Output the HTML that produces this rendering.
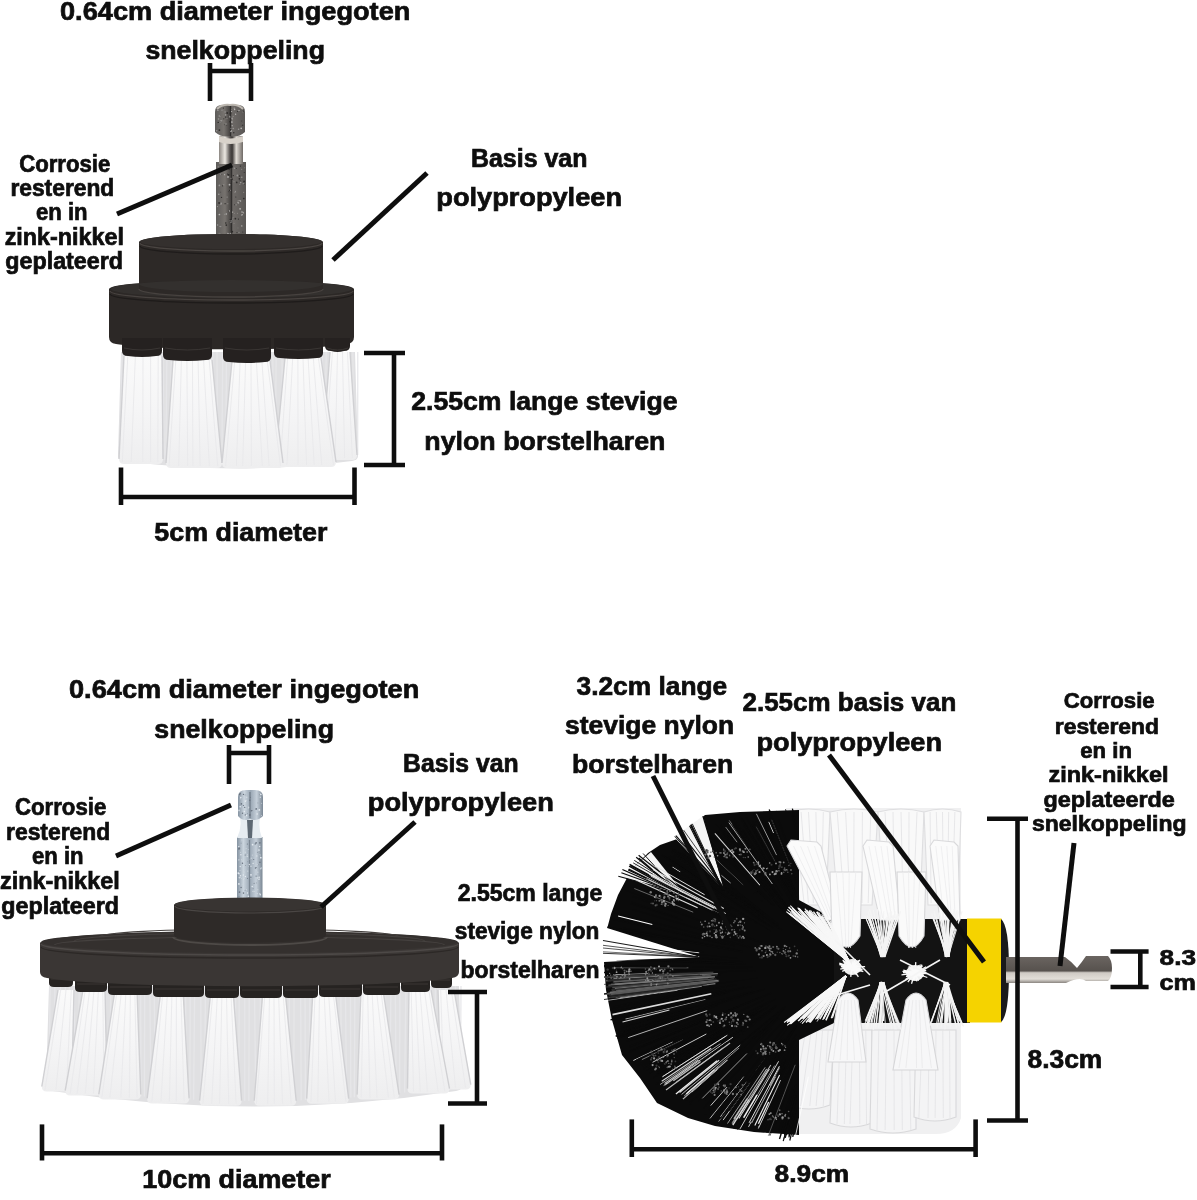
<!DOCTYPE html>
<html><head><meta charset="utf-8"><style>
html,body{margin:0;padding:0;background:#fff;width:1197px;height:1200px;overflow:hidden}
svg{display:block;will-change:transform}
text{font-family:"Liberation Sans",sans-serif;font-weight:bold;fill:#0e0e0e;stroke:#0e0e0e;stroke-width:0.7px}
</style></head><body>
<svg width="1197" height="1200" viewBox="0 0 1197 1200">
<defs>
<linearGradient id="metal" x1="0" x2="1" y1="0" y2="0">
 <stop offset="0" stop-color="#5e5c5a"/><stop offset="0.3" stop-color="#77736f"/><stop offset="0.48" stop-color="#4a4745"/><stop offset="0.52" stop-color="#2e2c2b"/><stop offset="0.56" stop-color="#6e6a67"/><stop offset="1" stop-color="#5a5755"/>
</linearGradient>
<linearGradient id="neck" x1="0" x2="1" y1="0" y2="0">
 <stop offset="0" stop-color="#8c8782"/><stop offset="0.25" stop-color="#ece8e2"/><stop offset="0.45" stop-color="#5a5654"/><stop offset="0.55" stop-color="#3a3634"/><stop offset="0.72" stop-color="#e1dcd5"/><stop offset="1" stop-color="#6f6a66"/>
</linearGradient>
<linearGradient id="metalB" x1="0" x2="1" y1="0" y2="0">
 <stop offset="0" stop-color="#8593a1"/><stop offset="0.25" stop-color="#cbd5de"/><stop offset="0.5" stop-color="#9aa7b4"/><stop offset="0.75" stop-color="#c5cfd9"/><stop offset="1" stop-color="#7a8794"/>
</linearGradient>
<linearGradient id="metalR" x1="0" x2="0" y1="0" y2="1">
 <stop offset="0" stop-color="#6b6561"/><stop offset="0.55" stop-color="#57524e"/><stop offset="0.62" stop-color="#cfcac4"/><stop offset="0.85" stop-color="#e2ded8"/><stop offset="1" stop-color="#8a8580"/>
</linearGradient>
<linearGradient id="tuft" x1="0" x2="0" y1="0" y2="1">
 <stop offset="0" stop-color="#fafafa"/><stop offset="0.5" stop-color="#f5f5f6"/><stop offset="1" stop-color="#eeeeef"/>
</linearGradient>
<linearGradient id="tuftR" x1="0" x2="1" y1="0" y2="0">
 <stop offset="0" stop-color="#e6e6e7"/><stop offset="0.5" stop-color="#fbfbfb"/><stop offset="1" stop-color="#e2e2e3"/>
</linearGradient>
<linearGradient id="sideT" x1="0" x2="1" y1="0" y2="0">
 <stop offset="0" stop-color="#2a2624"/><stop offset="0.5" stop-color="#322e2c"/><stop offset="1" stop-color="#262220"/>
</linearGradient>
<linearGradient id="sideB" x1="0" x2="1" y1="0" y2="0">
 <stop offset="0" stop-color="#353130"/><stop offset="0.5" stop-color="#3b3735"/><stop offset="1" stop-color="#322e2c"/>
</linearGradient>
</defs>
<rect x="216" y="162" width="30" height="82" fill="url(#metal)"/>
<rect x="219" y="136" width="24" height="28" fill="url(#neck)"/>
<path d="M215,112 Q215,105 222,105 L238,105 Q245,105 245,112 L245,132 Q238,138 230,136 Q222,138 215,132 Z" fill="url(#metal)"/>
<path d="M217,109 Q222,104 230,105 Q238,104 243,109" stroke="#bdb8b1" stroke-width="2" fill="none"/>
<circle cx="225.1" cy="111.9" r="0.73" fill="#9a9896"/>
<circle cx="239.0" cy="110.4" r="0.69" fill="#b8b6b4"/>
<circle cx="222.0" cy="110.2" r="0.61" fill="#9a9896"/>
<circle cx="218.5" cy="119.0" r="0.81" fill="#9a9896"/>
<circle cx="242.5" cy="124.4" r="0.69" fill="#9a9896"/>
<circle cx="232.2" cy="118.3" r="0.89" fill="#9a9896"/>
<circle cx="231.6" cy="111.5" r="0.61" fill="#b8b6b4"/>
<circle cx="219.3" cy="116.0" r="0.81" fill="#9a9896"/>
<circle cx="218.9" cy="122.9" r="0.49" fill="#9a9896"/>
<circle cx="231.3" cy="109.6" r="0.43" fill="#9a9896"/>
<circle cx="229.9" cy="121.8" r="0.79" fill="#2e2c2b"/>
<circle cx="232.4" cy="119.8" r="0.55" fill="#9a9896"/>
<circle cx="235.6" cy="114.3" r="0.69" fill="#b8b6b4"/>
<circle cx="229.9" cy="116.9" r="0.62" fill="#b8b6b4"/>
<circle cx="243.4" cy="111.1" r="0.61" fill="#2e2c2b"/>
<circle cx="220.3" cy="120.7" r="0.42" fill="#b8b6b4"/>
<circle cx="218.2" cy="122.5" r="0.79" fill="#2e2c2b"/>
<circle cx="225.5" cy="117.1" r="0.65" fill="#2e2c2b"/>
<circle cx="217.9" cy="110.4" r="0.53" fill="#b8b6b4"/>
<circle cx="234.6" cy="109.6" r="0.75" fill="#b8b6b4"/>
<circle cx="232.2" cy="125.7" r="0.62" fill="#b8b6b4"/>
<circle cx="226.8" cy="125.4" r="0.41" fill="#2e2c2b"/>
<circle cx="226.0" cy="123.9" r="0.65" fill="#9a9896"/>
<circle cx="237.5" cy="111.4" r="0.52" fill="#2e2c2b"/>
<circle cx="241.7" cy="120.9" r="0.48" fill="#2e2c2b"/>
<circle cx="231.4" cy="131.0" r="0.81" fill="#b8b6b4"/>
<circle cx="223.8" cy="118.8" r="0.58" fill="#2e2c2b"/>
<circle cx="242.8" cy="111.9" r="0.49" fill="#9a9896"/>
<circle cx="234.4" cy="108.3" r="0.82" fill="#9a9896"/>
<circle cx="223.4" cy="108.1" r="0.61" fill="#2e2c2b"/>
<circle cx="233.1" cy="116.3" r="0.46" fill="#b8b6b4"/>
<circle cx="242.6" cy="125.0" r="0.77" fill="#2e2c2b"/>
<circle cx="241.2" cy="128.3" r="0.84" fill="#b8b6b4"/>
<circle cx="227.0" cy="118.4" r="0.45" fill="#b8b6b4"/>
<circle cx="227.2" cy="113.0" r="0.89" fill="#2e2c2b"/>
<circle cx="220.5" cy="116.8" r="0.43" fill="#9a9896"/>
<circle cx="231.9" cy="122.0" r="0.87" fill="#b8b6b4"/>
<circle cx="216.7" cy="130.7" r="0.71" fill="#9a9896"/>
<circle cx="233.8" cy="132.8" r="0.70" fill="#2e2c2b"/>
<circle cx="219.4" cy="130.1" r="0.90" fill="#2e2c2b"/>
<circle cx="229.5" cy="116.1" r="0.47" fill="#b8b6b4"/>
<circle cx="225.6" cy="114.9" r="0.81" fill="#9a9896"/>
<circle cx="230.5" cy="113.3" r="0.88" fill="#2e2c2b"/>
<circle cx="220.1" cy="122.1" r="0.41" fill="#b8b6b4"/>
<circle cx="224.3" cy="124.7" r="0.45" fill="#2e2c2b"/>
<circle cx="230.5" cy="131.6" r="0.58" fill="#9a9896"/>
<circle cx="230.9" cy="128.3" r="0.56" fill="#9a9896"/>
<circle cx="233.2" cy="128.5" r="0.78" fill="#9a9896"/>
<circle cx="238.6" cy="129.3" r="0.77" fill="#9a9896"/>
<circle cx="221.6" cy="120.8" r="0.77" fill="#9a9896"/>
<circle cx="239.1" cy="200.4" r="0.50" fill="#b8b6b4"/>
<circle cx="243.8" cy="198.5" r="0.87" fill="#2e2c2b"/>
<circle cx="243.7" cy="192.3" r="0.51" fill="#9a9896"/>
<circle cx="230.2" cy="190.3" r="0.64" fill="#b8b6b4"/>
<circle cx="240.5" cy="201.0" r="0.73" fill="#b8b6b4"/>
<circle cx="219.4" cy="214.5" r="0.85" fill="#b8b6b4"/>
<circle cx="238.0" cy="200.9" r="0.49" fill="#b8b6b4"/>
<circle cx="226.3" cy="225.1" r="0.89" fill="#2e2c2b"/>
<circle cx="230.0" cy="220.8" r="0.44" fill="#9a9896"/>
<circle cx="221.8" cy="174.5" r="0.48" fill="#2e2c2b"/>
<circle cx="239.6" cy="176.0" r="0.81" fill="#2e2c2b"/>
<circle cx="235.4" cy="191.3" r="0.67" fill="#9a9896"/>
<circle cx="217.6" cy="225.0" r="0.76" fill="#9a9896"/>
<circle cx="231.7" cy="235.0" r="0.62" fill="#9a9896"/>
<circle cx="240.1" cy="180.8" r="0.53" fill="#2e2c2b"/>
<circle cx="231.0" cy="222.3" r="0.56" fill="#b8b6b4"/>
<circle cx="228.7" cy="174.8" r="0.86" fill="#2e2c2b"/>
<circle cx="242.1" cy="214.7" r="0.81" fill="#b8b6b4"/>
<circle cx="228.8" cy="233.8" r="0.65" fill="#b8b6b4"/>
<circle cx="221.3" cy="203.3" r="0.84" fill="#9a9896"/>
<circle cx="234.0" cy="223.2" r="0.47" fill="#9a9896"/>
<circle cx="230.3" cy="219.4" r="0.68" fill="#2e2c2b"/>
<circle cx="236.1" cy="204.8" r="0.64" fill="#9a9896"/>
<circle cx="241.7" cy="169.3" r="0.50" fill="#9a9896"/>
<circle cx="238.6" cy="203.1" r="0.68" fill="#9a9896"/>
<circle cx="229.4" cy="210.9" r="0.65" fill="#b8b6b4"/>
<circle cx="222.6" cy="185.8" r="0.65" fill="#2e2c2b"/>
<circle cx="231.2" cy="183.6" r="0.66" fill="#2e2c2b"/>
<circle cx="242.8" cy="232.0" r="0.50" fill="#2e2c2b"/>
<circle cx="220.8" cy="174.1" r="0.62" fill="#9a9896"/>
<circle cx="235.8" cy="197.1" r="0.51" fill="#2e2c2b"/>
<circle cx="239.0" cy="232.3" r="0.48" fill="#b8b6b4"/>
<circle cx="235.0" cy="192.5" r="0.53" fill="#9a9896"/>
<circle cx="244.1" cy="181.5" r="0.88" fill="#2e2c2b"/>
<circle cx="241.8" cy="177.2" r="0.73" fill="#9a9896"/>
<circle cx="221.5" cy="197.4" r="0.66" fill="#2e2c2b"/>
<circle cx="228.8" cy="191.7" r="0.45" fill="#2e2c2b"/>
<circle cx="217.5" cy="206.6" r="0.62" fill="#9a9896"/>
<circle cx="227.8" cy="203.8" r="0.55" fill="#9a9896"/>
<circle cx="220.2" cy="233.9" r="0.51" fill="#9a9896"/>
<circle cx="219.4" cy="185.4" r="0.85" fill="#9a9896"/>
<circle cx="224.6" cy="174.7" r="0.61" fill="#b8b6b4"/>
<circle cx="239.9" cy="184.4" r="0.47" fill="#b8b6b4"/>
<circle cx="233.0" cy="217.5" r="0.44" fill="#9a9896"/>
<circle cx="239.4" cy="178.8" r="0.85" fill="#2e2c2b"/>
<circle cx="243.3" cy="212.6" r="0.80" fill="#9a9896"/>
<circle cx="234.0" cy="181.7" r="0.53" fill="#9a9896"/>
<circle cx="229.7" cy="190.4" r="0.68" fill="#2e2c2b"/>
<circle cx="234.4" cy="168.2" r="0.75" fill="#9a9896"/>
<circle cx="244.1" cy="184.6" r="0.49" fill="#2e2c2b"/>
<circle cx="234.6" cy="204.8" r="0.50" fill="#2e2c2b"/>
<circle cx="231.0" cy="178.3" r="0.57" fill="#9a9896"/>
<circle cx="244.8" cy="167.8" r="0.41" fill="#b8b6b4"/>
<circle cx="232.4" cy="179.2" r="0.64" fill="#2e2c2b"/>
<circle cx="220.0" cy="226.4" r="0.62" fill="#2e2c2b"/>
<circle cx="232.3" cy="231.7" r="0.89" fill="#2e2c2b"/>
<circle cx="236.3" cy="238.7" r="0.57" fill="#b8b6b4"/>
<circle cx="237.4" cy="175.5" r="0.89" fill="#9a9896"/>
<circle cx="240.4" cy="166.1" r="0.71" fill="#2e2c2b"/>
<circle cx="229.1" cy="169.2" r="0.73" fill="#2e2c2b"/>
<circle cx="241.4" cy="215.3" r="0.54" fill="#9a9896"/>
<circle cx="236.4" cy="168.4" r="0.49" fill="#2e2c2b"/>
<circle cx="229.5" cy="184.7" r="0.88" fill="#b8b6b4"/>
<circle cx="226.1" cy="167.6" r="0.84" fill="#9a9896"/>
<circle cx="227.0" cy="165.1" r="0.59" fill="#2e2c2b"/>
<circle cx="224.8" cy="214.2" r="0.52" fill="#9a9896"/>
<circle cx="219.5" cy="226.3" r="0.47" fill="#b8b6b4"/>
<circle cx="218.2" cy="166.7" r="0.55" fill="#9a9896"/>
<circle cx="219.4" cy="236.8" r="0.83" fill="#9a9896"/>
<circle cx="235.4" cy="218.7" r="0.84" fill="#2e2c2b"/>
<circle cx="238.4" cy="219.1" r="0.65" fill="#2e2c2b"/>
<circle cx="237.3" cy="213.2" r="0.42" fill="#b8b6b4"/>
<circle cx="242.0" cy="212.0" r="0.77" fill="#b8b6b4"/>
<circle cx="220.9" cy="204.3" r="0.65" fill="#9a9896"/>
<circle cx="240.1" cy="208.8" r="0.85" fill="#b8b6b4"/>
<circle cx="243.8" cy="213.2" r="0.44" fill="#9a9896"/>
<circle cx="220.7" cy="192.1" r="0.45" fill="#2e2c2b"/>
<circle cx="232.6" cy="212.1" r="0.71" fill="#b8b6b4"/>
<circle cx="223.8" cy="184.8" r="0.63" fill="#9a9896"/>
<circle cx="238.0" cy="202.7" r="0.67" fill="#b8b6b4"/>
<circle cx="231.7" cy="220.9" r="0.64" fill="#9a9896"/>
<circle cx="240.7" cy="182.6" r="0.78" fill="#9a9896"/>
<circle cx="237.7" cy="238.2" r="0.65" fill="#2e2c2b"/>
<circle cx="219.1" cy="233.3" r="0.54" fill="#9a9896"/>
<circle cx="234.3" cy="213.2" r="0.44" fill="#9a9896"/>
<circle cx="226.3" cy="213.9" r="0.75" fill="#b8b6b4"/>
<circle cx="232.9" cy="165.9" r="0.43" fill="#2e2c2b"/>
<circle cx="244.2" cy="172.5" r="0.51" fill="#2e2c2b"/>
<circle cx="225.1" cy="203.7" r="0.63" fill="#2e2c2b"/>
<circle cx="238.5" cy="239.5" r="0.67" fill="#2e2c2b"/>
<circle cx="244.4" cy="235.2" r="0.41" fill="#2e2c2b"/>
<circle cx="219.1" cy="203.0" r="0.90" fill="#2e2c2b"/>
<circle cx="227.8" cy="233.7" r="0.87" fill="#9a9896"/>
<circle cx="233.3" cy="175.6" r="0.66" fill="#2e2c2b"/>
<circle cx="220.7" cy="226.5" r="0.65" fill="#9a9896"/>
<circle cx="236.7" cy="182.4" r="0.85" fill="#2e2c2b"/>
<circle cx="228.0" cy="176.9" r="0.87" fill="#b8b6b4"/>
<circle cx="229.6" cy="187.6" r="0.47" fill="#2e2c2b"/>
<circle cx="227.5" cy="174.1" r="0.57" fill="#2e2c2b"/>
<circle cx="238.0" cy="227.9" r="0.46" fill="#9a9896"/>
<circle cx="237.0" cy="232.6" r="0.54" fill="#2e2c2b"/>
<circle cx="218.8" cy="194.3" r="0.83" fill="#9a9896"/>
<circle cx="227.1" cy="197.1" r="0.54" fill="#9a9896"/>
<circle cx="224.9" cy="168.9" r="0.73" fill="#b8b6b4"/>
<circle cx="243.2" cy="183.7" r="0.53" fill="#b8b6b4"/>
<circle cx="225.8" cy="223.0" r="0.79" fill="#2e2c2b"/>
<circle cx="241.8" cy="225.9" r="0.72" fill="#b8b6b4"/>
<circle cx="232.4" cy="219.0" r="0.42" fill="#b8b6b4"/>
<circle cx="228.5" cy="211.1" r="0.47" fill="#2e2c2b"/>
<circle cx="230.6" cy="233.4" r="0.68" fill="#9a9896"/>
<path d="M219,136 Q230,141 243,136 L243,142 Q230,146 219,142 Z" fill="#d8d2ca"/>
<path d="M139,242 A92,8 0 0 1 323,242 L323,284 Q323,288 317,289 A92,8 0 0 1 145,289 Q139,288 139,284 Z" fill="#2d2927"/>
<ellipse cx="231" cy="241.5" rx="91" ry="7.5" fill="#34302e"/>
<path d="M140,243 A91,8 0 0 0 322,243" stroke="#4a4542" stroke-width="1.4" fill="none"/>
<path d="M140,246 A91,8 0 0 0 322,246" stroke="#1f1c1b" stroke-width="1.4" fill="none"/>
<path d="M109,289 A122.5,9 0 0 1 354,289 L354,337 Q354,343 347,344 A122.5,8 0 0 1 116,344 Q109,343 109,337 Z" fill="#2c2826"/>
<path d="M111,289 A120.5,9 0 0 1 352,289 A120.5,9 0 0 1 111,289 Z" fill="#33302e"/>
<path d="M139,284 L139,289 A92,8 0 0 0 323,289 L323,284 A92,8 0 0 1 139,284 Z" fill="#2d2927"/>
<path d="M139,289 A92,8 0 0 0 323,289" stroke="#47423f" stroke-width="1.4" fill="none"/>
<path d="M110,291 A121.5,9 0 0 0 353,291" stroke="#47423f" stroke-width="1.4" fill="none"/>
<path d="M110,294 A121.5,9 0 0 0 353,294" stroke="#1e1b1a" stroke-width="1.4" fill="none"/>
<path d="M121,352 L355,352 L358,456 Q358,460 352,461 Q238.0,476 124,461 Q118,460 118,456 Z" fill="#e0e0e2"/>
<line x1="121.9" y1="352" x2="121.5" y2="455.5" stroke="#e6e6e9" stroke-width="1.2"/>
<line x1="126.6" y1="352" x2="127.3" y2="456.1" stroke="#e6e6e9" stroke-width="1.2"/>
<line x1="133.0" y1="352" x2="132.2" y2="456.9" stroke="#e6e6e9" stroke-width="1.2"/>
<line x1="137.3" y1="352" x2="136.7" y2="457.4" stroke="#e6e6e9" stroke-width="1.2"/>
<line x1="142.1" y1="352" x2="141.8" y2="457.9" stroke="#e6e6e9" stroke-width="1.2"/>
<line x1="146.3" y1="352" x2="145.3" y2="458.3" stroke="#e6e6e9" stroke-width="1.2"/>
<line x1="151.4" y1="352" x2="152.6" y2="458.8" stroke="#e6e6e9" stroke-width="1.2"/>
<line x1="157.0" y1="352" x2="156.2" y2="459.4" stroke="#e6e6e9" stroke-width="1.2"/>
<line x1="162.8" y1="352" x2="164.3" y2="459.9" stroke="#e6e6e9" stroke-width="1.2"/>
<line x1="166.9" y1="352" x2="165.8" y2="460.2" stroke="#e6e6e9" stroke-width="1.2"/>
<line x1="171.4" y1="352" x2="170.2" y2="460.5" stroke="#e6e6e9" stroke-width="1.2"/>
<line x1="176.7" y1="352" x2="175.5" y2="460.9" stroke="#e6e6e9" stroke-width="1.2"/>
<line x1="181.5" y1="352" x2="180.8" y2="461.2" stroke="#e6e6e9" stroke-width="1.2"/>
<line x1="187.1" y1="352" x2="188.3" y2="461.6" stroke="#e6e6e9" stroke-width="1.2"/>
<line x1="192.5" y1="352" x2="192.2" y2="461.8" stroke="#e6e6e9" stroke-width="1.2"/>
<line x1="196.8" y1="352" x2="196.9" y2="462.1" stroke="#e6e6e9" stroke-width="1.2"/>
<line x1="201.8" y1="352" x2="201.3" y2="462.3" stroke="#e6e6e9" stroke-width="1.2"/>
<line x1="206.1" y1="352" x2="205.5" y2="462.4" stroke="#e6e6e9" stroke-width="1.2"/>
<line x1="212.9" y1="352" x2="211.8" y2="462.7" stroke="#e6e6e9" stroke-width="1.2"/>
<line x1="217.0" y1="352" x2="217.4" y2="462.8" stroke="#e6e6e9" stroke-width="1.2"/>
<line x1="222.7" y1="352" x2="221.9" y2="462.9" stroke="#e6e6e9" stroke-width="1.2"/>
<line x1="226.5" y1="352" x2="225.8" y2="462.9" stroke="#e6e6e9" stroke-width="1.2"/>
<line x1="231.8" y1="352" x2="231.6" y2="463.0" stroke="#e6e6e9" stroke-width="1.2"/>
<line x1="237.9" y1="352" x2="239.0" y2="463.0" stroke="#e6e6e9" stroke-width="1.2"/>
<line x1="242.7" y1="352" x2="241.3" y2="463.0" stroke="#e6e6e9" stroke-width="1.2"/>
<line x1="246.1" y1="352" x2="246.7" y2="463.0" stroke="#e6e6e9" stroke-width="1.2"/>
<line x1="252.8" y1="352" x2="252.7" y2="462.9" stroke="#e6e6e9" stroke-width="1.2"/>
<line x1="257.2" y1="352" x2="255.7" y2="462.8" stroke="#e6e6e9" stroke-width="1.2"/>
<line x1="261.8" y1="352" x2="263.1" y2="462.7" stroke="#e6e6e9" stroke-width="1.2"/>
<line x1="267.7" y1="352" x2="268.7" y2="462.5" stroke="#e6e6e9" stroke-width="1.2"/>
<line x1="272.9" y1="352" x2="272.2" y2="462.3" stroke="#e6e6e9" stroke-width="1.2"/>
<line x1="276.2" y1="352" x2="275.2" y2="462.2" stroke="#e6e6e9" stroke-width="1.2"/>
<line x1="282.0" y1="352" x2="282.6" y2="461.9" stroke="#e6e6e9" stroke-width="1.2"/>
<line x1="287.9" y1="352" x2="288.5" y2="461.6" stroke="#e6e6e9" stroke-width="1.2"/>
<line x1="292.3" y1="352" x2="293.1" y2="461.4" stroke="#e6e6e9" stroke-width="1.2"/>
<line x1="296.9" y1="352" x2="297.1" y2="461.1" stroke="#e6e6e9" stroke-width="1.2"/>
<line x1="301.1" y1="352" x2="301.9" y2="460.8" stroke="#e6e6e9" stroke-width="1.2"/>
<line x1="306.5" y1="352" x2="307.7" y2="460.4" stroke="#e6e6e9" stroke-width="1.2"/>
<line x1="312.3" y1="352" x2="311.7" y2="459.9" stroke="#e6e6e9" stroke-width="1.2"/>
<line x1="316.3" y1="352" x2="315.5" y2="459.6" stroke="#e6e6e9" stroke-width="1.2"/>
<line x1="322.3" y1="352" x2="322.9" y2="459.1" stroke="#e6e6e9" stroke-width="1.2"/>
<line x1="326.2" y1="352" x2="324.9" y2="458.7" stroke="#e6e6e9" stroke-width="1.2"/>
<line x1="332.0" y1="352" x2="332.3" y2="458.1" stroke="#e6e6e9" stroke-width="1.2"/>
<line x1="336.8" y1="352" x2="335.9" y2="457.6" stroke="#e6e6e9" stroke-width="1.2"/>
<line x1="342.2" y1="352" x2="340.7" y2="457.0" stroke="#e6e6e9" stroke-width="1.2"/>
<line x1="346.6" y1="352" x2="346.5" y2="456.4" stroke="#e6e6e9" stroke-width="1.2"/>
<line x1="352.9" y1="352" x2="353.4" y2="455.7" stroke="#e6e6e9" stroke-width="1.2"/>
<line x1="357.8" y1="352" x2="357.7" y2="455.0" stroke="#e6e6e9" stroke-width="1.2"/>
<path d="M124,356 L162,356 L163,459 Q163,464 158,464 L124,464 Q119,464 119,459 Z" fill="url(#tuft)"/>
<path d="M124,356 L119,459" stroke="#d0d0d3" stroke-width="1.4" fill="none"/>
<path d="M162,356 L163,459" stroke="#d0d0d3" stroke-width="1.4" fill="none"/>
<line x1="127.8" y1="356" x2="122.3" y2="462" stroke="#e9e9eb" stroke-width="0.9"/>
<line x1="135.4" y1="356" x2="131.2" y2="462" stroke="#e9e9eb" stroke-width="0.9"/>
<line x1="143.0" y1="356" x2="142.8" y2="462" stroke="#e9e9eb" stroke-width="0.9"/>
<line x1="150.6" y1="356" x2="150.6" y2="462" stroke="#e9e9eb" stroke-width="0.9"/>
<line x1="158.2" y1="356" x2="157.8" y2="462" stroke="#e9e9eb" stroke-width="0.9"/>
<path d="M330,352 L350,352 L357,455 Q357,460 352,460 L327,460 Q322,460 322,455 Z" fill="url(#tuft)"/>
<path d="M330,352 L322,455" stroke="#d0d0d3" stroke-width="1.4" fill="none"/>
<path d="M350,352 L357,455" stroke="#d0d0d3" stroke-width="1.4" fill="none"/>
<line x1="332.5" y1="352" x2="324.5" y2="458" stroke="#e9e9eb" stroke-width="0.9"/>
<line x1="337.5" y1="352" x2="335.1" y2="458" stroke="#e9e9eb" stroke-width="0.9"/>
<line x1="342.5" y1="352" x2="344.6" y2="458" stroke="#e9e9eb" stroke-width="0.9"/>
<line x1="347.5" y1="352" x2="352.3" y2="458" stroke="#e9e9eb" stroke-width="0.9"/>
<path d="M173,360 L212,360 L222,463 Q222,468 217,468 L171,468 Q166,468 166,463 Z" fill="url(#tuft)"/>
<path d="M173,360 L166,463" stroke="#d0d0d3" stroke-width="1.4" fill="none"/>
<path d="M212,360 L222,463" stroke="#d0d0d3" stroke-width="1.4" fill="none"/>
<line x1="175.8" y1="360" x2="169.0" y2="466" stroke="#e9e9eb" stroke-width="0.9"/>
<line x1="181.4" y1="360" x2="178.7" y2="466" stroke="#e9e9eb" stroke-width="0.9"/>
<line x1="186.9" y1="360" x2="187.7" y2="466" stroke="#e9e9eb" stroke-width="0.9"/>
<line x1="192.5" y1="360" x2="192.9" y2="466" stroke="#e9e9eb" stroke-width="0.9"/>
<line x1="198.1" y1="360" x2="200.1" y2="466" stroke="#e9e9eb" stroke-width="0.9"/>
<line x1="203.6" y1="360" x2="209.4" y2="466" stroke="#e9e9eb" stroke-width="0.9"/>
<line x1="209.2" y1="360" x2="217.7" y2="466" stroke="#e9e9eb" stroke-width="0.9"/>
<path d="M285,358 L321,358 L336,462 Q336,467 331,467 L280,467 Q275,467 275,462 Z" fill="url(#tuft)"/>
<path d="M285,358 L275,462" stroke="#d0d0d3" stroke-width="1.4" fill="none"/>
<path d="M321,358 L336,462" stroke="#d0d0d3" stroke-width="1.4" fill="none"/>
<line x1="287.6" y1="358" x2="280.1" y2="465" stroke="#e9e9eb" stroke-width="0.9"/>
<line x1="292.7" y1="358" x2="286.9" y2="465" stroke="#e9e9eb" stroke-width="0.9"/>
<line x1="297.9" y1="358" x2="298.0" y2="465" stroke="#e9e9eb" stroke-width="0.9"/>
<line x1="303.0" y1="358" x2="306.5" y2="465" stroke="#e9e9eb" stroke-width="0.9"/>
<line x1="308.1" y1="358" x2="314.2" y2="465" stroke="#e9e9eb" stroke-width="0.9"/>
<line x1="313.3" y1="358" x2="321.7" y2="465" stroke="#e9e9eb" stroke-width="0.9"/>
<line x1="318.4" y1="358" x2="333.5" y2="465" stroke="#e9e9eb" stroke-width="0.9"/>
<path d="M232,361 L270,361 L283,463 Q283,468 278,468 L227,468 Q222,468 222,463 Z" fill="url(#tuft)"/>
<path d="M232,361 L222,463" stroke="#d0d0d3" stroke-width="1.4" fill="none"/>
<path d="M270,361 L283,463" stroke="#d0d0d3" stroke-width="1.4" fill="none"/>
<line x1="234.7" y1="361" x2="225.6" y2="466" stroke="#e9e9eb" stroke-width="0.9"/>
<line x1="240.1" y1="361" x2="236.4" y2="466" stroke="#e9e9eb" stroke-width="0.9"/>
<line x1="245.6" y1="361" x2="242.7" y2="466" stroke="#e9e9eb" stroke-width="0.9"/>
<line x1="251.0" y1="361" x2="251.4" y2="466" stroke="#e9e9eb" stroke-width="0.9"/>
<line x1="256.4" y1="361" x2="262.3" y2="466" stroke="#e9e9eb" stroke-width="0.9"/>
<line x1="261.9" y1="361" x2="269.1" y2="466" stroke="#e9e9eb" stroke-width="0.9"/>
<line x1="267.3" y1="361" x2="280.5" y2="466" stroke="#e9e9eb" stroke-width="0.9"/>
<path d="M122,338 L162,338 L162,351 Q162,356 156,356 Q142.0,358 128,356 Q122,356 122,351 Z" fill="#252120"/>
<path d="M124,348 Q142.0,352 160,348" stroke="#3a3634" stroke-width="1" fill="none"/>
<path d="M325,338 L350,338 L350,346 Q350,351 344,351 Q337.5,353 331,351 Q325,351 325,346 Z" fill="#252120"/>
<path d="M327,348 Q337.5,352 348,348" stroke="#3a3634" stroke-width="1" fill="none"/>
<path d="M163,338 L212,338 L212,355 Q212,360 206,360 Q187.5,362 169,360 Q163,360 163,355 Z" fill="#252120"/>
<path d="M165,348 Q187.5,352 210,348" stroke="#3a3634" stroke-width="1" fill="none"/>
<path d="M274,338 L323,338 L323,353 Q323,358 317,358 Q298.5,360 280,358 Q274,358 274,353 Z" fill="#252120"/>
<path d="M276,348 Q298.5,352 321,348" stroke="#3a3634" stroke-width="1" fill="none"/>
<path d="M223,338 L271,338 L271,357 Q271,362 265,362 Q247.0,364 229,362 Q223,362 223,357 Z" fill="#252120"/>
<path d="M225,348 Q247.0,352 269,348" stroke="#3a3634" stroke-width="1" fill="none"/>
<line x1="117.0" y1="214.0" x2="232.0" y2="165.0" stroke="#0e0e0e" stroke-width="5" stroke-linecap="butt"/>
<line x1="427.0" y1="173.0" x2="333.0" y2="260.0" stroke="#0e0e0e" stroke-width="5" stroke-linecap="butt"/>
<path d="M210,63 L210,101 M251,63 L251,101 M210,71 L251,71" stroke="#0e0e0e" stroke-width="4.6" fill="none"/>
<line x1="394.0" y1="353.0" x2="394.0" y2="465.0" stroke="#0e0e0e" stroke-width="4.6" stroke-linecap="butt"/>
<line x1="364.0" y1="353.0" x2="405.0" y2="353.0" stroke="#0e0e0e" stroke-width="4.6" stroke-linecap="butt"/>
<line x1="364.0" y1="465.0" x2="405.0" y2="465.0" stroke="#0e0e0e" stroke-width="4.6" stroke-linecap="butt"/>
<line x1="121.0" y1="497.0" x2="354.5" y2="497.0" stroke="#0e0e0e" stroke-width="4.6" stroke-linecap="butt"/>
<line x1="121.0" y1="467.5" x2="121.0" y2="505.0" stroke="#0e0e0e" stroke-width="4.6" stroke-linecap="butt"/>
<line x1="354.5" y1="467.5" x2="354.5" y2="505.0" stroke="#0e0e0e" stroke-width="4.6" stroke-linecap="butt"/>
<rect x="237" y="837" width="25.5" height="66" fill="url(#metalB)"/>
<path d="M240,818 L260,818 Q258,828 262,838 L237,838 Q242,828 240,818 Z" fill="#e6ecf1"/>
<path d="M247,820 L253,820 L252,838 L248,838 Z" fill="#5d6873"/>
<path d="M238,797 Q238,790 246,790 L255,790 Q263,790 263,797 L263,816 Q257,822 250,819 Q243,822 238,816 Z" fill="url(#metalB)"/>
<line x1="250" y1="792" x2="250" y2="818" stroke="#6f7b86" stroke-width="1.2"/>
<line x1="249.5" y1="840" x2="249.5" y2="900" stroke="#7a8692" stroke-width="1.2"/>
<circle cx="250.4" cy="797.3" r="0.51" fill="#6a7480"/>
<circle cx="259.9" cy="794.3" r="0.70" fill="#6a7480"/>
<circle cx="240.3" cy="793.5" r="0.70" fill="#6a7480"/>
<circle cx="240.2" cy="794.4" r="0.60" fill="#cfd7de"/>
<circle cx="259.3" cy="809.9" r="0.90" fill="#e4eaf0"/>
<circle cx="246.6" cy="797.3" r="0.87" fill="#cfd7de"/>
<circle cx="249.8" cy="800.2" r="0.76" fill="#6a7480"/>
<circle cx="261.7" cy="803.2" r="0.45" fill="#e4eaf0"/>
<circle cx="245.4" cy="801.1" r="0.88" fill="#e4eaf0"/>
<circle cx="251.9" cy="810.5" r="0.59" fill="#6a7480"/>
<circle cx="257.9" cy="802.9" r="0.42" fill="#6a7480"/>
<circle cx="243.5" cy="805.5" r="0.62" fill="#6a7480"/>
<circle cx="247.4" cy="813.6" r="0.42" fill="#6a7480"/>
<circle cx="244.7" cy="807.4" r="0.60" fill="#6a7480"/>
<circle cx="239.8" cy="794.4" r="0.86" fill="#6a7480"/>
<circle cx="243.5" cy="794.4" r="0.70" fill="#6a7480"/>
<circle cx="245.3" cy="815.0" r="0.71" fill="#6a7480"/>
<circle cx="256.2" cy="808.9" r="0.86" fill="#6a7480"/>
<circle cx="239.1" cy="810.4" r="0.86" fill="#cfd7de"/>
<circle cx="260.8" cy="794.5" r="0.81" fill="#e4eaf0"/>
<circle cx="249.9" cy="815.0" r="0.88" fill="#6a7480"/>
<circle cx="257.2" cy="814.0" r="0.81" fill="#e4eaf0"/>
<circle cx="260.3" cy="797.2" r="0.80" fill="#cfd7de"/>
<circle cx="246.0" cy="808.9" r="0.48" fill="#e4eaf0"/>
<circle cx="246.5" cy="800.3" r="0.58" fill="#cfd7de"/>
<circle cx="240.8" cy="797.5" r="0.78" fill="#e4eaf0"/>
<circle cx="248.4" cy="807.9" r="0.64" fill="#cfd7de"/>
<circle cx="246.5" cy="815.5" r="0.84" fill="#e4eaf0"/>
<circle cx="245.1" cy="794.9" r="0.45" fill="#6a7480"/>
<circle cx="261.7" cy="815.4" r="0.49" fill="#e4eaf0"/>
<circle cx="248.6" cy="807.3" r="0.74" fill="#cfd7de"/>
<circle cx="251.4" cy="810.8" r="0.78" fill="#6a7480"/>
<circle cx="245.8" cy="806.0" r="0.59" fill="#cfd7de"/>
<circle cx="245.0" cy="803.1" r="0.49" fill="#e4eaf0"/>
<circle cx="242.5" cy="813.3" r="0.69" fill="#6a7480"/>
<circle cx="240.5" cy="798.8" r="0.52" fill="#cfd7de"/>
<circle cx="244.3" cy="811.6" r="0.73" fill="#e4eaf0"/>
<circle cx="241.4" cy="803.9" r="0.81" fill="#6a7480"/>
<circle cx="260.0" cy="793.9" r="0.55" fill="#e4eaf0"/>
<circle cx="240.2" cy="806.8" r="0.81" fill="#e4eaf0"/>
<circle cx="259.9" cy="862.3" r="0.83" fill="#6a7480"/>
<circle cx="252.2" cy="886.5" r="0.73" fill="#e4eaf0"/>
<circle cx="240.5" cy="875.8" r="0.71" fill="#e4eaf0"/>
<circle cx="238.9" cy="860.4" r="0.42" fill="#6a7480"/>
<circle cx="238.9" cy="883.9" r="0.86" fill="#e4eaf0"/>
<circle cx="257.2" cy="864.5" r="0.59" fill="#cfd7de"/>
<circle cx="245.3" cy="852.2" r="0.80" fill="#cfd7de"/>
<circle cx="249.4" cy="864.5" r="0.80" fill="#cfd7de"/>
<circle cx="250.9" cy="878.4" r="0.45" fill="#e4eaf0"/>
<circle cx="247.3" cy="856.3" r="0.89" fill="#cfd7de"/>
<circle cx="245.2" cy="897.2" r="0.56" fill="#cfd7de"/>
<circle cx="258.8" cy="864.8" r="0.41" fill="#6a7480"/>
<circle cx="253.1" cy="863.4" r="0.60" fill="#e4eaf0"/>
<circle cx="248.2" cy="849.4" r="0.46" fill="#e4eaf0"/>
<circle cx="247.5" cy="893.0" r="0.63" fill="#e4eaf0"/>
<circle cx="241.1" cy="843.1" r="0.47" fill="#6a7480"/>
<circle cx="240.1" cy="877.3" r="0.59" fill="#cfd7de"/>
<circle cx="242.0" cy="860.9" r="0.48" fill="#e4eaf0"/>
<circle cx="259.7" cy="846.5" r="0.65" fill="#e4eaf0"/>
<circle cx="245.1" cy="890.2" r="0.42" fill="#6a7480"/>
<circle cx="245.4" cy="876.5" r="0.72" fill="#e4eaf0"/>
<circle cx="259.2" cy="877.2" r="0.81" fill="#e4eaf0"/>
<circle cx="253.0" cy="891.4" r="0.71" fill="#cfd7de"/>
<circle cx="257.9" cy="889.8" r="0.49" fill="#e4eaf0"/>
<circle cx="239.0" cy="896.3" r="0.48" fill="#6a7480"/>
<circle cx="240.9" cy="854.8" r="0.76" fill="#e4eaf0"/>
<circle cx="239.0" cy="873.7" r="0.78" fill="#e4eaf0"/>
<circle cx="253.7" cy="859.5" r="0.59" fill="#6a7480"/>
<circle cx="250.9" cy="877.6" r="0.55" fill="#6a7480"/>
<circle cx="245.2" cy="855.0" r="0.59" fill="#6a7480"/>
<circle cx="248.5" cy="866.3" r="0.41" fill="#cfd7de"/>
<circle cx="261.2" cy="867.9" r="0.62" fill="#cfd7de"/>
<circle cx="256.3" cy="867.5" r="0.49" fill="#6a7480"/>
<circle cx="247.4" cy="844.0" r="0.58" fill="#6a7480"/>
<circle cx="240.2" cy="866.5" r="0.66" fill="#e4eaf0"/>
<circle cx="239.0" cy="847.8" r="0.86" fill="#6a7480"/>
<circle cx="256.3" cy="870.7" r="0.43" fill="#cfd7de"/>
<circle cx="259.0" cy="879.2" r="0.79" fill="#e4eaf0"/>
<circle cx="258.1" cy="899.8" r="0.77" fill="#e4eaf0"/>
<circle cx="242.6" cy="898.9" r="0.65" fill="#e4eaf0"/>
<circle cx="254.1" cy="883.3" r="0.51" fill="#6a7480"/>
<circle cx="252.3" cy="855.1" r="0.56" fill="#cfd7de"/>
<circle cx="244.5" cy="888.9" r="0.47" fill="#cfd7de"/>
<circle cx="260.7" cy="868.8" r="0.70" fill="#cfd7de"/>
<circle cx="249.9" cy="859.1" r="0.42" fill="#e4eaf0"/>
<circle cx="247.5" cy="878.2" r="0.54" fill="#6a7480"/>
<circle cx="259.0" cy="850.1" r="0.79" fill="#e4eaf0"/>
<circle cx="256.1" cy="842.9" r="0.83" fill="#6a7480"/>
<circle cx="251.0" cy="874.8" r="0.84" fill="#e4eaf0"/>
<circle cx="243.9" cy="872.1" r="0.83" fill="#cfd7de"/>
<circle cx="256.7" cy="855.9" r="0.90" fill="#cfd7de"/>
<circle cx="241.4" cy="859.8" r="0.44" fill="#e4eaf0"/>
<circle cx="242.2" cy="884.6" r="0.42" fill="#cfd7de"/>
<circle cx="244.0" cy="878.4" r="0.89" fill="#cfd7de"/>
<circle cx="259.8" cy="893.7" r="0.77" fill="#cfd7de"/>
<circle cx="238.8" cy="849.0" r="0.71" fill="#6a7480"/>
<circle cx="247.8" cy="861.8" r="0.42" fill="#6a7480"/>
<circle cx="243.3" cy="879.2" r="0.41" fill="#e4eaf0"/>
<circle cx="251.3" cy="858.2" r="0.66" fill="#cfd7de"/>
<circle cx="243.3" cy="875.0" r="0.69" fill="#e4eaf0"/>
<circle cx="246.6" cy="889.7" r="0.48" fill="#e4eaf0"/>
<circle cx="260.0" cy="854.6" r="0.47" fill="#e4eaf0"/>
<circle cx="239.5" cy="848.7" r="0.73" fill="#6a7480"/>
<circle cx="247.4" cy="855.9" r="0.41" fill="#cfd7de"/>
<circle cx="257.3" cy="893.6" r="0.70" fill="#cfd7de"/>
<circle cx="248.4" cy="896.2" r="0.77" fill="#e4eaf0"/>
<circle cx="241.9" cy="840.0" r="0.43" fill="#e4eaf0"/>
<circle cx="247.5" cy="854.3" r="0.43" fill="#e4eaf0"/>
<circle cx="238.3" cy="873.1" r="0.87" fill="#e4eaf0"/>
<circle cx="247.7" cy="871.1" r="0.72" fill="#cfd7de"/>
<circle cx="253.1" cy="888.8" r="0.49" fill="#6a7480"/>
<circle cx="239.5" cy="877.6" r="0.90" fill="#cfd7de"/>
<circle cx="256.4" cy="882.9" r="0.40" fill="#6a7480"/>
<circle cx="255.5" cy="867.9" r="0.77" fill="#6a7480"/>
<circle cx="242.1" cy="899.8" r="0.53" fill="#cfd7de"/>
<circle cx="238.9" cy="860.1" r="0.77" fill="#cfd7de"/>
<circle cx="260.2" cy="855.8" r="0.43" fill="#cfd7de"/>
<circle cx="251.0" cy="866.2" r="0.79" fill="#cfd7de"/>
<circle cx="260.8" cy="857.7" r="0.86" fill="#e4eaf0"/>
<circle cx="240.0" cy="870.4" r="0.48" fill="#e4eaf0"/>
<circle cx="257.8" cy="852.2" r="0.48" fill="#6a7480"/>
<circle cx="242.5" cy="863.3" r="0.70" fill="#6a7480"/>
<circle cx="259.3" cy="877.8" r="0.75" fill="#cfd7de"/>
<circle cx="257.8" cy="872.2" r="0.64" fill="#cfd7de"/>
<circle cx="254.4" cy="891.5" r="0.62" fill="#cfd7de"/>
<circle cx="243.5" cy="893.1" r="0.79" fill="#6a7480"/>
<circle cx="252.6" cy="844.7" r="0.86" fill="#e4eaf0"/>
<circle cx="238.8" cy="846.7" r="0.71" fill="#e4eaf0"/>
<circle cx="246.1" cy="848.5" r="0.41" fill="#e4eaf0"/>
<circle cx="241.3" cy="878.6" r="0.42" fill="#e4eaf0"/>
<circle cx="255.3" cy="843.9" r="0.70" fill="#6a7480"/>
<circle cx="242.7" cy="897.3" r="0.67" fill="#cfd7de"/>
<circle cx="239.5" cy="892.1" r="0.86" fill="#6a7480"/>
<circle cx="240.5" cy="852.3" r="0.46" fill="#e4eaf0"/>
<circle cx="260.3" cy="894.7" r="0.78" fill="#e4eaf0"/>
<circle cx="257.4" cy="877.9" r="0.54" fill="#e4eaf0"/>
<circle cx="241.1" cy="887.5" r="0.72" fill="#6a7480"/>
<circle cx="245.5" cy="865.4" r="0.41" fill="#6a7480"/>
<circle cx="259.9" cy="842.9" r="0.78" fill="#6a7480"/>
<circle cx="256.1" cy="876.1" r="0.64" fill="#6a7480"/>
<path d="M49,986 L459,986 L462,1086 Q462,1090 456,1091 Q254.0,1122 52,1091 Q46,1090 46,1086 Z" fill="#e0e0e2"/>
<line x1="50.2" y1="986" x2="48.8" y2="1085.6" stroke="#e6e6e9" stroke-width="1.2"/>
<line x1="54.8" y1="986" x2="54.6" y2="1086.3" stroke="#e6e6e9" stroke-width="1.2"/>
<line x1="60.5" y1="986" x2="60.1" y2="1087.2" stroke="#e6e6e9" stroke-width="1.2"/>
<line x1="65.4" y1="986" x2="65.5" y2="1087.8" stroke="#e6e6e9" stroke-width="1.2"/>
<line x1="69.4" y1="986" x2="70.5" y2="1088.4" stroke="#e6e6e9" stroke-width="1.2"/>
<line x1="74.2" y1="986" x2="75.1" y2="1089.0" stroke="#e6e6e9" stroke-width="1.2"/>
<line x1="79.3" y1="986" x2="77.8" y2="1089.7" stroke="#e6e6e9" stroke-width="1.2"/>
<line x1="84.4" y1="986" x2="85.2" y2="1090.4" stroke="#e6e6e9" stroke-width="1.2"/>
<line x1="91.0" y1="986" x2="89.5" y2="1091.2" stroke="#e6e6e9" stroke-width="1.2"/>
<line x1="95.0" y1="986" x2="95.0" y2="1091.6" stroke="#e6e6e9" stroke-width="1.2"/>
<line x1="100.6" y1="986" x2="99.6" y2="1092.3" stroke="#e6e6e9" stroke-width="1.2"/>
<line x1="105.0" y1="986" x2="104.5" y2="1092.8" stroke="#e6e6e9" stroke-width="1.2"/>
<line x1="110.7" y1="986" x2="109.9" y2="1093.4" stroke="#e6e6e9" stroke-width="1.2"/>
<line x1="115.9" y1="986" x2="115.2" y2="1093.9" stroke="#e6e6e9" stroke-width="1.2"/>
<line x1="119.4" y1="986" x2="120.0" y2="1094.3" stroke="#e6e6e9" stroke-width="1.2"/>
<line x1="125.0" y1="986" x2="123.8" y2="1094.8" stroke="#e6e6e9" stroke-width="1.2"/>
<line x1="130.3" y1="986" x2="129.0" y2="1095.3" stroke="#e6e6e9" stroke-width="1.2"/>
<line x1="135.6" y1="986" x2="136.2" y2="1095.8" stroke="#e6e6e9" stroke-width="1.2"/>
<line x1="140.6" y1="986" x2="141.0" y2="1096.2" stroke="#e6e6e9" stroke-width="1.2"/>
<line x1="144.7" y1="986" x2="144.4" y2="1096.6" stroke="#e6e6e9" stroke-width="1.2"/>
<line x1="149.8" y1="986" x2="151.0" y2="1097.0" stroke="#e6e6e9" stroke-width="1.2"/>
<line x1="154.2" y1="986" x2="155.3" y2="1097.3" stroke="#e6e6e9" stroke-width="1.2"/>
<line x1="159.1" y1="986" x2="158.2" y2="1097.7" stroke="#e6e6e9" stroke-width="1.2"/>
<line x1="164.5" y1="986" x2="165.7" y2="1098.0" stroke="#e6e6e9" stroke-width="1.2"/>
<line x1="170.0" y1="986" x2="169.6" y2="1098.4" stroke="#e6e6e9" stroke-width="1.2"/>
<line x1="175.8" y1="986" x2="175.0" y2="1098.7" stroke="#e6e6e9" stroke-width="1.2"/>
<line x1="179.9" y1="986" x2="180.0" y2="1099.0" stroke="#e6e6e9" stroke-width="1.2"/>
<line x1="185.5" y1="986" x2="186.3" y2="1099.3" stroke="#e6e6e9" stroke-width="1.2"/>
<line x1="190.3" y1="986" x2="189.8" y2="1099.5" stroke="#e6e6e9" stroke-width="1.2"/>
<line x1="194.7" y1="986" x2="193.6" y2="1099.7" stroke="#e6e6e9" stroke-width="1.2"/>
<line x1="200.7" y1="986" x2="201.2" y2="1099.9" stroke="#e6e6e9" stroke-width="1.2"/>
<line x1="205.5" y1="986" x2="204.5" y2="1100.1" stroke="#e6e6e9" stroke-width="1.2"/>
<line x1="209.9" y1="986" x2="210.7" y2="1100.3" stroke="#e6e6e9" stroke-width="1.2"/>
<line x1="215.2" y1="986" x2="214.0" y2="1100.4" stroke="#e6e6e9" stroke-width="1.2"/>
<line x1="219.9" y1="986" x2="221.1" y2="1100.6" stroke="#e6e6e9" stroke-width="1.2"/>
<line x1="224.5" y1="986" x2="223.6" y2="1100.7" stroke="#e6e6e9" stroke-width="1.2"/>
<line x1="229.6" y1="986" x2="230.2" y2="1100.8" stroke="#e6e6e9" stroke-width="1.2"/>
<line x1="235.7" y1="986" x2="234.7" y2="1100.9" stroke="#e6e6e9" stroke-width="1.2"/>
<line x1="239.3" y1="986" x2="238.6" y2="1100.9" stroke="#e6e6e9" stroke-width="1.2"/>
<line x1="244.7" y1="986" x2="244.7" y2="1101.0" stroke="#e6e6e9" stroke-width="1.2"/>
<line x1="249.3" y1="986" x2="248.8" y2="1101.0" stroke="#e6e6e9" stroke-width="1.2"/>
<line x1="254.4" y1="986" x2="255.8" y2="1101.0" stroke="#e6e6e9" stroke-width="1.2"/>
<line x1="260.5" y1="986" x2="259.3" y2="1101.0" stroke="#e6e6e9" stroke-width="1.2"/>
<line x1="265.9" y1="986" x2="264.7" y2="1100.9" stroke="#e6e6e9" stroke-width="1.2"/>
<line x1="269.8" y1="986" x2="271.2" y2="1100.9" stroke="#e6e6e9" stroke-width="1.2"/>
<line x1="275.6" y1="986" x2="276.3" y2="1100.8" stroke="#e6e6e9" stroke-width="1.2"/>
<line x1="279.9" y1="986" x2="279.0" y2="1100.8" stroke="#e6e6e9" stroke-width="1.2"/>
<line x1="285.3" y1="986" x2="284.1" y2="1100.6" stroke="#e6e6e9" stroke-width="1.2"/>
<line x1="289.4" y1="986" x2="289.1" y2="1100.5" stroke="#e6e6e9" stroke-width="1.2"/>
<line x1="294.1" y1="986" x2="293.8" y2="1100.4" stroke="#e6e6e9" stroke-width="1.2"/>
<line x1="300.6" y1="986" x2="301.2" y2="1100.2" stroke="#e6e6e9" stroke-width="1.2"/>
<line x1="305.0" y1="986" x2="305.4" y2="1100.0" stroke="#e6e6e9" stroke-width="1.2"/>
<line x1="309.9" y1="986" x2="308.9" y2="1099.8" stroke="#e6e6e9" stroke-width="1.2"/>
<line x1="315.2" y1="986" x2="314.9" y2="1099.6" stroke="#e6e6e9" stroke-width="1.2"/>
<line x1="320.5" y1="986" x2="321.7" y2="1099.4" stroke="#e6e6e9" stroke-width="1.2"/>
<line x1="324.9" y1="986" x2="325.1" y2="1099.1" stroke="#e6e6e9" stroke-width="1.2"/>
<line x1="330.5" y1="986" x2="330.3" y2="1098.8" stroke="#e6e6e9" stroke-width="1.2"/>
<line x1="334.5" y1="986" x2="335.1" y2="1098.6" stroke="#e6e6e9" stroke-width="1.2"/>
<line x1="340.8" y1="986" x2="341.6" y2="1098.2" stroke="#e6e6e9" stroke-width="1.2"/>
<line x1="345.4" y1="986" x2="346.5" y2="1097.9" stroke="#e6e6e9" stroke-width="1.2"/>
<line x1="350.4" y1="986" x2="350.8" y2="1097.6" stroke="#e6e6e9" stroke-width="1.2"/>
<line x1="354.9" y1="986" x2="354.3" y2="1097.2" stroke="#e6e6e9" stroke-width="1.2"/>
<line x1="360.3" y1="986" x2="359.1" y2="1096.8" stroke="#e6e6e9" stroke-width="1.2"/>
<line x1="364.8" y1="986" x2="365.7" y2="1096.5" stroke="#e6e6e9" stroke-width="1.2"/>
<line x1="370.4" y1="986" x2="370.8" y2="1096.0" stroke="#e6e6e9" stroke-width="1.2"/>
<line x1="374.5" y1="986" x2="374.3" y2="1095.6" stroke="#e6e6e9" stroke-width="1.2"/>
<line x1="379.9" y1="986" x2="380.3" y2="1095.1" stroke="#e6e6e9" stroke-width="1.2"/>
<line x1="384.8" y1="986" x2="385.3" y2="1094.7" stroke="#e6e6e9" stroke-width="1.2"/>
<line x1="390.9" y1="986" x2="389.9" y2="1094.1" stroke="#e6e6e9" stroke-width="1.2"/>
<line x1="395.3" y1="986" x2="396.1" y2="1093.6" stroke="#e6e6e9" stroke-width="1.2"/>
<line x1="399.8" y1="986" x2="399.7" y2="1093.1" stroke="#e6e6e9" stroke-width="1.2"/>
<line x1="405.9" y1="986" x2="404.6" y2="1092.5" stroke="#e6e6e9" stroke-width="1.2"/>
<line x1="410.1" y1="986" x2="409.1" y2="1092.0" stroke="#e6e6e9" stroke-width="1.2"/>
<line x1="415.6" y1="986" x2="416.9" y2="1091.3" stroke="#e6e6e9" stroke-width="1.2"/>
<line x1="420.0" y1="986" x2="418.8" y2="1090.8" stroke="#e6e6e9" stroke-width="1.2"/>
<line x1="425.1" y1="986" x2="425.3" y2="1090.2" stroke="#e6e6e9" stroke-width="1.2"/>
<line x1="430.4" y1="986" x2="430.5" y2="1089.5" stroke="#e6e6e9" stroke-width="1.2"/>
<line x1="435.3" y1="986" x2="436.3" y2="1088.8" stroke="#e6e6e9" stroke-width="1.2"/>
<line x1="440.0" y1="986" x2="439.8" y2="1088.2" stroke="#e6e6e9" stroke-width="1.2"/>
<line x1="445.9" y1="986" x2="445.0" y2="1087.4" stroke="#e6e6e9" stroke-width="1.2"/>
<line x1="450.4" y1="986" x2="450.0" y2="1086.7" stroke="#e6e6e9" stroke-width="1.2"/>
<line x1="455.5" y1="986" x2="454.4" y2="1086.0" stroke="#e6e6e9" stroke-width="1.2"/>
<line x1="461.0" y1="986" x2="460.5" y2="1085.2" stroke="#e6e6e9" stroke-width="1.2"/>
<path d="M58.0,990 L74.0,990 L71.8,1086.4989173111244 Q71.8,1091.4989173111244 66.8,1091.4989173111244 L46.8,1091.4989173111244 Q41.8,1091.4989173111244 41.8,1086.4989173111244 Z" fill="url(#tuft)"/>
<path d="M58.0,990 L41.8,1086.4989173111244" stroke="#d0d0d3" stroke-width="1.4" fill="none"/>
<path d="M74.0,990 L71.8,1086.4989173111244" stroke="#d0d0d3" stroke-width="1.4" fill="none"/>
<line x1="60.7" y1="990" x2="45.0" y2="1089.4989173111244" stroke="#e9e9eb" stroke-width="0.9"/>
<line x1="66.0" y1="990" x2="55.9" y2="1089.4989173111244" stroke="#e9e9eb" stroke-width="0.9"/>
<line x1="71.3" y1="990" x2="66.4" y2="1089.4989173111244" stroke="#e9e9eb" stroke-width="0.9"/>
<path d="M438.0,990 L454.0,990 L470.8,1084.5457941701368 Q470.8,1089.5457941701368 465.8,1089.5457941701368 L445.8,1089.5457941701368 Q440.8,1089.5457941701368 440.8,1084.5457941701368 Z" fill="url(#tuft)"/>
<path d="M438.0,990 L440.8,1084.5457941701368" stroke="#d0d0d3" stroke-width="1.4" fill="none"/>
<path d="M454.0,990 L470.8,1084.5457941701368" stroke="#d0d0d3" stroke-width="1.4" fill="none"/>
<line x1="440.7" y1="990" x2="443.9" y2="1087.5457941701368" stroke="#e9e9eb" stroke-width="0.9"/>
<line x1="446.0" y1="990" x2="455.5" y2="1087.5457941701368" stroke="#e9e9eb" stroke-width="0.9"/>
<line x1="451.3" y1="990" x2="465.5" y2="1087.5457941701368" stroke="#e9e9eb" stroke-width="0.9"/>
<path d="M83.0,990 L105.0,990 L107.2,1090.576490184414 Q107.2,1095.576490184414 102.2,1095.576490184414 L70.2,1095.576490184414 Q65.2,1095.576490184414 65.2,1090.576490184414 Z" fill="url(#tuft)"/>
<path d="M83.0,990 L65.2,1090.576490184414" stroke="#d0d0d3" stroke-width="1.4" fill="none"/>
<path d="M105.0,990 L107.2,1090.576490184414" stroke="#d0d0d3" stroke-width="1.4" fill="none"/>
<line x1="85.2" y1="990" x2="70.2" y2="1093.576490184414" stroke="#e9e9eb" stroke-width="0.9"/>
<line x1="89.6" y1="990" x2="77.2" y2="1093.576490184414" stroke="#e9e9eb" stroke-width="0.9"/>
<line x1="94.0" y1="990" x2="85.3" y2="1093.576490184414" stroke="#e9e9eb" stroke-width="0.9"/>
<line x1="98.4" y1="990" x2="93.5" y2="1093.576490184414" stroke="#e9e9eb" stroke-width="0.9"/>
<line x1="102.8" y1="990" x2="104.0" y2="1093.576490184414" stroke="#e9e9eb" stroke-width="0.9"/>
<path d="M409.0,990 L431.0,990 L449.5,1088.6216537775133 Q449.5,1093.6216537775133 444.5,1093.6216537775133 L412.5,1093.6216537775133 Q407.5,1093.6216537775133 407.5,1088.6216537775133 Z" fill="url(#tuft)"/>
<path d="M409.0,990 L407.5,1088.6216537775133" stroke="#d0d0d3" stroke-width="1.4" fill="none"/>
<path d="M431.0,990 L449.5,1088.6216537775133" stroke="#d0d0d3" stroke-width="1.4" fill="none"/>
<line x1="411.2" y1="990" x2="413.5" y2="1091.6216537775133" stroke="#e9e9eb" stroke-width="0.9"/>
<line x1="415.6" y1="990" x2="420.2" y2="1091.6216537775133" stroke="#e9e9eb" stroke-width="0.9"/>
<line x1="420.0" y1="990" x2="427.4" y2="1091.6216537775133" stroke="#e9e9eb" stroke-width="0.9"/>
<line x1="424.4" y1="990" x2="438.1" y2="1091.6216537775133" stroke="#e9e9eb" stroke-width="0.9"/>
<line x1="428.8" y1="990" x2="444.9" y2="1091.6216537775133" stroke="#e9e9eb" stroke-width="0.9"/>
<path d="M115.0,990 L137.0,990 L140.8,1094.4142058298632 Q140.8,1099.4142058298632 135.8,1099.4142058298632 L103.8,1099.4142058298632 Q98.8,1099.4142058298632 98.8,1094.4142058298632 Z" fill="url(#tuft)"/>
<path d="M115.0,990 L98.8,1094.4142058298632" stroke="#d0d0d3" stroke-width="1.4" fill="none"/>
<path d="M137.0,990 L140.8,1094.4142058298632" stroke="#d0d0d3" stroke-width="1.4" fill="none"/>
<line x1="117.2" y1="990" x2="101.8" y2="1097.4142058298632" stroke="#e9e9eb" stroke-width="0.9"/>
<line x1="121.6" y1="990" x2="109.9" y2="1097.4142058298632" stroke="#e9e9eb" stroke-width="0.9"/>
<line x1="126.0" y1="990" x2="120.9" y2="1097.4142058298632" stroke="#e9e9eb" stroke-width="0.9"/>
<line x1="130.4" y1="990" x2="129.4" y2="1097.4142058298632" stroke="#e9e9eb" stroke-width="0.9"/>
<line x1="134.8" y1="990" x2="137.1" y2="1097.4142058298632" stroke="#e9e9eb" stroke-width="0.9"/>
<path d="M361.0,990 L383.0,990 L399.1,1094.6249375371804 Q399.1,1099.6249375371804 394.1,1099.6249375371804 L362.1,1099.6249375371804 Q357.1,1099.6249375371804 357.1,1094.6249375371804 Z" fill="url(#tuft)"/>
<path d="M361.0,990 L357.1,1094.6249375371804" stroke="#d0d0d3" stroke-width="1.4" fill="none"/>
<path d="M383.0,990 L399.1,1094.6249375371804" stroke="#d0d0d3" stroke-width="1.4" fill="none"/>
<line x1="363.2" y1="990" x2="361.2" y2="1097.6249375371804" stroke="#e9e9eb" stroke-width="0.9"/>
<line x1="367.6" y1="990" x2="369.9" y2="1097.6249375371804" stroke="#e9e9eb" stroke-width="0.9"/>
<line x1="372.0" y1="990" x2="377.0" y2="1097.6249375371804" stroke="#e9e9eb" stroke-width="0.9"/>
<line x1="376.4" y1="990" x2="388.4" y2="1097.6249375371804" stroke="#e9e9eb" stroke-width="0.9"/>
<line x1="380.8" y1="990" x2="394.3" y2="1097.6249375371804" stroke="#e9e9eb" stroke-width="0.9"/>
<path d="M161.0,990 L183.0,990 L189.1,1098.3941225461035 Q189.1,1103.3941225461035 184.1,1103.3941225461035 L152.1,1103.3941225461035 Q147.1,1103.3941225461035 147.1,1098.3941225461035 Z" fill="url(#tuft)"/>
<path d="M161.0,990 L147.1,1098.3941225461035" stroke="#d0d0d3" stroke-width="1.4" fill="none"/>
<path d="M183.0,990 L189.1,1098.3941225461035" stroke="#d0d0d3" stroke-width="1.4" fill="none"/>
<line x1="163.2" y1="990" x2="151.9" y2="1101.3941225461035" stroke="#e9e9eb" stroke-width="0.9"/>
<line x1="167.6" y1="990" x2="161.0" y2="1101.3941225461035" stroke="#e9e9eb" stroke-width="0.9"/>
<line x1="172.0" y1="990" x2="169.4" y2="1101.3941225461035" stroke="#e9e9eb" stroke-width="0.9"/>
<line x1="176.4" y1="990" x2="176.4" y2="1101.3941225461035" stroke="#e9e9eb" stroke-width="0.9"/>
<line x1="180.8" y1="990" x2="184.1" y2="1101.3941225461035" stroke="#e9e9eb" stroke-width="0.9"/>
<path d="M313.0,990 L335.0,990 L348.7,1098.6545389649018 Q348.7,1103.6545389649018 343.7,1103.6545389649018 L311.7,1103.6545389649018 Q306.7,1103.6545389649018 306.7,1098.6545389649018 Z" fill="url(#tuft)"/>
<path d="M313.0,990 L306.7,1098.6545389649018" stroke="#d0d0d3" stroke-width="1.4" fill="none"/>
<path d="M335.0,990 L348.7,1098.6545389649018" stroke="#d0d0d3" stroke-width="1.4" fill="none"/>
<line x1="315.2" y1="990" x2="311.1" y2="1101.6545389649018" stroke="#e9e9eb" stroke-width="0.9"/>
<line x1="319.6" y1="990" x2="317.8" y2="1101.6545389649018" stroke="#e9e9eb" stroke-width="0.9"/>
<line x1="324.0" y1="990" x2="329.0" y2="1101.6545389649018" stroke="#e9e9eb" stroke-width="0.9"/>
<line x1="328.4" y1="990" x2="335.5" y2="1101.6545389649018" stroke="#e9e9eb" stroke-width="0.9"/>
<line x1="332.8" y1="990" x2="345.9" y2="1101.6545389649018" stroke="#e9e9eb" stroke-width="0.9"/>
<path d="M211.0,990 L233.0,990 L241.6,1100.6641998810233 Q241.6,1105.6641998810233 236.6,1105.6641998810233 L204.6,1105.6641998810233 Q199.6,1105.6641998810233 199.6,1100.6641998810233 Z" fill="url(#tuft)"/>
<path d="M211.0,990 L199.6,1100.6641998810233" stroke="#d0d0d3" stroke-width="1.4" fill="none"/>
<path d="M233.0,990 L241.6,1100.6641998810233" stroke="#d0d0d3" stroke-width="1.4" fill="none"/>
<line x1="213.2" y1="990" x2="202.9" y2="1103.6641998810233" stroke="#e9e9eb" stroke-width="0.9"/>
<line x1="217.6" y1="990" x2="211.7" y2="1103.6641998810233" stroke="#e9e9eb" stroke-width="0.9"/>
<line x1="222.0" y1="990" x2="219.6" y2="1103.6641998810233" stroke="#e9e9eb" stroke-width="0.9"/>
<line x1="226.4" y1="990" x2="228.7" y2="1103.6641998810233" stroke="#e9e9eb" stroke-width="0.9"/>
<line x1="230.8" y1="990" x2="236.1" y2="1103.6641998810233" stroke="#e9e9eb" stroke-width="0.9"/>
<path d="M263.0,990 L285.0,990 L296.2,1100.7532897085068 Q296.2,1105.7532897085068 291.2,1105.7532897085068 L259.2,1105.7532897085068 Q254.2,1105.7532897085068 254.2,1100.7532897085068 Z" fill="url(#tuft)"/>
<path d="M263.0,990 L254.2,1100.7532897085068" stroke="#d0d0d3" stroke-width="1.4" fill="none"/>
<path d="M285.0,990 L296.2,1100.7532897085068" stroke="#d0d0d3" stroke-width="1.4" fill="none"/>
<line x1="265.2" y1="990" x2="256.4" y2="1103.7532897085068" stroke="#e9e9eb" stroke-width="0.9"/>
<line x1="269.6" y1="990" x2="267.7" y2="1103.7532897085068" stroke="#e9e9eb" stroke-width="0.9"/>
<line x1="274.0" y1="990" x2="274.3" y2="1103.7532897085068" stroke="#e9e9eb" stroke-width="0.9"/>
<line x1="278.4" y1="990" x2="282.6" y2="1103.7532897085068" stroke="#e9e9eb" stroke-width="0.9"/>
<line x1="282.8" y1="990" x2="291.2" y2="1103.7532897085068" stroke="#e9e9eb" stroke-width="0.9"/>
<path d="M49,972 L73,972 L73,983 Q73,987 68,987 L54,987 Q49,987 49,983 Z" fill="#262321"/>
<path d="M51,979 L71,979" stroke="#3a3634" stroke-width="1" fill="none"/>
<path d="M75,972 L107,972 L107,988 Q107,992 102,992 L80,992 Q75,992 75,988 Z" fill="#262321"/>
<path d="M77,984 L105,984" stroke="#3a3634" stroke-width="1" fill="none"/>
<path d="M108,972 L152,972 L152,991 Q152,995 147,995 L113,995 Q108,995 108,991 Z" fill="#262321"/>
<path d="M110,987 L150,987" stroke="#3a3634" stroke-width="1" fill="none"/>
<path d="M153,972 L204,972 L204,993 Q204,997 199,997 L158,997 Q153,997 153,993 Z" fill="#262321"/>
<path d="M155,989 L202,989" stroke="#3a3634" stroke-width="1" fill="none"/>
<path d="M205,972 L239,972 L239,994 Q239,998 234,998 L210,998 Q205,998 205,994 Z" fill="#262321"/>
<path d="M207,990 L237,990" stroke="#3a3634" stroke-width="1" fill="none"/>
<path d="M240,972 L282,972 L282,994 Q282,998 277,998 L245,998 Q240,998 240,994 Z" fill="#262321"/>
<path d="M242,990 L280,990" stroke="#3a3634" stroke-width="1" fill="none"/>
<path d="M283,972 L318,972 L318,994 Q318,998 313,998 L288,998 Q283,998 283,994 Z" fill="#262321"/>
<path d="M285,990 L316,990" stroke="#3a3634" stroke-width="1" fill="none"/>
<path d="M319,972 L362,972 L362,993 Q362,997 357,997 L324,997 Q319,997 319,993 Z" fill="#262321"/>
<path d="M321,989 L360,989" stroke="#3a3634" stroke-width="1" fill="none"/>
<path d="M363,972 L400,972 L400,991 Q400,995 395,995 L368,995 Q363,995 363,991 Z" fill="#262321"/>
<path d="M365,987 L398,987" stroke="#3a3634" stroke-width="1" fill="none"/>
<path d="M401,972 L430,972 L430,988 Q430,992 425,992 L406,992 Q401,992 401,988 Z" fill="#262321"/>
<path d="M403,984 L428,984" stroke="#3a3634" stroke-width="1" fill="none"/>
<path d="M431,972 L452,972 L452,984 Q452,988 447,988 L436,988 Q431,988 431,984 Z" fill="#262321"/>
<path d="M433,980 L450,980" stroke="#3a3634" stroke-width="1" fill="none"/>
<path d="M40,943 A209.5,12 0 0 1 459,943 L459,972 Q459,977 452,978 A209.5,11 0 0 1 47,978 Q40,977 40,972 Z" fill="#3a3634"/>
<ellipse cx="249.5" cy="942" rx="208" ry="11" fill="#34302e"/>
<path d="M99.5,937 A150,8 0 0 1 399.5,937" stroke="#45413f" stroke-width="1.1" fill="none"/>
<path d="M74.5,941 A175,8 0 0 1 424.5,941" stroke="#45413f" stroke-width="1.1" fill="none"/>
<path d="M54.5,945 A195,8 0 0 1 444.5,945" stroke="#45413f" stroke-width="1.1" fill="none"/>
<path d="M41,944 A208.5,11 0 0 0 458,944" stroke="#4d4947" stroke-width="1.6" fill="none"/>
<path d="M41,947 A208.5,11 0 0 0 458,947" stroke="#2c2826" stroke-width="1.4" fill="none"/>
<path d="M174,905 A76,7 0 0 1 326,905 L326,934 Q326,938 320,938.5 A76,7 0 0 1 180,938.5 Q174,938 174,934 Z" fill="#2e2a28"/>
<ellipse cx="250" cy="904.5" rx="75" ry="7" fill="#383432"/>
<path d="M175,906 A75,7 0 0 0 325,906" stroke="#4a4644" stroke-width="1.2" fill="none"/>
<path d="M173,937 A77,8 0 0 0 327,937" stroke="#4e4a47" stroke-width="1.8" fill="none"/>
<line x1="116.0" y1="856.0" x2="231.0" y2="805.0" stroke="#0e0e0e" stroke-width="5" stroke-linecap="butt"/>
<line x1="415.0" y1="822.0" x2="321.0" y2="907.0" stroke="#0e0e0e" stroke-width="5" stroke-linecap="butt"/>
<path d="M229,745 L229,784 M269,745 L269,784 M229,753 L269,753" stroke="#0e0e0e" stroke-width="4.6" fill="none"/>
<line x1="477.0" y1="992.0" x2="477.0" y2="1103.5" stroke="#0e0e0e" stroke-width="4.6" stroke-linecap="butt"/>
<line x1="448.0" y1="992.0" x2="487.0" y2="992.0" stroke="#0e0e0e" stroke-width="4.6" stroke-linecap="butt"/>
<line x1="448.0" y1="1103.5" x2="487.0" y2="1103.5" stroke="#0e0e0e" stroke-width="4.6" stroke-linecap="butt"/>
<line x1="42.0" y1="1153.3" x2="442.0" y2="1153.3" stroke="#0e0e0e" stroke-width="4.6" stroke-linecap="butt"/>
<line x1="42.0" y1="1124.4" x2="42.0" y2="1160.5" stroke="#0e0e0e" stroke-width="4.6" stroke-linecap="butt"/>
<line x1="442.0" y1="1124.4" x2="442.0" y2="1160.5" stroke="#0e0e0e" stroke-width="4.6" stroke-linecap="butt"/>
<path d="M786,808 L961,808 L961,1118 Q956,1134 936,1134 L786,1134 Z" fill="#f0f0f1"/>
<path d="M787,812 Q808.5,806 830,812 L826,905 L800,905 Z" fill="#f9f9f9" stroke="#dedee0" stroke-width="1.1"/>
<line x1="793.7" y1="812.0" x2="804.1" y2="903.0" stroke="#e2e2e4" stroke-width="0.8" stroke-linecap="butt"/>
<line x1="801.1" y1="812.0" x2="808.4" y2="903.0" stroke="#e2e2e4" stroke-width="0.8" stroke-linecap="butt"/>
<line x1="808.5" y1="812.0" x2="813.4" y2="903.0" stroke="#e2e2e4" stroke-width="0.8" stroke-linecap="butt"/>
<line x1="815.9" y1="812.0" x2="817.9" y2="903.0" stroke="#e2e2e4" stroke-width="0.8" stroke-linecap="butt"/>
<line x1="823.3" y1="812.0" x2="821.4" y2="903.0" stroke="#e2e2e4" stroke-width="0.8" stroke-linecap="butt"/>
<path d="M830,812 Q854.0,806 878,812 L872,905 L838,905 Z" fill="#f9f9f9" stroke="#dedee0" stroke-width="1.1"/>
<line x1="837.2" y1="812.0" x2="844.3" y2="903.0" stroke="#e2e2e4" stroke-width="0.8" stroke-linecap="butt"/>
<line x1="845.6" y1="812.0" x2="850.1" y2="903.0" stroke="#e2e2e4" stroke-width="0.8" stroke-linecap="butt"/>
<line x1="854.0" y1="812.0" x2="853.7" y2="903.0" stroke="#e2e2e4" stroke-width="0.8" stroke-linecap="butt"/>
<line x1="862.4" y1="812.0" x2="862.0" y2="903.0" stroke="#e2e2e4" stroke-width="0.8" stroke-linecap="butt"/>
<line x1="870.8" y1="812.0" x2="868.2" y2="903.0" stroke="#e2e2e4" stroke-width="0.8" stroke-linecap="butt"/>
<path d="M878,812 Q901.0,806 924,812 L920,905 L884,905 Z" fill="#f9f9f9" stroke="#dedee0" stroke-width="1.1"/>
<line x1="885.0" y1="812.0" x2="890.1" y2="903.0" stroke="#e2e2e4" stroke-width="0.8" stroke-linecap="butt"/>
<line x1="893.0" y1="812.0" x2="894.5" y2="903.0" stroke="#e2e2e4" stroke-width="0.8" stroke-linecap="butt"/>
<line x1="901.0" y1="812.0" x2="903.0" y2="903.0" stroke="#e2e2e4" stroke-width="0.8" stroke-linecap="butt"/>
<line x1="909.0" y1="812.0" x2="908.8" y2="903.0" stroke="#e2e2e4" stroke-width="0.8" stroke-linecap="butt"/>
<line x1="917.0" y1="812.0" x2="913.3" y2="903.0" stroke="#e2e2e4" stroke-width="0.8" stroke-linecap="butt"/>
<path d="M924,812 Q942.5,806 961,812 L958,905 L928,905 Z" fill="#f9f9f9" stroke="#dedee0" stroke-width="1.1"/>
<line x1="930.1" y1="812.0" x2="931.1" y2="903.0" stroke="#e2e2e4" stroke-width="0.8" stroke-linecap="butt"/>
<line x1="936.3" y1="812.0" x2="939.2" y2="903.0" stroke="#e2e2e4" stroke-width="0.8" stroke-linecap="butt"/>
<line x1="942.5" y1="812.0" x2="943.5" y2="903.0" stroke="#e2e2e4" stroke-width="0.8" stroke-linecap="butt"/>
<line x1="948.7" y1="812.0" x2="947.5" y2="903.0" stroke="#e2e2e4" stroke-width="0.8" stroke-linecap="butt"/>
<line x1="954.9" y1="812.0" x2="952.2" y2="903.0" stroke="#e2e2e4" stroke-width="0.8" stroke-linecap="butt"/>
<path d="M800,1030 L834,1030 L830,1105 Q809.0,1113 788,1105 Z" fill="#f4f4f5" stroke="#d8d8da" stroke-width="1.1"/>
<line x1="805.8" y1="1030.0" x2="792.7" y2="1106.0" stroke="#e2e2e4" stroke-width="0.8" stroke-linecap="butt"/>
<line x1="811.4" y1="1030.0" x2="800.6" y2="1106.0" stroke="#e2e2e4" stroke-width="0.8" stroke-linecap="butt"/>
<line x1="817.0" y1="1030.0" x2="809.8" y2="1106.0" stroke="#e2e2e4" stroke-width="0.8" stroke-linecap="butt"/>
<line x1="822.6" y1="1030.0" x2="816.1" y2="1106.0" stroke="#e2e2e4" stroke-width="0.8" stroke-linecap="butt"/>
<line x1="828.2" y1="1030.0" x2="823.2" y2="1106.0" stroke="#e2e2e4" stroke-width="0.8" stroke-linecap="butt"/>
<path d="M834,1030 L872,1030 L872,1123 Q851.0,1131 830,1123 Z" fill="#f4f4f5" stroke="#d8d8da" stroke-width="1.1"/>
<line x1="840.2" y1="1030.0" x2="837.0" y2="1124.0" stroke="#e2e2e4" stroke-width="0.8" stroke-linecap="butt"/>
<line x1="846.6" y1="1030.0" x2="844.3" y2="1124.0" stroke="#e2e2e4" stroke-width="0.8" stroke-linecap="butt"/>
<line x1="853.0" y1="1030.0" x2="850.0" y2="1124.0" stroke="#e2e2e4" stroke-width="0.8" stroke-linecap="butt"/>
<line x1="859.4" y1="1030.0" x2="859.8" y2="1124.0" stroke="#e2e2e4" stroke-width="0.8" stroke-linecap="butt"/>
<line x1="865.8" y1="1030.0" x2="866.5" y2="1124.0" stroke="#e2e2e4" stroke-width="0.8" stroke-linecap="butt"/>
<path d="M872,1030 L916,1030 L916,1129 Q893.0,1137 870,1129 Z" fill="#f4f4f5" stroke="#d8d8da" stroke-width="1.1"/>
<line x1="878.8" y1="1030.0" x2="877.0" y2="1130.0" stroke="#e2e2e4" stroke-width="0.8" stroke-linecap="butt"/>
<line x1="886.4" y1="1030.0" x2="885.1" y2="1130.0" stroke="#e2e2e4" stroke-width="0.8" stroke-linecap="butt"/>
<line x1="894.0" y1="1030.0" x2="894.2" y2="1130.0" stroke="#e2e2e4" stroke-width="0.8" stroke-linecap="butt"/>
<line x1="901.6" y1="1030.0" x2="902.3" y2="1130.0" stroke="#e2e2e4" stroke-width="0.8" stroke-linecap="butt"/>
<line x1="909.2" y1="1030.0" x2="910.8" y2="1130.0" stroke="#e2e2e4" stroke-width="0.8" stroke-linecap="butt"/>
<path d="M916,1030 L956,1030 L956,1117 Q935.0,1125 914,1117 Z" fill="#f4f4f5" stroke="#d8d8da" stroke-width="1.1"/>
<line x1="922.4" y1="1030.0" x2="918.9" y2="1118.0" stroke="#e2e2e4" stroke-width="0.8" stroke-linecap="butt"/>
<line x1="929.2" y1="1030.0" x2="928.0" y2="1118.0" stroke="#e2e2e4" stroke-width="0.8" stroke-linecap="butt"/>
<line x1="936.0" y1="1030.0" x2="935.1" y2="1118.0" stroke="#e2e2e4" stroke-width="0.8" stroke-linecap="butt"/>
<line x1="942.8" y1="1030.0" x2="943.3" y2="1118.0" stroke="#e2e2e4" stroke-width="0.8" stroke-linecap="butt"/>
<line x1="949.6" y1="1030.0" x2="950.0" y2="1118.0" stroke="#e2e2e4" stroke-width="0.8" stroke-linecap="butt"/>
<path d="M799.0,810.0 L770.0,811.0 L740.0,812.0 L705.0,815.0 L690.0,828.0 L680.0,838.0 L660.0,845.0 L648.0,853.0 L635.0,866.0 L627.0,878.0 L618.0,895.0 L611.0,914.0 L607.0,929.0 L698.0,957.0 L604.0,962.0 L606.0,990.0 L612.0,1020.0 L622.0,1055.0 L640.0,1078.0 L657.0,1103.0 L688.0,1118.0 L715.0,1126.0 L754.0,1132.0 L799.0,1135.0 L799.0,1040.0 L834.0,1023.0 L834.0,919.0 L799.0,900.0 Z" fill="#0b0b0b" />
<line x1="796.0" y1="1054.3" x2="764.2" y2="1130.4" stroke="#0b0b0b" stroke-width="0.8107581730510927" stroke-linecap="butt"/>
<line x1="710.4" y1="965.4" x2="616.6" y2="963.4" stroke="#0b0b0b" stroke-width="0.7299787538526912" stroke-linecap="butt"/>
<line x1="665.2" y1="967.1" x2="606.6" y2="966.7" stroke="#0b0b0b" stroke-width="0.6059461030686025" stroke-linecap="butt"/>
<line x1="689.2" y1="953.9" x2="608.3" y2="945.9" stroke="#0b0b0b" stroke-width="1.3565092974840525" stroke-linecap="butt"/>
<line x1="759.6" y1="949.6" x2="612.0" y2="912.0" stroke="#0b0b0b" stroke-width="1.173336824211014" stroke-linecap="butt"/>
<line x1="796.0" y1="1111.8" x2="791.0" y2="1131.9" stroke="#0b0b0b" stroke-width="1.059563023863392" stroke-linecap="butt"/>
<line x1="792.2" y1="1077.3" x2="775.0" y2="1124.4" stroke="#0b0b0b" stroke-width="1.1627500699029225" stroke-linecap="butt"/>
<line x1="789.1" y1="1054.6" x2="754.4" y2="1124.8" stroke="#0b0b0b" stroke-width="1.0729838527643158" stroke-linecap="butt"/>
<line x1="774.3" y1="896.9" x2="721.4" y2="831.9" stroke="#0b0b0b" stroke-width="1.098624848927917" stroke-linecap="butt"/>
<line x1="753.2" y1="909.8" x2="672.7" y2="850.3" stroke="#0b0b0b" stroke-width="1.0533742590685047" stroke-linecap="butt"/>
<line x1="689.0" y1="970.8" x2="604.0" y2="972.5" stroke="#0b0b0b" stroke-width="1.3127560221115901" stroke-linecap="butt"/>
<line x1="731.3" y1="904.6" x2="667.9" y2="864.7" stroke="#0b0b0b" stroke-width="1.1713387979479029" stroke-linecap="butt"/>
<line x1="731.1" y1="982.2" x2="620.3" y2="997.7" stroke="#0b0b0b" stroke-width="0.6055896099042669" stroke-linecap="butt"/>
<line x1="796.0" y1="1095.0" x2="784.6" y2="1135.3" stroke="#0b0b0b" stroke-width="1.3101242881324775" stroke-linecap="butt"/>
<line x1="705.6" y1="1013.2" x2="626.9" y2="1041.3" stroke="#0b0b0b" stroke-width="1.226763157697114" stroke-linecap="butt"/>
<line x1="720.5" y1="1037.3" x2="663.2" y2="1072.9" stroke="#0b0b0b" stroke-width="1.0120913987066589" stroke-linecap="butt"/>
<line x1="796.0" y1="868.2" x2="778.5" y2="819.7" stroke="#0b0b0b" stroke-width="1.2970814339112129" stroke-linecap="butt"/>
<line x1="698.3" y1="1037.3" x2="649.1" y2="1062.8" stroke="#0b0b0b" stroke-width="1.307886043775166" stroke-linecap="butt"/>
<line x1="761.3" y1="903.0" x2="698.2" y2="845.0" stroke="#0b0b0b" stroke-width="0.886629378187305" stroke-linecap="butt"/>
<line x1="672.7" y1="1042.1" x2="633.3" y2="1060.5" stroke="#ffffff" stroke-width="0.7526428844421564" stroke-linecap="butt"/>
<line x1="775.7" y1="1006.6" x2="667.3" y2="1081.0" stroke="#0b0b0b" stroke-width="1.2119664881261332" stroke-linecap="butt"/>
<line x1="787.7" y1="1016.3" x2="703.7" y2="1108.0" stroke="#0b0b0b" stroke-width="1.0249732679951877" stroke-linecap="butt"/>
<line x1="771.0" y1="993.1" x2="636.1" y2="1048.5" stroke="#0b0b0b" stroke-width="1.2024296105616075" stroke-linecap="butt"/>
<line x1="796.0" y1="1038.9" x2="753.8" y2="1122.1" stroke="#0b0b0b" stroke-width="1.0250985929071856" stroke-linecap="butt"/>
<line x1="684.6" y1="999.7" x2="617.0" y2="1014.3" stroke="#0b0b0b" stroke-width="1.4305228475118041" stroke-linecap="butt"/>
<line x1="779.2" y1="1018.1" x2="689.8" y2="1103.0" stroke="#0b0b0b" stroke-width="1.283413741557752" stroke-linecap="butt"/>
<line x1="691.2" y1="993.1" x2="613.5" y2="1007.0" stroke="#0b0b0b" stroke-width="1.4010062651980333" stroke-linecap="butt"/>
<line x1="790.5" y1="1068.0" x2="763.8" y2="1132.4" stroke="#0b0b0b" stroke-width="0.950053819864663" stroke-linecap="butt"/>
<line x1="681.2" y1="1015.9" x2="616.4" y2="1036.5" stroke="#0b0b0b" stroke-width="1.1480533812478266" stroke-linecap="butt"/>
<line x1="796.0" y1="908.8" x2="740.1" y2="816.9" stroke="#0b0b0b" stroke-width="1.4585033072561013" stroke-linecap="butt"/>
<line x1="754.6" y1="1071.1" x2="721.6" y2="1115.1" stroke="#0b0b0b" stroke-width="1.007479979473574" stroke-linecap="butt"/>
<line x1="771.4" y1="1028.3" x2="698.3" y2="1100.9" stroke="#0b0b0b" stroke-width="1.1596626049023575" stroke-linecap="butt"/>
<line x1="746.7" y1="1081.8" x2="720.4" y2="1116.8" stroke="#ffffff" stroke-width="0.6851586442500424" stroke-linecap="butt"/>
<line x1="725.9" y1="944.3" x2="610.4" y2="918.6" stroke="#0b0b0b" stroke-width="1.216339762796312" stroke-linecap="butt"/>
<line x1="796.0" y1="1065.4" x2="770.0" y2="1135.8" stroke="#0b0b0b" stroke-width="0.6015165030164517" stroke-linecap="butt"/>
<line x1="652.3" y1="924.4" x2="618.1" y2="916.1" stroke="#ffffff" stroke-width="1.020323094693582" stroke-linecap="butt"/>
<line x1="673.4" y1="1003.6" x2="621.2" y2="1015.3" stroke="#0b0b0b" stroke-width="1.3263296052296702" stroke-linecap="butt"/>
<line x1="796.0" y1="1084.4" x2="781.7" y2="1130.7" stroke="#0b0b0b" stroke-width="1.0983069228849278" stroke-linecap="butt"/>
<line x1="749.7" y1="859.9" x2="723.8" y2="825.8" stroke="#0b0b0b" stroke-width="0.8106290010997902" stroke-linecap="butt"/>
<line x1="760.4" y1="1011.5" x2="657.6" y2="1073.9" stroke="#0b0b0b" stroke-width="0.8292611556332521" stroke-linecap="butt"/>
<line x1="791.5" y1="1018.6" x2="716.4" y2="1112.5" stroke="#0b0b0b" stroke-width="1.3259174556999995" stroke-linecap="butt"/>
<line x1="738.6" y1="867.8" x2="708.2" y2="835.1" stroke="#0b0b0b" stroke-width="1.3965845938771606" stroke-linecap="butt"/>
<line x1="742.5" y1="961.6" x2="606.8" y2="951.8" stroke="#0b0b0b" stroke-width="0.7730826331896298" stroke-linecap="butt"/>
<line x1="735.4" y1="1036.6" x2="670.5" y2="1082.7" stroke="#0b0b0b" stroke-width="0.9622421629851661" stroke-linecap="butt"/>
<line x1="774.8" y1="861.4" x2="756.1" y2="826.7" stroke="#9a9a9a" stroke-width="0.5490436650342715" stroke-linecap="butt"/>
<line x1="680.4" y1="871.7" x2="672.6" y2="866.8" stroke="#ffffff" stroke-width="1.019649496222173" stroke-linecap="butt"/>
<line x1="734.0" y1="963.9" x2="606.4" y2="958.5" stroke="#0b0b0b" stroke-width="1.3012717094409618" stroke-linecap="butt"/>
<line x1="795.2" y1="919.8" x2="729.0" y2="833.1" stroke="#0b0b0b" stroke-width="0.6458977530250628" stroke-linecap="butt"/>
<line x1="774.0" y1="1093.7" x2="758.5" y2="1127.4" stroke="#9a9a9a" stroke-width="1.0532928174134315" stroke-linecap="butt"/>
<line x1="713.2" y1="1055.3" x2="677.2" y2="1081.8" stroke="#9a9a9a" stroke-width="0.6096021702066515" stroke-linecap="butt"/>
<line x1="796.0" y1="1034.5" x2="748.0" y2="1123.0" stroke="#0b0b0b" stroke-width="1.2486403509940929" stroke-linecap="butt"/>
<line x1="808.4" y1="1076.7" x2="794.2" y2="1141.9" stroke="#ffffff" stroke-width="0.8080005677473915" stroke-linecap="butt"/>
<line x1="752.9" y1="1039.6" x2="684.8" y2="1101.3" stroke="#0b0b0b" stroke-width="0.6909510935121611" stroke-linecap="butt"/>
<line x1="698.3" y1="1005.8" x2="622.9" y2="1027.2" stroke="#0b0b0b" stroke-width="1.0236528373623384" stroke-linecap="butt"/>
<line x1="732.1" y1="932.9" x2="633.5" y2="898.3" stroke="#0b0b0b" stroke-width="0.9972463482216873" stroke-linecap="butt"/>
<line x1="796.0" y1="1085.1" x2="779.5" y2="1139.0" stroke="#0b0b0b" stroke-width="1.4213281555145485" stroke-linecap="butt"/>
<line x1="796.0" y1="904.7" x2="746.2" y2="817.2" stroke="#0b0b0b" stroke-width="1.1567882350092886" stroke-linecap="butt"/>
<line x1="722.3" y1="1073.4" x2="689.7" y2="1104.6" stroke="#0b0b0b" stroke-width="1.433345898508286" stroke-linecap="butt"/>
<line x1="770.3" y1="930.6" x2="666.2" y2="867.5" stroke="#0b0b0b" stroke-width="0.9294288719333044" stroke-linecap="butt"/>
<line x1="754.3" y1="1036.9" x2="690.7" y2="1093.2" stroke="#0b0b0b" stroke-width="1.4003852794337261" stroke-linecap="butt"/>
<line x1="796.0" y1="901.1" x2="753.2" y2="821.7" stroke="#0b0b0b" stroke-width="0.6228780444264144" stroke-linecap="butt"/>
<line x1="763.6" y1="918.6" x2="671.1" y2="851.9" stroke="#0b0b0b" stroke-width="0.698314053462894" stroke-linecap="butt"/>
<line x1="705.4" y1="961.2" x2="615.2" y2="956.3" stroke="#0b0b0b" stroke-width="1.1679006807918388" stroke-linecap="butt"/>
<line x1="796.0" y1="1100.9" x2="786.8" y2="1134.9" stroke="#0b0b0b" stroke-width="0.7072701970637874" stroke-linecap="butt"/>
<line x1="768.7" y1="902.4" x2="709.0" y2="840.7" stroke="#0b0b0b" stroke-width="0.9740723953141236" stroke-linecap="butt"/>
<line x1="796.0" y1="1026.7" x2="733.6" y2="1128.5" stroke="#0b0b0b" stroke-width="1.1758285069050318" stroke-linecap="butt"/>
<line x1="713.2" y1="970.8" x2="607.3" y2="973.4" stroke="#0b0b0b" stroke-width="1.3106084491984564" stroke-linecap="butt"/>
<line x1="782.8" y1="930.1" x2="682.7" y2="853.0" stroke="#0b0b0b" stroke-width="0.9680464930567028" stroke-linecap="butt"/>
<line x1="777.6" y1="886.8" x2="733.5" y2="820.9" stroke="#0b0b0b" stroke-width="0.8073782469366226" stroke-linecap="butt"/>
<line x1="675.7" y1="1017.9" x2="619.0" y2="1036.0" stroke="#0b0b0b" stroke-width="1.2577644299412691" stroke-linecap="butt"/>
<line x1="772.2" y1="875.5" x2="742.4" y2="829.2" stroke="#0b0b0b" stroke-width="1.1656001897932988" stroke-linecap="butt"/>
<line x1="725.4" y1="896.7" x2="676.7" y2="864.1" stroke="#0b0b0b" stroke-width="1.067605788017144" stroke-linecap="butt"/>
<line x1="796.0" y1="1087.7" x2="782.2" y2="1133.5" stroke="#0b0b0b" stroke-width="0.8535819870063446" stroke-linecap="butt"/>
<line x1="747.6" y1="1056.3" x2="705.0" y2="1100.8" stroke="#0b0b0b" stroke-width="0.8235059840041916" stroke-linecap="butt"/>
<line x1="727.9" y1="992.4" x2="610.5" y2="1019.9" stroke="#0b0b0b" stroke-width="1.4389070198028582" stroke-linecap="butt"/>
<line x1="796.0" y1="829.4" x2="792.3" y2="815.0" stroke="#0b0b0b" stroke-width="1.3470406933048718" stroke-linecap="butt"/>
<line x1="758.7" y1="1052.7" x2="705.1" y2="1114.6" stroke="#0b0b0b" stroke-width="1.4082382370165525" stroke-linecap="butt"/>
<line x1="796.0" y1="874.0" x2="772.5" y2="812.6" stroke="#0b0b0b" stroke-width="0.623077656160738" stroke-linecap="butt"/>
<line x1="796.0" y1="893.0" x2="762.0" y2="822.2" stroke="#0b0b0b" stroke-width="1.1571711761068884" stroke-linecap="butt"/>
<line x1="702.1" y1="883.3" x2="666.6" y2="860.2" stroke="#0b0b0b" stroke-width="0.6175060479851383" stroke-linecap="butt"/>
<line x1="726.8" y1="1062.8" x2="691.0" y2="1095.1" stroke="#0b0b0b" stroke-width="1.1731534698518682" stroke-linecap="butt"/>
<line x1="771.3" y1="905.0" x2="706.8" y2="838.1" stroke="#0b0b0b" stroke-width="0.6845156531437361" stroke-linecap="butt"/>
<line x1="730.7" y1="883.1" x2="688.2" y2="847.6" stroke="#ffffff" stroke-width="0.5821727791798011" stroke-linecap="butt"/>
<line x1="752.5" y1="991.0" x2="615.4" y2="1030.7" stroke="#0b0b0b" stroke-width="1.1155572817910406" stroke-linecap="butt"/>
<line x1="764.1" y1="854.6" x2="742.4" y2="818.4" stroke="#0b0b0b" stroke-width="0.9498702721631699" stroke-linecap="butt"/>
<line x1="786.4" y1="1046.4" x2="741.5" y2="1123.5" stroke="#0b0b0b" stroke-width="1.4471627425161686" stroke-linecap="butt"/>
<line x1="747.6" y1="922.3" x2="658.4" y2="874.1" stroke="#0b0b0b" stroke-width="0.9920236956978112" stroke-linecap="butt"/>
<line x1="765.3" y1="1058.4" x2="718.6" y2="1121.6" stroke="#9a9a9a" stroke-width="0.9080983829542981" stroke-linecap="butt"/>
<line x1="724.2" y1="915.9" x2="640.8" y2="875.6" stroke="#ffffff" stroke-width="0.7598243185912886" stroke-linecap="butt"/>
<line x1="747.7" y1="969.2" x2="617.3" y2="971.1" stroke="#0b0b0b" stroke-width="1.4727265570860093" stroke-linecap="butt"/>
<line x1="796.0" y1="1122.7" x2="792.7" y2="1136.9" stroke="#0b0b0b" stroke-width="1.3959356678721595" stroke-linecap="butt"/>
<line x1="730.8" y1="1029.8" x2="661.0" y2="1072.4" stroke="#0b0b0b" stroke-width="1.4319453234389483" stroke-linecap="butt"/>
<line x1="762.6" y1="901.2" x2="699.4" y2="840.4" stroke="#0b0b0b" stroke-width="1.4557792785426749" stroke-linecap="butt"/>
<line x1="773.1" y1="927.9" x2="668.6" y2="856.8" stroke="#0b0b0b" stroke-width="1.1348602448640295" stroke-linecap="butt"/>
<line x1="710.6" y1="973.1" x2="612.5" y2="977.3" stroke="#0b0b0b" stroke-width="1.0804483424032734" stroke-linecap="butt"/>
<line x1="796.0" y1="886.4" x2="767.8" y2="822.5" stroke="#0b0b0b" stroke-width="0.9658896306128089" stroke-linecap="butt"/>
<line x1="757.2" y1="892.8" x2="708.3" y2="843.6" stroke="#0b0b0b" stroke-width="1.3557725012952626" stroke-linecap="butt"/>
<line x1="744.3" y1="987.2" x2="613.4" y2="1015.9" stroke="#0b0b0b" stroke-width="1.2393238531807986" stroke-linecap="butt"/>
<line x1="712.4" y1="985.8" x2="609.4" y2="1001.1" stroke="#0b0b0b" stroke-width="0.8794540869285621" stroke-linecap="butt"/>
<line x1="760.0" y1="885.1" x2="714.9" y2="833.3" stroke="#d0d0d0" stroke-width="1.071246943944133" stroke-linecap="butt"/>
<line x1="756.6" y1="922.8" x2="664.1" y2="867.2" stroke="#0b0b0b" stroke-width="1.3905353485700447" stroke-linecap="butt"/>
<line x1="701.1" y1="1012.2" x2="629.8" y2="1036.2" stroke="#0b0b0b" stroke-width="1.0652960438214127" stroke-linecap="butt"/>
<line x1="726.6" y1="917.3" x2="642.3" y2="876.8" stroke="#0b0b0b" stroke-width="1.490376039321529" stroke-linecap="butt"/>
<line x1="796.0" y1="1116.5" x2="791.9" y2="1133.4" stroke="#0b0b0b" stroke-width="0.726294498203766" stroke-linecap="butt"/>
<line x1="683.5" y1="1020.6" x2="632.8" y2="1038.5" stroke="#0b0b0b" stroke-width="0.6855465670294311" stroke-linecap="butt"/>
<line x1="796.0" y1="1095.9" x2="783.2" y2="1141.2" stroke="#0b0b0b" stroke-width="1.1676009695060314" stroke-linecap="butt"/>
<line x1="774.1" y1="1009.8" x2="671.0" y2="1084.2" stroke="#0b0b0b" stroke-width="0.9693760476195039" stroke-linecap="butt"/>
<line x1="780.9" y1="845.7" x2="769.4" y2="818.2" stroke="#0b0b0b" stroke-width="0.7346697880038553" stroke-linecap="butt"/>
<line x1="778.7" y1="925.1" x2="682.8" y2="847.9" stroke="#0b0b0b" stroke-width="1.366516786866299" stroke-linecap="butt"/>
<line x1="758.4" y1="911.9" x2="681.9" y2="853.6" stroke="#0b0b0b" stroke-width="1.0735094450400506" stroke-linecap="butt"/>
<line x1="703.3" y1="1031.0" x2="652.1" y2="1056.1" stroke="#0b0b0b" stroke-width="1.4907546702742192" stroke-linecap="butt"/>
<line x1="719.2" y1="888.4" x2="673.1" y2="855.9" stroke="#0b0b0b" stroke-width="0.9920812876365297" stroke-linecap="butt"/>
<line x1="774.2" y1="905.6" x2="706.0" y2="832.0" stroke="#0b0b0b" stroke-width="1.4720549483526566" stroke-linecap="butt"/>
<line x1="729.8" y1="864.7" x2="705.9" y2="840.6" stroke="#0b0b0b" stroke-width="1.4021285058521924" stroke-linecap="butt"/>
<line x1="758.7" y1="916.2" x2="673.2" y2="855.8" stroke="#0b0b0b" stroke-width="1.1579929433650882" stroke-linecap="butt"/>
<line x1="765.2" y1="1072.2" x2="732.1" y2="1123.7" stroke="#9a9a9a" stroke-width="1.0687399581538717" stroke-linecap="butt"/>
<line x1="769.7" y1="1005.5" x2="656.1" y2="1073.9" stroke="#0b0b0b" stroke-width="0.9369740355820799" stroke-linecap="butt"/>
<line x1="668.4" y1="999.2" x2="612.8" y2="1009.8" stroke="#0b0b0b" stroke-width="1.468023913943043" stroke-linecap="butt"/>
<line x1="656.1" y1="935.3" x2="612.4" y2="927.2" stroke="#0b0b0b" stroke-width="0.9089517118217074" stroke-linecap="butt"/>
<line x1="784.0" y1="1038.1" x2="732.0" y2="1114.0" stroke="#0b0b0b" stroke-width="1.4805840728251525" stroke-linecap="butt"/>
<line x1="661.8" y1="974.6" x2="615.7" y2="976.4" stroke="#0b0b0b" stroke-width="1.2208984651343493" stroke-linecap="butt"/>
<line x1="785.2" y1="885.4" x2="750.6" y2="824.4" stroke="#0b0b0b" stroke-width="1.0543986477242937" stroke-linecap="butt"/>
<line x1="773.1" y1="881.1" x2="734.5" y2="824.0" stroke="#0b0b0b" stroke-width="0.9178658113843223" stroke-linecap="butt"/>
<line x1="732.7" y1="1012.3" x2="646.7" y2="1050.6" stroke="#0b0b0b" stroke-width="1.3088721022196197" stroke-linecap="butt"/>
<line x1="754.6" y1="1019.4" x2="671.0" y2="1074.8" stroke="#0b0b0b" stroke-width="1.3579421578991968" stroke-linecap="butt"/>
<line x1="732.0" y1="1024.8" x2="657.5" y2="1067.1" stroke="#0b0b0b" stroke-width="1.0979247824126777" stroke-linecap="butt"/>
<line x1="678.8" y1="1042.2" x2="642.5" y2="1059.8" stroke="#0b0b0b" stroke-width="1.1170209480724669" stroke-linecap="butt"/>
<line x1="773.6" y1="833.0" x2="768.8" y2="821.9" stroke="#ffffff" stroke-width="0.7942559994301536" stroke-linecap="butt"/>
<line x1="674.0" y1="952.2" x2="611.1" y2="945.9" stroke="#0b0b0b" stroke-width="1.1850902349594392" stroke-linecap="butt"/>
<line x1="705.3" y1="999.3" x2="625.5" y2="1019.0" stroke="#9a9a9a" stroke-width="1.0423130599306543" stroke-linecap="butt"/>
<line x1="669.4" y1="1010.0" x2="622.5" y2="1022.1" stroke="#d0d0d0" stroke-width="1.0757676901396676" stroke-linecap="butt"/>
<line x1="738.5" y1="950.5" x2="612.7" y2="926.9" stroke="#0b0b0b" stroke-width="0.6395808834095439" stroke-linecap="butt"/>
<line x1="769.4" y1="1087.9" x2="751.1" y2="1123.0" stroke="#0b0b0b" stroke-width="1.3343089015029297" stroke-linecap="butt"/>
<line x1="717.3" y1="1005.4" x2="617.2" y2="1038.0" stroke="#0b0b0b" stroke-width="1.4547401976643006" stroke-linecap="butt"/>
<line x1="748.3" y1="938.5" x2="627.3" y2="895.9" stroke="#0b0b0b" stroke-width="0.8782420930172363" stroke-linecap="butt"/>
<line x1="736.1" y1="963.4" x2="604.0" y2="957.1" stroke="#0b0b0b" stroke-width="0.7561208334038546" stroke-linecap="butt"/>
<line x1="746.5" y1="845.1" x2="729.2" y2="820.3" stroke="#9a9a9a" stroke-width="0.7015282052898232" stroke-linecap="butt"/>
<line x1="734.9" y1="1016.7" x2="637.1" y2="1065.7" stroke="#0b0b0b" stroke-width="1.4216948950001806" stroke-linecap="butt"/>
<line x1="736.2" y1="933.5" x2="632.8" y2="896.2" stroke="#0b0b0b" stroke-width="0.9920187952475565" stroke-linecap="butt"/>
<line x1="791.6" y1="880.9" x2="764.5" y2="822.3" stroke="#0b0b0b" stroke-width="1.3087155224011464" stroke-linecap="butt"/>
<line x1="737.2" y1="958.4" x2="604.0" y2="944.8" stroke="#0b0b0b" stroke-width="0.9311254375996203" stroke-linecap="butt"/>
<line x1="708.2" y1="930.9" x2="623.0" y2="905.3" stroke="#0b0b0b" stroke-width="0.8675282676208401" stroke-linecap="butt"/>
<line x1="762.1" y1="878.5" x2="720.6" y2="825.3" stroke="#0b0b0b" stroke-width="1.4478784608529942" stroke-linecap="butt"/>
<line x1="663.8" y1="1019.0" x2="624.8" y2="1030.9" stroke="#0b0b0b" stroke-width="1.0811949709178923" stroke-linecap="butt"/>
<line x1="648.0" y1="973.8" x2="615.3" y2="974.8" stroke="#d0d0d0" stroke-width="0.958887671164353" stroke-linecap="butt"/>
<line x1="727.0" y1="1087.1" x2="710.7" y2="1105.6" stroke="#d0d0d0" stroke-width="0.9550721122188508" stroke-linecap="butt"/>
<line x1="796.0" y1="918.3" x2="728.1" y2="824.7" stroke="#0b0b0b" stroke-width="0.8597113796585747" stroke-linecap="butt"/>
<line x1="682.2" y1="920.0" x2="630.4" y2="903.4" stroke="#0b0b0b" stroke-width="1.018017988633343" stroke-linecap="butt"/>
<line x1="678.7" y1="1031.9" x2="628.9" y2="1052.7" stroke="#0b0b0b" stroke-width="0.7587540911631037" stroke-linecap="butt"/>
<line x1="747.0" y1="1079.6" x2="718.1" y2="1117.4" stroke="#0b0b0b" stroke-width="0.6227372444656282" stroke-linecap="butt"/>
<line x1="699.2" y1="952.7" x2="604.0" y2="941.7" stroke="#d0d0d0" stroke-width="1.0476116326849914" stroke-linecap="butt"/>
<line x1="784.3" y1="1009.7" x2="682.5" y2="1098.8" stroke="#0b0b0b" stroke-width="0.6359986822879068" stroke-linecap="butt"/>
<line x1="779.9" y1="898.6" x2="729.3" y2="831.0" stroke="#0b0b0b" stroke-width="0.6353104807221136" stroke-linecap="butt"/>
<line x1="691.3" y1="1031.7" x2="645.0" y2="1052.6" stroke="#0b0b0b" stroke-width="1.1131487320967213" stroke-linecap="butt"/>
<line x1="743.2" y1="884.7" x2="698.3" y2="842.6" stroke="#9a9a9a" stroke-width="0.5257758671422853" stroke-linecap="butt"/>
<line x1="779.7" y1="1067.7" x2="748.6" y2="1127.1" stroke="#d0d0d0" stroke-width="1.0486888334706272" stroke-linecap="butt"/>
<line x1="741.0" y1="1055.6" x2="698.7" y2="1096.3" stroke="#0b0b0b" stroke-width="0.9542719334237173" stroke-linecap="butt"/>
<line x1="796.0" y1="1025.3" x2="737.7" y2="1118.0" stroke="#0b0b0b" stroke-width="1.4517253402967065" stroke-linecap="butt"/>
<line x1="796.0" y1="1109.4" x2="788.9" y2="1137.3" stroke="#0b0b0b" stroke-width="1.3469904218241477" stroke-linecap="butt"/>
<line x1="687.1" y1="946.8" x2="621.1" y2="937.2" stroke="#0b0b0b" stroke-width="0.9855153546170065" stroke-linecap="butt"/>
<line x1="796.0" y1="1105.7" x2="790.0" y2="1128.6" stroke="#0b0b0b" stroke-width="0.6393221360226657" stroke-linecap="butt"/>
<line x1="768.8" y1="1054.3" x2="725.8" y2="1113.1" stroke="#0b0b0b" stroke-width="1.4724729165641512" stroke-linecap="butt"/>
<line x1="758.0" y1="978.0" x2="616.0" y2="997.3" stroke="#0b0b0b" stroke-width="0.922043216321663" stroke-linecap="butt"/>
<line x1="792.2" y1="916.1" x2="727.5" y2="831.6" stroke="#0b0b0b" stroke-width="1.2362755368485967" stroke-linecap="butt"/>
<line x1="760.9" y1="894.0" x2="709.4" y2="840.4" stroke="#0b0b0b" stroke-width="1.0005279162510625" stroke-linecap="butt"/>
<line x1="693.3" y1="899.9" x2="651.3" y2="879.3" stroke="#0b0b0b" stroke-width="0.7276992576479788" stroke-linecap="butt"/>
<line x1="729.8" y1="910.6" x2="651.5" y2="866.8" stroke="#0b0b0b" stroke-width="1.2844653408757982" stroke-linecap="butt"/>
<line x1="734.9" y1="1022.5" x2="650.2" y2="1070.1" stroke="#0b0b0b" stroke-width="1.2895431277564833" stroke-linecap="butt"/>
<line x1="790.9" y1="867.0" x2="771.5" y2="819.4" stroke="#d0d0d0" stroke-width="0.5663572059644335" stroke-linecap="butt"/>
<line x1="769.0" y1="926.1" x2="662.1" y2="855.0" stroke="#0b0b0b" stroke-width="1.0005652481451146" stroke-linecap="butt"/>
<line x1="781.9" y1="930.2" x2="678.3" y2="852.0" stroke="#0b0b0b" stroke-width="1.0216604902812478" stroke-linecap="butt"/>
<line x1="726.0" y1="963.3" x2="604.0" y2="957.9" stroke="#0b0b0b" stroke-width="1.265098173225582" stroke-linecap="butt"/>
<line x1="727.2" y1="1018.1" x2="634.4" y2="1062.4" stroke="#0b0b0b" stroke-width="1.305488546108936" stroke-linecap="butt"/>
<line x1="747.6" y1="929.1" x2="651.3" y2="884.7" stroke="#0b0b0b" stroke-width="1.1520202803740198" stroke-linecap="butt"/>
<line x1="691.2" y1="1066.9" x2="665.3" y2="1085.1" stroke="#d0d0d0" stroke-width="0.6777892158980121" stroke-linecap="butt"/>
<line x1="760.0" y1="864.0" x2="732.6" y2="824.4" stroke="#0b0b0b" stroke-width="1.4340339572271135" stroke-linecap="butt"/>
<line x1="750.3" y1="1065.6" x2="708.5" y2="1115.6" stroke="#0b0b0b" stroke-width="0.8940061125266403" stroke-linecap="butt"/>
<line x1="783.8" y1="1042.9" x2="735.6" y2="1117.9" stroke="#0b0b0b" stroke-width="1.0960207851807875" stroke-linecap="butt"/>
<line x1="796.0" y1="1026.3" x2="739.5" y2="1117.9" stroke="#0b0b0b" stroke-width="1.1101825194247525" stroke-linecap="butt"/>
<line x1="754.8" y1="1083.6" x2="729.1" y2="1122.2" stroke="#0b0b0b" stroke-width="1.450440215280635" stroke-linecap="butt"/>
<line x1="688.4" y1="967.8" x2="614.4" y2="967.7" stroke="#9a9a9a" stroke-width="0.5829801325940566" stroke-linecap="butt"/>
<line x1="677.1" y1="1037.2" x2="640.5" y2="1053.5" stroke="#0b0b0b" stroke-width="1.365602488782647" stroke-linecap="butt"/>
<line x1="795.0" y1="924.6" x2="718.1" y2="834.3" stroke="#0b0b0b" stroke-width="1.14966632626798" stroke-linecap="butt"/>
<line x1="755.5" y1="970.7" x2="615.0" y2="975.5" stroke="#0b0b0b" stroke-width="0.6497684386607986" stroke-linecap="butt"/>
<line x1="796.0" y1="1060.6" x2="771.3" y2="1124.1" stroke="#0b0b0b" stroke-width="1.4604072208960708" stroke-linecap="butt"/>
<line x1="785.6" y1="1006.4" x2="682.2" y2="1091.7" stroke="#0b0b0b" stroke-width="1.3237470269727414" stroke-linecap="butt"/>
<line x1="706.5" y1="994.4" x2="616.3" y2="1013.4" stroke="#0b0b0b" stroke-width="1.0651019462527893" stroke-linecap="butt"/>
<line x1="746.9" y1="977.1" x2="607.1" y2="992.1" stroke="#0b0b0b" stroke-width="0.9612302874448606" stroke-linecap="butt"/>
<line x1="796.0" y1="845.2" x2="785.5" y2="809.3" stroke="#0b0b0b" stroke-width="0.898387603076054" stroke-linecap="butt"/>
<line x1="725.3" y1="989.6" x2="616.7" y2="1011.6" stroke="#0b0b0b" stroke-width="1.1908477416829912" stroke-linecap="butt"/>
<line x1="784.0" y1="1067.7" x2="755.1" y2="1127.7" stroke="#0b0b0b" stroke-width="1.3632991602268825" stroke-linecap="butt"/>
<line x1="777.5" y1="1017.4" x2="685.8" y2="1100.5" stroke="#0b0b0b" stroke-width="1.1211643452555604" stroke-linecap="butt"/>
<line x1="740.7" y1="951.4" x2="619.4" y2="929.3" stroke="#0b0b0b" stroke-width="1.4716772936358602" stroke-linecap="butt"/>
<line x1="731.1" y1="1065.4" x2="697.2" y2="1098.1" stroke="#0b0b0b" stroke-width="1.1847067399730402" stroke-linecap="butt"/>
<line x1="757.1" y1="1011.2" x2="650.1" y2="1072.8" stroke="#0b0b0b" stroke-width="1.0123394467227083" stroke-linecap="butt"/>
<line x1="705.1" y1="1055.6" x2="662.8" y2="1084.8" stroke="#0b0b0b" stroke-width="1.1101756548300814" stroke-linecap="butt"/>
<line x1="767.1" y1="1007.9" x2="653.2" y2="1078.0" stroke="#0b0b0b" stroke-width="1.0528175301515053" stroke-linecap="butt"/>
<line x1="775.4" y1="1064.5" x2="737.3" y2="1129.3" stroke="#0b0b0b" stroke-width="1.4643413301515538" stroke-linecap="butt"/>
<line x1="703.5" y1="952.1" x2="607.1" y2="940.2" stroke="#0b0b0b" stroke-width="1.4711645965578404" stroke-linecap="butt"/>
<line x1="721.7" y1="959.5" x2="617.0" y2="951.5" stroke="#0b0b0b" stroke-width="1.1569064412400056" stroke-linecap="butt"/>
<line x1="796.0" y1="893.7" x2="757.0" y2="813.2" stroke="#0b0b0b" stroke-width="1.4897575347491543" stroke-linecap="butt"/>
<line x1="796.0" y1="879.7" x2="768.9" y2="813.3" stroke="#0b0b0b" stroke-width="0.9302841586685978" stroke-linecap="butt"/>
<line x1="796.0" y1="1016.7" x2="720.2" y2="1119.2" stroke="#0b0b0b" stroke-width="0.8300542213801301" stroke-linecap="butt"/>
<line x1="723.1" y1="972.4" x2="607.2" y2="977.1" stroke="#0b0b0b" stroke-width="1.0400892245706423" stroke-linecap="butt"/>
<line x1="712.8" y1="910.4" x2="649.5" y2="879.8" stroke="#9a9a9a" stroke-width="0.712612513571149" stroke-linecap="butt"/>
<line x1="697.3" y1="1059.3" x2="672.3" y2="1076.3" stroke="#0b0b0b" stroke-width="0.9958904907272648" stroke-linecap="butt"/>
<line x1="734.3" y1="964.4" x2="616.5" y2="960.1" stroke="#0b0b0b" stroke-width="0.7352203324349342" stroke-linecap="butt"/>
<line x1="779.4" y1="1085.0" x2="758.7" y2="1130.9" stroke="#0b0b0b" stroke-width="1.1294838904430193" stroke-linecap="butt"/>
<line x1="655.5" y1="937.4" x2="623.4" y2="931.8" stroke="#0b0b0b" stroke-width="1.0384532746046586" stroke-linecap="butt"/>
<line x1="710.3" y1="1015.2" x2="629.6" y2="1046.5" stroke="#0b0b0b" stroke-width="1.3586628968133128" stroke-linecap="butt"/>
<line x1="761.5" y1="1015.5" x2="665.2" y2="1080.3" stroke="#0b0b0b" stroke-width="1.4621256705355719" stroke-linecap="butt"/>
<line x1="744.8" y1="928.3" x2="643.1" y2="882.0" stroke="#0b0b0b" stroke-width="0.7178288491837753" stroke-linecap="butt"/>
<line x1="756.8" y1="875.8" x2="717.2" y2="827.2" stroke="#0b0b0b" stroke-width="0.8982322761367127" stroke-linecap="butt"/>
<line x1="796.0" y1="1123.7" x2="794.1" y2="1132.1" stroke="#0b0b0b" stroke-width="1.0350939810305946" stroke-linecap="butt"/>
<line x1="751.4" y1="889.6" x2="696.1" y2="835.8" stroke="#0b0b0b" stroke-width="1.1677870708051756" stroke-linecap="butt"/>
<line x1="796.0" y1="898.2" x2="756.4" y2="821.4" stroke="#0b0b0b" stroke-width="1.492223580448783" stroke-linecap="butt"/>
<line x1="751.4" y1="986.5" x2="615.5" y2="1017.7" stroke="#0b0b0b" stroke-width="1.2287483634851903" stroke-linecap="butt"/>
<line x1="796.0" y1="1071.8" x2="777.2" y2="1125.8" stroke="#0b0b0b" stroke-width="0.9836267841591807" stroke-linecap="butt"/>
<line x1="793.9" y1="859.8" x2="776.6" y2="810.9" stroke="#0b0b0b" stroke-width="0.8142340279037665" stroke-linecap="butt"/>
<line x1="772.4" y1="850.2" x2="759.8" y2="825.3" stroke="#0b0b0b" stroke-width="0.9073503059564447" stroke-linecap="butt"/>
<line x1="769.9" y1="1085.7" x2="750.8" y2="1121.7" stroke="#0b0b0b" stroke-width="1.2441212591928705" stroke-linecap="butt"/>
<line x1="710.1" y1="1056.4" x2="667.5" y2="1087.2" stroke="#0b0b0b" stroke-width="1.3043088028827279" stroke-linecap="butt"/>
<line x1="782.3" y1="1100.1" x2="768.9" y2="1135.6" stroke="#0b0b0b" stroke-width="0.7357288764570509" stroke-linecap="butt"/>
<line x1="796.0" y1="1059.0" x2="766.8" y2="1132.9" stroke="#0b0b0b" stroke-width="0.9564667687703237" stroke-linecap="butt"/>
<line x1="796.0" y1="1108.1" x2="788.9" y2="1135.6" stroke="#0b0b0b" stroke-width="1.2478679893735554" stroke-linecap="butt"/>
<line x1="660.9" y1="1006.4" x2="613.6" y2="1017.0" stroke="#0b0b0b" stroke-width="0.6661504822157471" stroke-linecap="butt"/>
<line x1="796.0" y1="1100.1" x2="786.4" y2="1135.2" stroke="#0b0b0b" stroke-width="0.9181407674306334" stroke-linecap="butt"/>
<line x1="796.0" y1="1095.8" x2="783.9" y2="1138.8" stroke="#0b0b0b" stroke-width="0.7577097210905315" stroke-linecap="butt"/>
<line x1="677.5" y1="990.2" x2="606.2" y2="1000.5" stroke="#ffffff" stroke-width="0.6202086369373158" stroke-linecap="butt"/>
<line x1="701.5" y1="1010.7" x2="619.1" y2="1037.6" stroke="#0b0b0b" stroke-width="0.7770398446735894" stroke-linecap="butt"/>
<line x1="781.1" y1="1039.3" x2="721.8" y2="1122.3" stroke="#0b0b0b" stroke-width="0.7229988634924969" stroke-linecap="butt"/>
<line x1="692.2" y1="983.9" x2="604.0" y2="994.0" stroke="#0b0b0b" stroke-width="1.4305990086854714" stroke-linecap="butt"/>
<line x1="722.9" y1="903.8" x2="656.0" y2="864.4" stroke="#0b0b0b" stroke-width="0.9647860627532604" stroke-linecap="butt"/>
<line x1="740.6" y1="918.3" x2="661.7" y2="875.3" stroke="#0b0b0b" stroke-width="0.6409177495425807" stroke-linecap="butt"/>
<line x1="725.1" y1="908.4" x2="656.2" y2="870.1" stroke="#0b0b0b" stroke-width="0.8313156362340981" stroke-linecap="butt"/>
<line x1="778.6" y1="1012.0" x2="682.6" y2="1090.9" stroke="#0b0b0b" stroke-width="0.7405723496484298" stroke-linecap="butt"/>
<line x1="739.3" y1="1067.5" x2="707.7" y2="1101.4" stroke="#0b0b0b" stroke-width="0.9809083097405523" stroke-linecap="butt"/>
<line x1="697.5" y1="1005.5" x2="620.3" y2="1027.0" stroke="#0b0b0b" stroke-width="1.1414122217705591" stroke-linecap="butt"/>
<line x1="736.8" y1="1055.0" x2="692.2" y2="1095.8" stroke="#0b0b0b" stroke-width="1.2869776794945447" stroke-linecap="butt"/>
<line x1="701.4" y1="881.3" x2="664.8" y2="857.0" stroke="#0b0b0b" stroke-width="1.0078449048352986" stroke-linecap="butt"/>
<line x1="748.9" y1="974.0" x2="604.0" y2="984.4" stroke="#0b0b0b" stroke-width="0.6081362769180452" stroke-linecap="butt"/>
<line x1="741.5" y1="1014.8" x2="642.1" y2="1066.2" stroke="#0b0b0b" stroke-width="1.490572643026825" stroke-linecap="butt"/>
<line x1="746.9" y1="1053.5" x2="702.3" y2="1098.4" stroke="#9a9a9a" stroke-width="0.9664226435802254" stroke-linecap="butt"/>
<line x1="739.1" y1="883.2" x2="693.8" y2="841.8" stroke="#0b0b0b" stroke-width="1.4125717353797427" stroke-linecap="butt"/>
<line x1="785.1" y1="1058.4" x2="748.1" y2="1129.8" stroke="#0b0b0b" stroke-width="0.9157453320942426" stroke-linecap="butt"/>
<line x1="742.3" y1="951.7" x2="607.4" y2="927.2" stroke="#0b0b0b" stroke-width="1.421118106021025" stroke-linecap="butt"/>
<line x1="690.6" y1="917.8" x2="636.8" y2="898.8" stroke="#0b0b0b" stroke-width="0.6238251179234968" stroke-linecap="butt"/>
<line x1="757.8" y1="1012.0" x2="657.8" y2="1071.3" stroke="#0b0b0b" stroke-width="0.9383927424917716" stroke-linecap="butt"/>
<line x1="693.2" y1="912.2" x2="634.3" y2="888.5" stroke="#9a9a9a" stroke-width="0.6388283998711599" stroke-linecap="butt"/>
<line x1="764.3" y1="880.7" x2="722.2" y2="826.3" stroke="#0b0b0b" stroke-width="0.8686143002769219" stroke-linecap="butt"/>
<line x1="788.1" y1="915.9" x2="717.0" y2="831.5" stroke="#0b0b0b" stroke-width="1.376762949232002" stroke-linecap="butt"/>
<line x1="730.0" y1="879.5" x2="687.6" y2="842.6" stroke="#0b0b0b" stroke-width="0.8543093501000824" stroke-linecap="butt"/>
<line x1="745.4" y1="964.2" x2="604.0" y2="957.9" stroke="#0b0b0b" stroke-width="1.2144960272999845" stroke-linecap="butt"/>
<line x1="666.5" y1="944.0" x2="610.5" y2="935.8" stroke="#0b0b0b" stroke-width="0.7888363783524343" stroke-linecap="butt"/>
<line x1="692.2" y1="904.1" x2="639.0" y2="879.8" stroke="#0b0b0b" stroke-width="0.7640674962947344" stroke-linecap="butt"/>
<line x1="796.0" y1="877.2" x2="769.2" y2="809.6" stroke="#0b0b0b" stroke-width="1.4204463867279713" stroke-linecap="butt"/>
<line x1="717.5" y1="1069.5" x2="691.8" y2="1092.2" stroke="#d0d0d0" stroke-width="0.8992106410102098" stroke-linecap="butt"/>
<line x1="677.6" y1="917.3" x2="631.7" y2="902.2" stroke="#0b0b0b" stroke-width="1.1267465644415489" stroke-linecap="butt"/>
<line x1="758.5" y1="998.3" x2="643.7" y2="1045.7" stroke="#0b0b0b" stroke-width="1.1356618047391316" stroke-linecap="butt"/>
<line x1="732.9" y1="1037.2" x2="663.7" y2="1085.5" stroke="#ffffff" stroke-width="0.7924130498048124" stroke-linecap="butt"/>
<line x1="796.0" y1="893.9" x2="760.0" y2="819.8" stroke="#0b0b0b" stroke-width="1.2168514824390018" stroke-linecap="butt"/>
<line x1="779.8" y1="1014.9" x2="687.5" y2="1097.7" stroke="#0b0b0b" stroke-width="0.9182154257268906" stroke-linecap="butt"/>
<line x1="796.0" y1="1091.0" x2="784.3" y2="1131.2" stroke="#0b0b0b" stroke-width="1.470750577560531" stroke-linecap="butt"/>
<line x1="739.0" y1="1048.0" x2="687.1" y2="1092.8" stroke="#ffffff" stroke-width="0.5287140775089968" stroke-linecap="butt"/>
<line x1="743.9" y1="1076.6" x2="709.9" y2="1118.5" stroke="#d0d0d0" stroke-width="0.8292860224727665" stroke-linecap="butt"/>
<line x1="705.7" y1="1051.6" x2="655.7" y2="1084.6" stroke="#0b0b0b" stroke-width="1.245983804328231" stroke-linecap="butt"/>
<line x1="698.0" y1="884.3" x2="665.5" y2="864.0" stroke="#0b0b0b" stroke-width="0.9483698650066716" stroke-linecap="butt"/>
<line x1="663.1" y1="920.1" x2="630.6" y2="910.8" stroke="#0b0b0b" stroke-width="0.6047258728383654" stroke-linecap="butt"/>
<line x1="796.0" y1="1102.6" x2="788.6" y2="1130.4" stroke="#0b0b0b" stroke-width="0.9392713575952575" stroke-linecap="butt"/>
<line x1="755.3" y1="865.9" x2="730.9" y2="833.5" stroke="#0b0b0b" stroke-width="1.3055706182888707" stroke-linecap="butt"/>
<line x1="682.8" y1="1039.9" x2="641.9" y2="1059.6" stroke="#9a9a9a" stroke-width="0.7823646255290326" stroke-linecap="butt"/>
<line x1="742.6" y1="921.0" x2="651.5" y2="873.1" stroke="#0b0b0b" stroke-width="1.3424917322886154" stroke-linecap="butt"/>
<line x1="796.0" y1="1045.3" x2="758.5" y2="1125.7" stroke="#0b0b0b" stroke-width="1.4783384432914342" stroke-linecap="butt"/>
<line x1="769.5" y1="1001.4" x2="643.2" y2="1068.8" stroke="#0b0b0b" stroke-width="1.3175853489992086" stroke-linecap="butt"/>
<line x1="796.0" y1="1098.8" x2="785.2" y2="1137.9" stroke="#0b0b0b" stroke-width="1.356919890090442" stroke-linecap="butt"/>
<line x1="706.6" y1="904.7" x2="648.2" y2="875.2" stroke="#9a9a9a" stroke-width="0.6229048678017002" stroke-linecap="butt"/>
<line x1="774.1" y1="874.5" x2="743.6" y2="825.2" stroke="#0b0b0b" stroke-width="0.73721142515314" stroke-linecap="butt"/>
<line x1="762.6" y1="862.2" x2="734.2" y2="819.0" stroke="#0b0b0b" stroke-width="1.1868820233717765" stroke-linecap="butt"/>
<line x1="706.0" y1="891.3" x2="664.5" y2="866.0" stroke="#0b0b0b" stroke-width="0.9852553845251396" stroke-linecap="butt"/>
<line x1="752.3" y1="1025.2" x2="671.1" y2="1083.4" stroke="#0b0b0b" stroke-width="1.1967038968420902" stroke-linecap="butt"/>
<line x1="761.1" y1="918.8" x2="670.0" y2="855.5" stroke="#0b0b0b" stroke-width="0.861450067142142" stroke-linecap="butt"/>
<line x1="791.2" y1="865.5" x2="770.9" y2="814.3" stroke="#0b0b0b" stroke-width="0.7570620848456213" stroke-linecap="butt"/>
<line x1="727.6" y1="1024.0" x2="646.9" y2="1067.3" stroke="#0b0b0b" stroke-width="1.3214011791573457" stroke-linecap="butt"/>
<line x1="736.5" y1="984.6" x2="623.2" y2="1004.4" stroke="#0b0b0b" stroke-width="1.131532261972029" stroke-linecap="butt"/>
<line x1="736.1" y1="981.2" x2="604.0" y2="999.5" stroke="#0b0b0b" stroke-width="0.838863592972809" stroke-linecap="butt"/>
<line x1="753.9" y1="974.1" x2="608.7" y2="985.3" stroke="#0b0b0b" stroke-width="0.7154704152109554" stroke-linecap="butt"/>
<line x1="713.6" y1="879.2" x2="674.7" y2="849.9" stroke="#0b0b0b" stroke-width="1.2456637173762695" stroke-linecap="butt"/>
<line x1="738.6" y1="947.9" x2="615.2" y2="921.3" stroke="#0b0b0b" stroke-width="0.8147633116455488" stroke-linecap="butt"/>
<line x1="776.6" y1="847.9" x2="762.0" y2="816.5" stroke="#0b0b0b" stroke-width="1.3665405395679653" stroke-linecap="butt"/>
<line x1="796.0" y1="843.0" x2="787.7" y2="814.3" stroke="#0b0b0b" stroke-width="0.9732409614841622" stroke-linecap="butt"/>
<line x1="763.5" y1="1000.2" x2="636.3" y2="1060.0" stroke="#0b0b0b" stroke-width="1.1071405367276606" stroke-linecap="butt"/>
<line x1="712.1" y1="1053.1" x2="669.4" y2="1083.4" stroke="#d0d0d0" stroke-width="0.8070755634582045" stroke-linecap="butt"/>
<line x1="766.8" y1="1069.0" x2="732.1" y2="1122.7" stroke="#9a9a9a" stroke-width="0.6980910052473623" stroke-linecap="butt"/>
<line x1="762.0" y1="942.8" x2="632.9" y2="896.3" stroke="#0b0b0b" stroke-width="1.3631001999186214" stroke-linecap="butt"/>
<line x1="749.7" y1="869.8" x2="718.7" y2="832.7" stroke="#0b0b0b" stroke-width="0.7798525664206873" stroke-linecap="butt"/>
<line x1="778.7" y1="1076.7" x2="753.8" y2="1127.6" stroke="#0b0b0b" stroke-width="1.3592549147125288" stroke-linecap="butt"/>
<line x1="703.0" y1="930.1" x2="633.4" y2="909.6" stroke="#0b0b0b" stroke-width="0.8884396500952714" stroke-linecap="butt"/>
<line x1="720.2" y1="974.9" x2="616.6" y2="981.3" stroke="#0b0b0b" stroke-width="1.1975592402591593" stroke-linecap="butt"/>
<line x1="700.2" y1="923.9" x2="622.2" y2="897.7" stroke="#0b0b0b" stroke-width="0.8761621532890256" stroke-linecap="butt"/>
<line x1="718.1" y1="924.1" x2="636.3" y2="892.6" stroke="#0b0b0b" stroke-width="0.8744706308976306" stroke-linecap="butt"/>
<line x1="746.8" y1="861.0" x2="721.0" y2="828.5" stroke="#0b0b0b" stroke-width="1.1906896512216951" stroke-linecap="butt"/>
<line x1="796.0" y1="896.9" x2="753.8" y2="813.7" stroke="#0b0b0b" stroke-width="1.0107875118213954" stroke-linecap="butt"/>
<line x1="776.0" y1="998.9" x2="646.8" y2="1070.0" stroke="#0b0b0b" stroke-width="0.6608779465260785" stroke-linecap="butt"/>
<line x1="790.8" y1="1031.3" x2="737.1" y2="1113.6" stroke="#0b0b0b" stroke-width="0.9951967050312523" stroke-linecap="butt"/>
<line x1="764.1" y1="883.7" x2="716.7" y2="824.9" stroke="#0b0b0b" stroke-width="0.9654042135281344" stroke-linecap="butt"/>
<line x1="789.4" y1="913.2" x2="727.3" y2="833.4" stroke="#0b0b0b" stroke-width="1.3723114324759407" stroke-linecap="butt"/>
<line x1="776.6" y1="855.1" x2="756.4" y2="813.8" stroke="#9a9a9a" stroke-width="0.9804187901204451" stroke-linecap="butt"/>
<line x1="686.7" y1="967.2" x2="604.0" y2="966.8" stroke="#0b0b0b" stroke-width="0.8654033535848249" stroke-linecap="butt"/>
<line x1="774.6" y1="1065.6" x2="743.9" y2="1117.9" stroke="#ffffff" stroke-width="0.5549191547224113" stroke-linecap="butt"/>
<line x1="748.3" y1="1029.5" x2="671.9" y2="1085.6" stroke="#0b0b0b" stroke-width="1.381357064478086" stroke-linecap="butt"/>
<line x1="794.2" y1="888.6" x2="763.0" y2="823.2" stroke="#0b0b0b" stroke-width="1.2823517285987795" stroke-linecap="butt"/>
<line x1="756.3" y1="1066.0" x2="716.8" y2="1117.1" stroke="#0b0b0b" stroke-width="0.8786099614256124" stroke-linecap="butt"/>
<line x1="659.2" y1="994.1" x2="617.5" y2="1000.3" stroke="#0b0b0b" stroke-width="1.1988443678773049" stroke-linecap="butt"/>
<line x1="731.0" y1="892.5" x2="676.1" y2="851.5" stroke="#0b0b0b" stroke-width="0.7783404560238688" stroke-linecap="butt"/>
<line x1="782.6" y1="895.8" x2="736.3" y2="828.1" stroke="#0b0b0b" stroke-width="0.6349311846915288" stroke-linecap="butt"/>
<line x1="706.3" y1="1034.0" x2="652.6" y2="1062.3" stroke="#d0d0d0" stroke-width="0.9502213170295576" stroke-linecap="butt"/>
<line x1="753.0" y1="967.2" x2="604.0" y2="965.6" stroke="#0b0b0b" stroke-width="1.0362687479853552" stroke-linecap="butt"/>
<line x1="759.4" y1="990.5" x2="623.5" y2="1032.6" stroke="#0b0b0b" stroke-width="0.7257371606186785" stroke-linecap="butt"/>
<line x1="795.2" y1="1064.8" x2="768.1" y2="1136.0" stroke="#9a9a9a" stroke-width="0.5007874981059068" stroke-linecap="butt"/>
<line x1="785.1" y1="904.0" x2="732.6" y2="832.3" stroke="#0b0b0b" stroke-width="0.7547821171568461" stroke-linecap="butt"/>
<line x1="722.5" y1="961.6" x2="611.7" y2="955.2" stroke="#0b0b0b" stroke-width="0.6986834034990783" stroke-linecap="butt"/>
<line x1="749.8" y1="1082.8" x2="723.1" y2="1120.1" stroke="#ffffff" stroke-width="0.7768381105478048" stroke-linecap="butt"/>
<line x1="719.0" y1="1022.7" x2="649.4" y2="1056.4" stroke="#0b0b0b" stroke-width="0.9175838676736501" stroke-linecap="butt"/>
<line x1="761.0" y1="1006.9" x2="655.9" y2="1064.5" stroke="#0b0b0b" stroke-width="1.4473909987586158" stroke-linecap="butt"/>
<line x1="778.6" y1="1061.3" x2="740.0" y2="1128.9" stroke="#ffffff" stroke-width="0.7976773020795098" stroke-linecap="butt"/>
<line x1="711.6" y1="981.4" x2="617.6" y2="991.8" stroke="#0b0b0b" stroke-width="0.747624087419634" stroke-linecap="butt"/>
<line x1="741.1" y1="969.9" x2="610.2" y2="972.6" stroke="#0b0b0b" stroke-width="0.9633466348034347" stroke-linecap="butt"/>
<line x1="781.2" y1="855.8" x2="765.6" y2="821.4" stroke="#0b0b0b" stroke-width="1.0516166896796357" stroke-linecap="butt"/>
<line x1="755.8" y1="1062.8" x2="714.9" y2="1113.8" stroke="#0b0b0b" stroke-width="0.8063357619817284" stroke-linecap="butt"/>
<line x1="796.0" y1="903.2" x2="752.2" y2="824.3" stroke="#0b0b0b" stroke-width="0.953940731747577" stroke-linecap="butt"/>
<line x1="778.4" y1="928.2" x2="672.3" y2="849.3" stroke="#0b0b0b" stroke-width="1.120665406404893" stroke-linecap="butt"/>
<line x1="693.2" y1="1009.8" x2="618.0" y2="1032.5" stroke="#0b0b0b" stroke-width="0.6559246669652269" stroke-linecap="butt"/>
<line x1="764.5" y1="989.2" x2="615.6" y2="1036.1" stroke="#0b0b0b" stroke-width="1.1564234606591626" stroke-linecap="butt"/>
<line x1="757.7" y1="1075.6" x2="729.8" y2="1116.1" stroke="#0b0b0b" stroke-width="1.0156108456304418" stroke-linecap="butt"/>
<line x1="743.1" y1="941.9" x2="632.6" y2="909.5" stroke="#0b0b0b" stroke-width="1.2603793022055867" stroke-linecap="butt"/>
<line x1="796.0" y1="902.0" x2="752.8" y2="822.9" stroke="#0b0b0b" stroke-width="0.7783805782527378" stroke-linecap="butt"/>
<line x1="690.8" y1="887.3" x2="650.2" y2="864.2" stroke="#0b0b0b" stroke-width="1.312430071775807" stroke-linecap="butt"/>
<line x1="660.1" y1="966.6" x2="604.0" y2="966.1" stroke="#0b0b0b" stroke-width="1.2763150441881308" stroke-linecap="butt"/>
<line x1="737.1" y1="842.2" x2="725.7" y2="827.1" stroke="#9a9a9a" stroke-width="0.8496664203504949" stroke-linecap="butt"/>
<line x1="755.5" y1="1070.9" x2="722.3" y2="1115.7" stroke="#0b0b0b" stroke-width="1.0466028088439048" stroke-linecap="butt"/>
<line x1="776.6" y1="1005.5" x2="667.8" y2="1079.1" stroke="#0b0b0b" stroke-width="1.0195379164011102" stroke-linecap="butt"/>
<line x1="745.0" y1="1021.7" x2="663.5" y2="1072.0" stroke="#0b0b0b" stroke-width="1.1757860057502039" stroke-linecap="butt"/>
<line x1="696.1" y1="973.4" x2="604.0" y2="977.1" stroke="#0b0b0b" stroke-width="1.1896803524445374" stroke-linecap="butt"/>
<line x1="796.0" y1="823.3" x2="792.4" y2="808.7" stroke="#0b0b0b" stroke-width="1.2756437022576854" stroke-linecap="butt"/>
<line x1="757.3" y1="891.3" x2="704.2" y2="836.9" stroke="#0b0b0b" stroke-width="1.3898034911107913" stroke-linecap="butt"/>
<line x1="796.0" y1="1115.1" x2="789.8" y2="1140.5" stroke="#0b0b0b" stroke-width="1.1972519860078208" stroke-linecap="butt"/>
<line x1="737.6" y1="1006.7" x2="629.8" y2="1051.0" stroke="#0b0b0b" stroke-width="0.9411171895684067" stroke-linecap="butt"/>
<line x1="746.8" y1="874.1" x2="709.6" y2="832.9" stroke="#0b0b0b" stroke-width="1.1969516242696305" stroke-linecap="butt"/>
<line x1="734.4" y1="945.6" x2="622.3" y2="919.9" stroke="#0b0b0b" stroke-width="1.1434468009674417" stroke-linecap="butt"/>
<line x1="796.0" y1="1051.0" x2="762.4" y2="1128.7" stroke="#0b0b0b" stroke-width="0.8695123077313276" stroke-linecap="butt"/>
<line x1="701.8" y1="986.3" x2="619.6" y2="997.8" stroke="#d0d0d0" stroke-width="0.6626058333543932" stroke-linecap="butt"/>
<line x1="727.4" y1="1042.4" x2="669.4" y2="1083.6" stroke="#0b0b0b" stroke-width="1.326418384295385" stroke-linecap="butt"/>
<line x1="707.5" y1="1046.4" x2="666.8" y2="1072.0" stroke="#0b0b0b" stroke-width="0.7656954359315546" stroke-linecap="butt"/>
<line x1="783.8" y1="1091.2" x2="767.7" y2="1132.1" stroke="#0b0b0b" stroke-width="0.9549196152218544" stroke-linecap="butt"/>
<line x1="772.4" y1="884.0" x2="728.9" y2="822.6" stroke="#ffffff" stroke-width="0.6475240727718357" stroke-linecap="butt"/>
<line x1="684.9" y1="997.9" x2="612.0" y2="1012.7" stroke="#0b0b0b" stroke-width="1.2086177616627252" stroke-linecap="butt"/>
<line x1="737.9" y1="1050.6" x2="682.3" y2="1099.5" stroke="#0b0b0b" stroke-width="0.7215294281821745" stroke-linecap="butt"/>
<line x1="756.3" y1="896.4" x2="699.2" y2="842.4" stroke="#0b0b0b" stroke-width="0.8980185300088477" stroke-linecap="butt"/>
<line x1="728.2" y1="892.8" x2="678.6" y2="856.8" stroke="#0b0b0b" stroke-width="1.2176825839152698" stroke-linecap="butt"/>
<line x1="763.9" y1="1062.9" x2="729.4" y2="1111.0" stroke="#0b0b0b" stroke-width="1.0440065795730822" stroke-linecap="butt"/>
<line x1="796.0" y1="883.0" x2="768.7" y2="818.6" stroke="#0b0b0b" stroke-width="1.0612364903241276" stroke-linecap="butt"/>
<line x1="707.2" y1="1010.6" x2="628.2" y2="1037.6" stroke="#d0d0d0" stroke-width="0.8525288369566242" stroke-linecap="butt"/>
<line x1="724.2" y1="993.9" x2="626.9" y2="1017.3" stroke="#0b0b0b" stroke-width="1.2726363877252815" stroke-linecap="butt"/>
<line x1="764.9" y1="914.5" x2="680.1" y2="846.9" stroke="#0b0b0b" stroke-width="1.0898588532449591" stroke-linecap="butt"/>
<line x1="692.8" y1="1051.9" x2="658.4" y2="1072.6" stroke="#0b0b0b" stroke-width="1.23872922751469" stroke-linecap="butt"/>
<line x1="744.6" y1="896.8" x2="689.9" y2="852.3" stroke="#0b0b0b" stroke-width="1.3432876135669032" stroke-linecap="butt"/>
<line x1="728.9" y1="915.7" x2="655.9" y2="878.7" stroke="#0b0b0b" stroke-width="1.3896544177493584" stroke-linecap="butt"/>
<line x1="765.2" y1="1028.1" x2="692.0" y2="1093.9" stroke="#0b0b0b" stroke-width="0.6481465945284515" stroke-linecap="butt"/>
<line x1="675.0" y1="909.0" x2="625.6" y2="890.4" stroke="#0b0b0b" stroke-width="0.7684313553952764" stroke-linecap="butt"/>
<line x1="737.4" y1="949.9" x2="623.1" y2="927.9" stroke="#0b0b0b" stroke-width="0.9545739321981621" stroke-linecap="butt"/>
<line x1="792.9" y1="1088.0" x2="778.6" y2="1131.8" stroke="#0b0b0b" stroke-width="1.1734008203734652" stroke-linecap="butt"/>
<line x1="717.7" y1="894.9" x2="671.3" y2="865.2" stroke="#0b0b0b" stroke-width="1.0231972865404482" stroke-linecap="butt"/>
<line x1="752.8" y1="1013.8" x2="649.6" y2="1073.4" stroke="#0b0b0b" stroke-width="0.9264672610578767" stroke-linecap="butt"/>
<path d="M596.0,929.0 L607.0,928.0 L700.0,957.0 L604.0,961.0 L596.0,961.0 Z" fill="#ffffff" />
<line x1="603.0" y1="945.3" x2="698.0" y2="957.0" stroke="#1a1a1a" stroke-width="0.7441877627797903" stroke-linecap="butt"/>
<line x1="603.0" y1="948.0" x2="698.0" y2="957.0" stroke="#1a1a1a" stroke-width="0.7298633234562631" stroke-linecap="butt"/>
<line x1="603.0" y1="951.8" x2="698.0" y2="957.0" stroke="#1a1a1a" stroke-width="0.6206650701619566" stroke-linecap="butt"/>
<line x1="603.0" y1="953.3" x2="698.0" y2="957.0" stroke="#1a1a1a" stroke-width="0.8832371864675971" stroke-linecap="butt"/>
<line x1="603.0" y1="940.5" x2="698.0" y2="957.0" stroke="#1a1a1a" stroke-width="1.0699612683050426" stroke-linecap="butt"/>
<path d="M674.0,837.0 L703.0,816.0 L724.0,890.0 Z" fill="#f4f4f4" />
<path d="M622.0,877.0 L651.0,852.0 L686.0,896.0 Z" fill="#f6f6f6" />
<line x1="628.2" y1="870.0" x2="686.3" y2="897.0" stroke="#0b0b0b" stroke-width="1.174646835623834" stroke-linecap="butt"/>
<line x1="629.1" y1="866.1" x2="684.8" y2="896.6" stroke="#0b0b0b" stroke-width="1.3771062419268785" stroke-linecap="butt"/>
<line x1="636.2" y1="857.3" x2="685.4" y2="897.8" stroke="#0b0b0b" stroke-width="1.2197155459779783" stroke-linecap="butt"/>
<line x1="629.6" y1="864.4" x2="685.1" y2="894.7" stroke="#0b0b0b" stroke-width="1.3101387463539353" stroke-linecap="butt"/>
<line x1="634.3" y1="860.4" x2="688.4" y2="894.5" stroke="#0b0b0b" stroke-width="0.9371103463868344" stroke-linecap="butt"/>
<line x1="621.4" y1="872.8" x2="688.1" y2="896.7" stroke="#0b0b0b" stroke-width="1.1044762261419554" stroke-linecap="butt"/>
<line x1="630.3" y1="865.5" x2="688.1" y2="897.2" stroke="#0b0b0b" stroke-width="1.2868819087201433" stroke-linecap="butt"/>
<line x1="622.4" y1="869.5" x2="686.0" y2="897.6" stroke="#0b0b0b" stroke-width="1.3291709007578352" stroke-linecap="butt"/>
<line x1="638.6" y1="855.2" x2="688.3" y2="894.5" stroke="#0b0b0b" stroke-width="1.1928769604329748" stroke-linecap="butt"/>
<line x1="638.7" y1="858.0" x2="683.4" y2="896.4" stroke="#0b0b0b" stroke-width="1.2769724455203733" stroke-linecap="butt"/>
<line x1="628.6" y1="869.1" x2="683.6" y2="896.7" stroke="#0b0b0b" stroke-width="1.3823772610860983" stroke-linecap="butt"/>
<line x1="643.1" y1="853.5" x2="683.4" y2="897.4" stroke="#0b0b0b" stroke-width="0.927599429733117" stroke-linecap="butt"/>
<line x1="618.3" y1="876.2" x2="684.7" y2="894.2" stroke="#0b0b0b" stroke-width="1.011990976431756" stroke-linecap="butt"/>
<line x1="633.2" y1="862.9" x2="688.0" y2="894.4" stroke="#0b0b0b" stroke-width="0.8571296774290849" stroke-linecap="butt"/>
<line x1="692.3" y1="823.8" x2="723.4" y2="890.0" stroke="#0b0b0b" stroke-width="0.8986217820526332" stroke-linecap="butt"/>
<line x1="690.5" y1="825.1" x2="722.9" y2="890.0" stroke="#0b0b0b" stroke-width="1.176080941351391" stroke-linecap="butt"/>
<line x1="680.1" y1="832.6" x2="725.4" y2="890.0" stroke="#0b0b0b" stroke-width="1.1852369423696492" stroke-linecap="butt"/>
<line x1="689.6" y1="825.7" x2="722.1" y2="890.0" stroke="#0b0b0b" stroke-width="1.1668536700593162" stroke-linecap="butt"/>
<line x1="674.8" y1="836.4" x2="724.0" y2="890.0" stroke="#0b0b0b" stroke-width="0.9543471949148533" stroke-linecap="butt"/>
<line x1="675.8" y1="835.7" x2="724.5" y2="890.0" stroke="#0b0b0b" stroke-width="1.1347187716790423" stroke-linecap="butt"/>
<line x1="691.0" y1="824.7" x2="723.6" y2="890.0" stroke="#0b0b0b" stroke-width="1.0072519240730728" stroke-linecap="butt"/>
<line x1="691.1" y1="824.6" x2="722.9" y2="890.0" stroke="#0b0b0b" stroke-width="1.2205923388084128" stroke-linecap="butt"/>
<line x1="702.9" y1="816.1" x2="725.2" y2="890.0" stroke="#0b0b0b" stroke-width="1.2768043124595514" stroke-linecap="butt"/>
<line x1="683.6" y1="830.1" x2="725.9" y2="890.0" stroke="#0b0b0b" stroke-width="0.7428291722019367" stroke-linecap="butt"/>
<line x1="725.8" y1="913.6" x2="649.2" y2="874.3" stroke="#e0e0e0" stroke-width="1.0096009606736376" stroke-linecap="butt"/>
<line x1="711.6" y1="909.9" x2="646.5" y2="878.5" stroke="#e0e0e0" stroke-width="0.7139482726687874" stroke-linecap="butt"/>
<line x1="721.1" y1="910.1" x2="652.8" y2="874.4" stroke="#e0e0e0" stroke-width="1.0415963928285839" stroke-linecap="butt"/>
<line x1="714.2" y1="908.2" x2="651.0" y2="876.1" stroke="#e0e0e0" stroke-width="1.0222421932655545" stroke-linecap="butt"/>
<line x1="723.8" y1="908.5" x2="652.9" y2="869.5" stroke="#e0e0e0" stroke-width="1.020736397078592" stroke-linecap="butt"/>
<line x1="697.6" y1="907.7" x2="636.6" y2="880.3" stroke="#e0e0e0" stroke-width="1.1519671741396518" stroke-linecap="butt"/>
<line x1="701.5" y1="905.3" x2="648.9" y2="880.0" stroke="#e0e0e0" stroke-width="0.7233846966233022" stroke-linecap="butt"/>
<line x1="704.6" y1="894.7" x2="654.6" y2="865.9" stroke="#e0e0e0" stroke-width="0.9781132736998923" stroke-linecap="butt"/>
<line x1="710.3" y1="975.6" x2="614.3" y2="981.6" stroke="#5a5a5a" stroke-width="1.24255976469051" stroke-linecap="butt"/>
<line x1="717.4" y1="975.7" x2="614.3" y2="982.6" stroke="#2a2a2a" stroke-width="1.0486824296020953" stroke-linecap="butt"/>
<line x1="709.2" y1="982.7" x2="616.9" y2="993.7" stroke="#4a4a4a" stroke-width="0.8746899545244002" stroke-linecap="butt"/>
<line x1="698.5" y1="977.8" x2="610.9" y2="984.2" stroke="#5a5a5a" stroke-width="0.8579185898468317" stroke-linecap="butt"/>
<line x1="708.7" y1="982.6" x2="608.8" y2="994.5" stroke="#2a2a2a" stroke-width="0.889818909726874" stroke-linecap="butt"/>
<line x1="713.1" y1="978.8" x2="612.5" y2="987.9" stroke="#2a2a2a" stroke-width="1.0476712813702103" stroke-linecap="butt"/>
<line x1="715.4" y1="983.6" x2="615.6" y2="997.0" stroke="#777777" stroke-width="1.3704782291232505" stroke-linecap="butt"/>
<line x1="703.0" y1="983.0" x2="616.1" y2="993.2" stroke="#777777" stroke-width="1.4274609766078077" stroke-linecap="butt"/>
<line x1="717.9" y1="973.6" x2="613.4" y2="978.7" stroke="#777777" stroke-width="1.2097426866880505" stroke-linecap="butt"/>
<line x1="699.6" y1="973.0" x2="604.6" y2="976.6" stroke="#2a2a2a" stroke-width="0.8602315472409008" stroke-linecap="butt"/>
<line x1="705.3" y1="975.1" x2="605.6" y2="980.8" stroke="#5a5a5a" stroke-width="1.4009624796089253" stroke-linecap="butt"/>
<line x1="699.0" y1="981.4" x2="611.8" y2="990.2" stroke="#4a4a4a" stroke-width="1.2476271035733761" stroke-linecap="butt"/>
<line x1="713.5" y1="972.2" x2="611.6" y2="975.9" stroke="#2a2a2a" stroke-width="1.416417474842166" stroke-linecap="butt"/>
<line x1="716.1" y1="979.3" x2="614.9" y2="989.1" stroke="#777777" stroke-width="1.1194850616189835" stroke-linecap="butt"/>
<line x1="706.5" y1="982.5" x2="609.8" y2="993.6" stroke="#4a4a4a" stroke-width="1.4031894432713172" stroke-linecap="butt"/>
<line x1="703.3" y1="977.9" x2="608.4" y2="985.2" stroke="#777777" stroke-width="0.967852419628052" stroke-linecap="butt"/>
<line x1="708.5" y1="981.3" x2="616.0" y2="991.3" stroke="#777777" stroke-width="1.4363186646147033" stroke-linecap="butt"/>
<line x1="712.7" y1="972.9" x2="604.5" y2="977.4" stroke="#777777" stroke-width="0.9601033911364518" stroke-linecap="butt"/>
<line x1="702.0" y1="980.3" x2="614.5" y2="988.5" stroke="#2a2a2a" stroke-width="1.3169421800905774" stroke-linecap="butt"/>
<line x1="697.7" y1="976.1" x2="613.8" y2="981.2" stroke="#777777" stroke-width="0.8006618352729523" stroke-linecap="butt"/>
<line x1="712.7" y1="972.8" x2="605.1" y2="977.1" stroke="#2a2a2a" stroke-width="0.9537127647007768" stroke-linecap="butt"/>
<line x1="705.4" y1="984.9" x2="608.4" y2="997.8" stroke="#4a4a4a" stroke-width="0.9840685228178375" stroke-linecap="butt"/>
<line x1="707.9" y1="978.4" x2="605.9" y2="987.0" stroke="#2a2a2a" stroke-width="1.3316585874647424" stroke-linecap="butt"/>
<line x1="699.9" y1="975.2" x2="614.1" y2="979.9" stroke="#2a2a2a" stroke-width="1.1584885345868103" stroke-linecap="butt"/>
<line x1="697.1" y1="979.9" x2="612.6" y2="987.4" stroke="#2a2a2a" stroke-width="1.4152406022070627" stroke-linecap="butt"/>
<line x1="707.0" y1="983.6" x2="609.1" y2="995.8" stroke="#2a2a2a" stroke-width="1.1517326078797627" stroke-linecap="butt"/>
<line x1="704.3" y1="982.0" x2="610.7" y2="992.2" stroke="#2a2a2a" stroke-width="1.1199570758482156" stroke-linecap="butt"/>
<line x1="714.2" y1="979.1" x2="614.9" y2="988.4" stroke="#777777" stroke-width="1.1549059962338637" stroke-linecap="butt"/>
<line x1="702.2" y1="975.4" x2="607.7" y2="980.7" stroke="#2a2a2a" stroke-width="1.2702105514730029" stroke-linecap="butt"/>
<line x1="717.0" y1="979.4" x2="611.4" y2="989.9" stroke="#2a2a2a" stroke-width="1.2743560363786046" stroke-linecap="butt"/>
<line x1="700.1" y1="982.8" x2="608.2" y2="993.0" stroke="#5a5a5a" stroke-width="0.8709915806565304" stroke-linecap="butt"/>
<line x1="711.4" y1="975.7" x2="612.8" y2="982.0" stroke="#5a5a5a" stroke-width="1.145895139310502" stroke-linecap="butt"/>
<line x1="719.2" y1="981.1" x2="617.1" y2="992.9" stroke="#4a4a4a" stroke-width="0.8795686794669464" stroke-linecap="butt"/>
<line x1="708.5" y1="979.1" x2="612.3" y2="987.7" stroke="#4a4a4a" stroke-width="1.2277143933039778" stroke-linecap="butt"/>
<line x1="703.2" y1="984.9" x2="609.7" y2="997.3" stroke="#2a2a2a" stroke-width="1.4390095458559498" stroke-linecap="butt"/>
<line x1="718.5" y1="980.5" x2="610.0" y2="992.5" stroke="#777777" stroke-width="1.394984448237886" stroke-linecap="butt"/>
<line x1="718.2" y1="981.6" x2="611.1" y2="994.4" stroke="#5a5a5a" stroke-width="1.005356379667053" stroke-linecap="butt"/>
<line x1="713.5" y1="981.0" x2="614.2" y2="991.8" stroke="#5a5a5a" stroke-width="1.0439386086154532" stroke-linecap="butt"/>
<line x1="714.9" y1="976.8" x2="614.6" y2="984.3" stroke="#777777" stroke-width="1.4626788784400577" stroke-linecap="butt"/>
<line x1="700.4" y1="983.2" x2="606.7" y2="994.0" stroke="#5a5a5a" stroke-width="1.3268863151086492" stroke-linecap="butt"/>
<line x1="711.3" y1="993.7" x2="612.5" y2="1014.6" stroke="#dcdcdc" stroke-width="1.6" stroke-linecap="butt"/>
<line x1="740.2" y1="1045.1" x2="681.6" y2="1094.4" stroke="#bbbbbb" stroke-width="0.9725702418731459" stroke-linecap="butt"/>
<line x1="714.5" y1="1069.7" x2="686.2" y2="1094.1" stroke="#f0f0f0" stroke-width="1.316333882635854" stroke-linecap="butt"/>
<line x1="718.4" y1="1066.4" x2="684.2" y2="1096.0" stroke="#d8d8d8" stroke-width="0.7838832320891801" stroke-linecap="butt"/>
<line x1="722.9" y1="1048.0" x2="675.9" y2="1082.4" stroke="#d8d8d8" stroke-width="0.7974860844948537" stroke-linecap="butt"/>
<line x1="711.2" y1="1048.3" x2="661.7" y2="1081.2" stroke="#d8d8d8" stroke-width="1.1307253315744183" stroke-linecap="butt"/>
<line x1="727.5" y1="1059.9" x2="682.9" y2="1099.1" stroke="#bbbbbb" stroke-width="1.2051936750986578" stroke-linecap="butt"/>
<line x1="720.5" y1="1043.6" x2="660.1" y2="1084.5" stroke="#d8d8d8" stroke-width="0.7109055561679318" stroke-linecap="butt"/>
<line x1="730.1" y1="1042.9" x2="666.0" y2="1090.0" stroke="#bbbbbb" stroke-width="1.1884814169287208" stroke-linecap="butt"/>
<line x1="717.0" y1="1060.7" x2="675.9" y2="1093.9" stroke="#f0f0f0" stroke-width="1.3025061690265936" stroke-linecap="butt"/>
<line x1="700.6" y1="1061.5" x2="673.3" y2="1080.8" stroke="#bbbbbb" stroke-width="1.392993511016463" stroke-linecap="butt"/>
<line x1="698.6" y1="1060.0" x2="664.6" y2="1083.5" stroke="#bbbbbb" stroke-width="1.1729041406036695" stroke-linecap="butt"/>
<line x1="725.4" y1="1036.4" x2="662.3" y2="1076.9" stroke="#bbbbbb" stroke-width="0.7623534564014747" stroke-linecap="butt"/>
<line x1="727.3" y1="1035.2" x2="662.6" y2="1076.6" stroke="#f0f0f0" stroke-width="0.81378569339096" stroke-linecap="butt"/>
<line x1="719.1" y1="1060.2" x2="679.5" y2="1092.5" stroke="#d8d8d8" stroke-width="1.4022339181509869" stroke-linecap="butt"/>
<line x1="770.8" y1="1065.1" x2="736.9" y2="1118.9" stroke="#bbbbbb" stroke-width="1.0271544974849898" stroke-linecap="butt"/>
<line x1="748.9" y1="1099.6" x2="732.8" y2="1125.1" stroke="#d8d8d8" stroke-width="1.389046102358754" stroke-linecap="butt"/>
<line x1="757.0" y1="1094.9" x2="743.6" y2="1117.6" stroke="#f0f0f0" stroke-width="1.363009731677164" stroke-linecap="butt"/>
<line x1="766.7" y1="1068.8" x2="734.4" y2="1118.6" stroke="#bbbbbb" stroke-width="0.9684356288769786" stroke-linecap="butt"/>
<line x1="765.2" y1="1067.3" x2="727.5" y2="1123.5" stroke="#bbbbbb" stroke-width="0.8264284836199286" stroke-linecap="butt"/>
<line x1="775.7" y1="1076.6" x2="751.6" y2="1123.1" stroke="#d8d8d8" stroke-width="0.7365248629072867" stroke-linecap="butt"/>
<line x1="747.1" y1="1098.6" x2="733.9" y2="1118.8" stroke="#bbbbbb" stroke-width="1.2217822735842772" stroke-linecap="butt"/>
<line x1="779.4" y1="1066.2" x2="749.1" y2="1122.8" stroke="#f0f0f0" stroke-width="0.9146613827499718" stroke-linecap="butt"/>
<line x1="780.6" y1="1080.0" x2="758.3" y2="1128.6" stroke="#d8d8d8" stroke-width="0.8410626777312746" stroke-linecap="butt"/>
<line x1="779.6" y1="1074.9" x2="754.8" y2="1125.4" stroke="#f0f0f0" stroke-width="1.1184396604489304" stroke-linecap="butt"/>
<line x1="768.7" y1="1102.0" x2="758.4" y2="1123.8" stroke="#f0f0f0" stroke-width="1.3086378895090396" stroke-linecap="butt"/>
<line x1="769.4" y1="1069.1" x2="738.9" y2="1118.4" stroke="#d8d8d8" stroke-width="1.007344209272486" stroke-linecap="butt"/>
<circle cx="714.3" cy="856.9" r="0.76" fill="#5a5a5a"/>
<circle cx="705.4" cy="854.6" r="1.10" fill="#7a7a7a"/>
<circle cx="716.2" cy="852.7" r="0.89" fill="#5a5a5a"/>
<circle cx="724.6" cy="855.1" r="0.66" fill="#5a5a5a"/>
<circle cx="725.8" cy="857.2" r="1.15" fill="#3a3a3a"/>
<circle cx="723.7" cy="849.2" r="0.64" fill="#9a9a9a"/>
<circle cx="723.9" cy="850.4" r="0.80" fill="#5a5a5a"/>
<circle cx="706.4" cy="850.2" r="1.05" fill="#3a3a3a"/>
<circle cx="708.2" cy="857.4" r="0.91" fill="#7a7a7a"/>
<circle cx="727.5" cy="853.1" r="0.79" fill="#5a5a5a"/>
<circle cx="706.9" cy="850.7" r="1.15" fill="#3a3a3a"/>
<circle cx="739.9" cy="849.3" r="1.08" fill="#9a9a9a"/>
<circle cx="707.6" cy="850.8" r="1.07" fill="#5a5a5a"/>
<circle cx="708.6" cy="857.8" r="0.89" fill="#7a7a7a"/>
<circle cx="726.9" cy="854.3" r="1.09" fill="#5a5a5a"/>
<circle cx="733.2" cy="854.9" r="0.62" fill="#7a7a7a"/>
<circle cx="739.3" cy="854.6" r="0.68" fill="#9a9a9a"/>
<circle cx="709.8" cy="856.0" r="1.17" fill="#5a5a5a"/>
<circle cx="743.3" cy="851.7" r="1.14" fill="#7a7a7a"/>
<circle cx="735.9" cy="848.2" r="0.88" fill="#5a5a5a"/>
<circle cx="724.1" cy="856.5" r="0.77" fill="#7a7a7a"/>
<circle cx="742.4" cy="851.0" r="0.79" fill="#7a7a7a"/>
<circle cx="747.2" cy="852.0" r="1.01" fill="#5a5a5a"/>
<circle cx="719.9" cy="852.8" r="0.64" fill="#9a9a9a"/>
<circle cx="727.0" cy="857.5" r="0.90" fill="#7a7a7a"/>
<circle cx="732.2" cy="850.2" r="1.10" fill="#7a7a7a"/>
<circle cx="717.6" cy="855.8" r="0.76" fill="#9a9a9a"/>
<circle cx="704.5" cy="849.8" r="0.85" fill="#5a5a5a"/>
<circle cx="729.7" cy="855.7" r="0.74" fill="#5a5a5a"/>
<circle cx="710.3" cy="856.1" r="0.96" fill="#3a3a3a"/>
<circle cx="729.4" cy="855.1" r="0.68" fill="#7a7a7a"/>
<circle cx="729.4" cy="850.7" r="0.85" fill="#7a7a7a"/>
<circle cx="749.9" cy="849.4" r="0.79" fill="#5a5a5a"/>
<circle cx="710.9" cy="852.2" r="0.65" fill="#3a3a3a"/>
<circle cx="740.1" cy="850.5" r="0.94" fill="#7a7a7a"/>
<circle cx="743.4" cy="857.6" r="0.76" fill="#3a3a3a"/>
<circle cx="707.5" cy="852.4" r="1.09" fill="#5a5a5a"/>
<circle cx="745.5" cy="848.7" r="1.05" fill="#7a7a7a"/>
<circle cx="743.9" cy="852.2" r="0.92" fill="#9a9a9a"/>
<circle cx="740.9" cy="854.5" r="0.91" fill="#5a5a5a"/>
<circle cx="724.0" cy="853.0" r="0.92" fill="#9a9a9a"/>
<circle cx="745.2" cy="857.6" r="0.72" fill="#5a5a5a"/>
<circle cx="730.8" cy="850.5" r="0.83" fill="#9a9a9a"/>
<circle cx="733.2" cy="852.1" r="1.17" fill="#9a9a9a"/>
<circle cx="734.8" cy="848.7" r="1.04" fill="#3a3a3a"/>
<circle cx="713.0" cy="851.3" r="1.15" fill="#3a3a3a"/>
<circle cx="725.3" cy="854.8" r="1.03" fill="#7a7a7a"/>
<circle cx="724.9" cy="851.2" r="1.18" fill="#3a3a3a"/>
<circle cx="707.2" cy="857.7" r="0.93" fill="#3a3a3a"/>
<circle cx="748.2" cy="857.0" r="0.74" fill="#9a9a9a"/>
<circle cx="720.9" cy="852.9" r="0.82" fill="#7a7a7a"/>
<circle cx="733.1" cy="856.8" r="0.67" fill="#7a7a7a"/>
<circle cx="787.2" cy="870.0" r="0.99" fill="#3a3a3a"/>
<circle cx="774.5" cy="874.3" r="0.95" fill="#9a9a9a"/>
<circle cx="764.5" cy="871.9" r="0.79" fill="#3a3a3a"/>
<circle cx="779.1" cy="870.8" r="1.07" fill="#3a3a3a"/>
<circle cx="765.5" cy="874.5" r="1.06" fill="#7a7a7a"/>
<circle cx="776.7" cy="871.2" r="1.18" fill="#7a7a7a"/>
<circle cx="765.5" cy="873.1" r="0.99" fill="#7a7a7a"/>
<circle cx="784.5" cy="869.8" r="1.11" fill="#5a5a5a"/>
<circle cx="758.3" cy="862.2" r="0.92" fill="#9a9a9a"/>
<circle cx="751.2" cy="872.4" r="1.10" fill="#5a5a5a"/>
<circle cx="779.2" cy="862.1" r="0.74" fill="#9a9a9a"/>
<circle cx="787.8" cy="872.2" r="0.74" fill="#5a5a5a"/>
<circle cx="754.8" cy="874.1" r="1.18" fill="#7a7a7a"/>
<circle cx="769.7" cy="863.0" r="0.81" fill="#9a9a9a"/>
<circle cx="767.5" cy="868.2" r="0.76" fill="#5a5a5a"/>
<circle cx="788.9" cy="865.4" r="0.76" fill="#5a5a5a"/>
<circle cx="776.2" cy="871.1" r="0.76" fill="#9a9a9a"/>
<circle cx="764.4" cy="868.4" r="0.71" fill="#5a5a5a"/>
<circle cx="781.6" cy="872.9" r="0.85" fill="#9a9a9a"/>
<circle cx="780.1" cy="865.0" r="1.08" fill="#3a3a3a"/>
<circle cx="754.0" cy="869.6" r="0.71" fill="#3a3a3a"/>
<circle cx="783.8" cy="872.3" r="0.74" fill="#5a5a5a"/>
<circle cx="784.6" cy="868.1" r="0.86" fill="#5a5a5a"/>
<circle cx="758.1" cy="869.6" r="0.66" fill="#3a3a3a"/>
<circle cx="760.1" cy="865.4" r="0.85" fill="#9a9a9a"/>
<circle cx="780.4" cy="862.4" r="1.03" fill="#7a7a7a"/>
<circle cx="771.5" cy="864.7" r="1.03" fill="#3a3a3a"/>
<circle cx="775.8" cy="873.7" r="0.72" fill="#9a9a9a"/>
<circle cx="791.8" cy="873.7" r="0.68" fill="#5a5a5a"/>
<circle cx="759.5" cy="872.0" r="1.10" fill="#9a9a9a"/>
<circle cx="766.7" cy="868.8" r="0.78" fill="#9a9a9a"/>
<circle cx="753.7" cy="862.6" r="0.91" fill="#7a7a7a"/>
<circle cx="757.4" cy="870.2" r="0.75" fill="#5a5a5a"/>
<circle cx="758.3" cy="863.6" r="0.90" fill="#9a9a9a"/>
<circle cx="778.8" cy="868.2" r="0.79" fill="#5a5a5a"/>
<circle cx="754.5" cy="862.9" r="0.83" fill="#3a3a3a"/>
<circle cx="752.8" cy="872.4" r="0.91" fill="#3a3a3a"/>
<circle cx="763.4" cy="868.2" r="1.03" fill="#9a9a9a"/>
<circle cx="772.5" cy="872.1" r="1.03" fill="#9a9a9a"/>
<circle cx="776.0" cy="863.4" r="0.87" fill="#9a9a9a"/>
<circle cx="755.6" cy="873.2" r="1.17" fill="#7a7a7a"/>
<circle cx="752.7" cy="870.9" r="0.62" fill="#5a5a5a"/>
<circle cx="785.8" cy="870.6" r="0.80" fill="#5a5a5a"/>
<circle cx="756.1" cy="871.1" r="1.03" fill="#5a5a5a"/>
<circle cx="751.3" cy="873.8" r="1.00" fill="#5a5a5a"/>
<circle cx="779.4" cy="866.1" r="1.09" fill="#3a3a3a"/>
<circle cx="757.1" cy="864.3" r="1.06" fill="#3a3a3a"/>
<circle cx="779.7" cy="866.7" r="1.13" fill="#3a3a3a"/>
<circle cx="790.8" cy="863.5" r="0.76" fill="#3a3a3a"/>
<circle cx="769.9" cy="874.4" r="0.96" fill="#9a9a9a"/>
<circle cx="781.9" cy="867.1" r="0.72" fill="#7a7a7a"/>
<circle cx="781.5" cy="873.9" r="0.89" fill="#9a9a9a"/>
<circle cx="783.7" cy="862.4" r="0.91" fill="#7a7a7a"/>
<circle cx="791.0" cy="870.0" r="0.79" fill="#9a9a9a"/>
<circle cx="778.7" cy="870.6" r="0.63" fill="#5a5a5a"/>
<circle cx="786.2" cy="869.5" r="0.61" fill="#9a9a9a"/>
<circle cx="775.5" cy="873.7" r="1.17" fill="#9a9a9a"/>
<circle cx="759.6" cy="866.1" r="1.13" fill="#9a9a9a"/>
<circle cx="762.7" cy="870.0" r="0.84" fill="#9a9a9a"/>
<circle cx="754.6" cy="865.0" r="1.15" fill="#3a3a3a"/>
<circle cx="672.7" cy="903.1" r="0.94" fill="#7a7a7a"/>
<circle cx="674.5" cy="901.0" r="0.63" fill="#7a7a7a"/>
<circle cx="672.6" cy="903.8" r="0.75" fill="#9a9a9a"/>
<circle cx="661.4" cy="904.3" r="0.68" fill="#9a9a9a"/>
<circle cx="670.1" cy="890.9" r="1.14" fill="#7a7a7a"/>
<circle cx="675.4" cy="904.9" r="0.68" fill="#5a5a5a"/>
<circle cx="673.8" cy="904.3" r="1.19" fill="#9a9a9a"/>
<circle cx="664.1" cy="897.9" r="1.05" fill="#7a7a7a"/>
<circle cx="671.9" cy="896.1" r="0.64" fill="#5a5a5a"/>
<circle cx="659.8" cy="890.4" r="1.08" fill="#7a7a7a"/>
<circle cx="661.1" cy="900.5" r="0.90" fill="#5a5a5a"/>
<circle cx="656.0" cy="897.9" r="0.84" fill="#3a3a3a"/>
<circle cx="678.6" cy="895.3" r="0.98" fill="#3a3a3a"/>
<circle cx="659.6" cy="895.9" r="1.10" fill="#9a9a9a"/>
<circle cx="667.2" cy="891.8" r="0.95" fill="#5a5a5a"/>
<circle cx="664.5" cy="897.1" r="1.13" fill="#7a7a7a"/>
<circle cx="656.2" cy="896.2" r="0.82" fill="#5a5a5a"/>
<circle cx="669.6" cy="899.7" r="0.88" fill="#3a3a3a"/>
<circle cx="650.7" cy="892.2" r="1.20" fill="#7a7a7a"/>
<circle cx="665.7" cy="903.9" r="1.07" fill="#9a9a9a"/>
<circle cx="653.0" cy="903.5" r="0.96" fill="#5a5a5a"/>
<circle cx="656.6" cy="905.0" r="1.20" fill="#3a3a3a"/>
<circle cx="654.7" cy="900.8" r="0.65" fill="#3a3a3a"/>
<circle cx="656.1" cy="895.1" r="0.80" fill="#7a7a7a"/>
<circle cx="664.7" cy="902.8" r="0.61" fill="#7a7a7a"/>
<circle cx="668.1" cy="896.4" r="1.10" fill="#7a7a7a"/>
<circle cx="655.5" cy="905.5" r="0.93" fill="#5a5a5a"/>
<circle cx="676.1" cy="896.1" r="1.15" fill="#7a7a7a"/>
<circle cx="665.1" cy="905.3" r="1.11" fill="#7a7a7a"/>
<circle cx="665.3" cy="905.9" r="0.94" fill="#7a7a7a"/>
<circle cx="654.6" cy="897.5" r="0.62" fill="#7a7a7a"/>
<circle cx="668.1" cy="894.4" r="0.77" fill="#3a3a3a"/>
<circle cx="656.5" cy="900.7" r="0.63" fill="#5a5a5a"/>
<circle cx="674.1" cy="905.4" r="0.70" fill="#7a7a7a"/>
<circle cx="666.2" cy="893.9" r="1.09" fill="#7a7a7a"/>
<circle cx="668.1" cy="905.4" r="0.72" fill="#5a5a5a"/>
<circle cx="672.5" cy="902.1" r="1.03" fill="#9a9a9a"/>
<circle cx="675.1" cy="897.2" r="0.91" fill="#3a3a3a"/>
<circle cx="678.3" cy="897.5" r="0.65" fill="#5a5a5a"/>
<circle cx="676.9" cy="899.5" r="0.85" fill="#9a9a9a"/>
<circle cx="663.8" cy="900.9" r="1.20" fill="#9a9a9a"/>
<circle cx="662.2" cy="902.3" r="1.20" fill="#7a7a7a"/>
<circle cx="654.8" cy="897.0" r="0.97" fill="#9a9a9a"/>
<circle cx="659.3" cy="900.8" r="0.87" fill="#7a7a7a"/>
<circle cx="655.8" cy="895.4" r="0.90" fill="#7a7a7a"/>
<circle cx="662.5" cy="904.3" r="1.06" fill="#3a3a3a"/>
<circle cx="664.2" cy="894.7" r="0.91" fill="#3a3a3a"/>
<circle cx="667.8" cy="892.5" r="0.70" fill="#5a5a5a"/>
<circle cx="660.6" cy="896.5" r="0.64" fill="#5a5a5a"/>
<circle cx="660.6" cy="897.2" r="0.81" fill="#3a3a3a"/>
<circle cx="669.4" cy="897.9" r="1.10" fill="#5a5a5a"/>
<circle cx="651.2" cy="903.3" r="0.89" fill="#3a3a3a"/>
<circle cx="678.6" cy="900.5" r="0.69" fill="#5a5a5a"/>
<circle cx="678.5" cy="892.5" r="0.82" fill="#3a3a3a"/>
<circle cx="673.7" cy="900.0" r="1.01" fill="#9a9a9a"/>
<circle cx="674.0" cy="892.7" r="0.93" fill="#7a7a7a"/>
<circle cx="712.9" cy="920.7" r="1.14" fill="#5a5a5a"/>
<circle cx="727.7" cy="934.1" r="0.86" fill="#9a9a9a"/>
<circle cx="716.4" cy="935.9" r="0.81" fill="#9a9a9a"/>
<circle cx="728.8" cy="927.5" r="0.80" fill="#3a3a3a"/>
<circle cx="727.4" cy="929.3" r="1.11" fill="#5a5a5a"/>
<circle cx="716.7" cy="925.8" r="0.82" fill="#5a5a5a"/>
<circle cx="712.4" cy="924.6" r="1.09" fill="#7a7a7a"/>
<circle cx="742.3" cy="925.5" r="0.65" fill="#7a7a7a"/>
<circle cx="702.7" cy="934.1" r="0.69" fill="#7a7a7a"/>
<circle cx="709.9" cy="926.7" r="0.67" fill="#5a5a5a"/>
<circle cx="742.6" cy="929.0" r="1.15" fill="#5a5a5a"/>
<circle cx="734.8" cy="921.0" r="1.10" fill="#5a5a5a"/>
<circle cx="733.7" cy="935.2" r="0.83" fill="#5a5a5a"/>
<circle cx="728.3" cy="932.2" r="0.71" fill="#7a7a7a"/>
<circle cx="744.0" cy="918.8" r="0.63" fill="#5a5a5a"/>
<circle cx="701.8" cy="924.6" r="1.02" fill="#7a7a7a"/>
<circle cx="705.1" cy="921.2" r="0.71" fill="#9a9a9a"/>
<circle cx="730.3" cy="937.4" r="0.82" fill="#3a3a3a"/>
<circle cx="714.6" cy="926.2" r="0.87" fill="#3a3a3a"/>
<circle cx="743.9" cy="937.9" r="1.02" fill="#7a7a7a"/>
<circle cx="707.5" cy="935.9" r="1.08" fill="#5a5a5a"/>
<circle cx="720.0" cy="930.4" r="1.14" fill="#3a3a3a"/>
<circle cx="724.6" cy="935.7" r="0.61" fill="#3a3a3a"/>
<circle cx="739.7" cy="930.0" r="0.80" fill="#3a3a3a"/>
<circle cx="723.0" cy="920.9" r="0.63" fill="#7a7a7a"/>
<circle cx="722.4" cy="931.8" r="0.69" fill="#5a5a5a"/>
<circle cx="722.5" cy="936.5" r="1.02" fill="#5a5a5a"/>
<circle cx="738.0" cy="925.2" r="1.02" fill="#7a7a7a"/>
<circle cx="725.6" cy="932.6" r="0.85" fill="#3a3a3a"/>
<circle cx="743.0" cy="936.6" r="0.97" fill="#9a9a9a"/>
<circle cx="740.3" cy="921.8" r="1.20" fill="#7a7a7a"/>
<circle cx="735.6" cy="933.8" r="1.09" fill="#9a9a9a"/>
<circle cx="714.3" cy="933.2" r="0.76" fill="#9a9a9a"/>
<circle cx="707.1" cy="935.2" r="0.89" fill="#9a9a9a"/>
<circle cx="738.6" cy="937.8" r="0.90" fill="#5a5a5a"/>
<circle cx="706.7" cy="933.2" r="0.94" fill="#9a9a9a"/>
<circle cx="726.4" cy="926.5" r="1.16" fill="#5a5a5a"/>
<circle cx="726.5" cy="920.7" r="0.83" fill="#5a5a5a"/>
<circle cx="727.3" cy="926.7" r="1.13" fill="#9a9a9a"/>
<circle cx="703.7" cy="927.0" r="0.82" fill="#5a5a5a"/>
<circle cx="722.2" cy="932.4" r="0.73" fill="#9a9a9a"/>
<circle cx="712.5" cy="925.4" r="1.15" fill="#3a3a3a"/>
<circle cx="734.6" cy="931.9" r="0.99" fill="#9a9a9a"/>
<circle cx="720.5" cy="935.3" r="0.84" fill="#3a3a3a"/>
<circle cx="743.1" cy="918.9" r="1.10" fill="#9a9a9a"/>
<circle cx="702.4" cy="937.8" r="0.92" fill="#7a7a7a"/>
<circle cx="715.8" cy="935.0" r="1.11" fill="#9a9a9a"/>
<circle cx="736.7" cy="918.7" r="0.89" fill="#5a5a5a"/>
<circle cx="703.7" cy="933.8" r="1.13" fill="#7a7a7a"/>
<circle cx="720.9" cy="927.4" r="1.03" fill="#9a9a9a"/>
<circle cx="715.4" cy="936.7" r="0.71" fill="#7a7a7a"/>
<circle cx="729.0" cy="933.2" r="0.99" fill="#9a9a9a"/>
<circle cx="715.1" cy="921.3" r="1.16" fill="#3a3a3a"/>
<circle cx="738.6" cy="922.5" r="0.76" fill="#5a5a5a"/>
<circle cx="710.0" cy="936.1" r="0.97" fill="#5a5a5a"/>
<circle cx="728.4" cy="928.7" r="1.11" fill="#3a3a3a"/>
<circle cx="709.6" cy="926.3" r="0.88" fill="#9a9a9a"/>
<circle cx="730.7" cy="932.9" r="0.74" fill="#3a3a3a"/>
<circle cx="721.6" cy="928.6" r="0.72" fill="#9a9a9a"/>
<circle cx="707.2" cy="931.7" r="0.93" fill="#3a3a3a"/>
<circle cx="740.0" cy="936.3" r="1.14" fill="#3a3a3a"/>
<circle cx="722.2" cy="923.4" r="0.82" fill="#3a3a3a"/>
<circle cx="734.3" cy="929.8" r="0.70" fill="#5a5a5a"/>
<circle cx="716.5" cy="937.2" r="1.19" fill="#7a7a7a"/>
<circle cx="722.4" cy="923.7" r="0.80" fill="#7a7a7a"/>
<circle cx="714.1" cy="918.6" r="0.72" fill="#5a5a5a"/>
<circle cx="743.1" cy="927.1" r="0.82" fill="#9a9a9a"/>
<circle cx="721.6" cy="936.6" r="0.72" fill="#7a7a7a"/>
<circle cx="716.2" cy="930.1" r="0.78" fill="#7a7a7a"/>
<circle cx="731.9" cy="929.7" r="0.85" fill="#7a7a7a"/>
<circle cx="724.9" cy="922.1" r="0.90" fill="#5a5a5a"/>
<circle cx="733.9" cy="922.7" r="0.67" fill="#9a9a9a"/>
<circle cx="741.7" cy="937.8" r="1.01" fill="#5a5a5a"/>
<circle cx="712.0" cy="937.5" r="0.65" fill="#9a9a9a"/>
<circle cx="714.1" cy="929.4" r="0.61" fill="#3a3a3a"/>
<circle cx="715.8" cy="932.2" r="0.92" fill="#7a7a7a"/>
<circle cx="700.6" cy="922.1" r="0.71" fill="#7a7a7a"/>
<circle cx="704.6" cy="936.6" r="0.76" fill="#9a9a9a"/>
<circle cx="730.4" cy="925.7" r="1.20" fill="#5a5a5a"/>
<circle cx="703.0" cy="934.6" r="1.19" fill="#5a5a5a"/>
<circle cx="737.3" cy="935.8" r="0.91" fill="#3a3a3a"/>
<circle cx="716.4" cy="931.2" r="1.17" fill="#5a5a5a"/>
<circle cx="744.7" cy="930.5" r="0.99" fill="#7a7a7a"/>
<circle cx="716.7" cy="925.3" r="0.68" fill="#9a9a9a"/>
<circle cx="711.5" cy="920.8" r="0.69" fill="#7a7a7a"/>
<circle cx="705.0" cy="933.9" r="0.67" fill="#9a9a9a"/>
<circle cx="722.6" cy="929.5" r="0.94" fill="#3a3a3a"/>
<circle cx="720.8" cy="933.0" r="1.04" fill="#7a7a7a"/>
<circle cx="719.0" cy="922.7" r="1.05" fill="#7a7a7a"/>
<circle cx="740.3" cy="925.1" r="1.06" fill="#3a3a3a"/>
<circle cx="726.5" cy="926.6" r="0.89" fill="#5a5a5a"/>
<circle cx="710.0" cy="931.4" r="1.10" fill="#3a3a3a"/>
<circle cx="744.5" cy="922.8" r="0.62" fill="#7a7a7a"/>
<circle cx="708.9" cy="923.2" r="1.06" fill="#5a5a5a"/>
<circle cx="715.2" cy="919.6" r="1.05" fill="#5a5a5a"/>
<circle cx="723.0" cy="936.7" r="0.75" fill="#7a7a7a"/>
<circle cx="707.7" cy="926.6" r="1.16" fill="#5a5a5a"/>
<circle cx="731.8" cy="926.6" r="0.70" fill="#5a5a5a"/>
<circle cx="722.4" cy="937.8" r="1.04" fill="#7a7a7a"/>
<circle cx="736.8" cy="933.8" r="0.77" fill="#5a5a5a"/>
<circle cx="769.4" cy="946.3" r="1.05" fill="#7a7a7a"/>
<circle cx="777.0" cy="947.2" r="1.00" fill="#3a3a3a"/>
<circle cx="766.1" cy="950.9" r="0.74" fill="#3a3a3a"/>
<circle cx="755.2" cy="947.9" r="0.84" fill="#7a7a7a"/>
<circle cx="772.5" cy="952.0" r="0.77" fill="#9a9a9a"/>
<circle cx="769.4" cy="948.5" r="1.00" fill="#7a7a7a"/>
<circle cx="756.6" cy="950.4" r="1.11" fill="#5a5a5a"/>
<circle cx="761.7" cy="945.9" r="0.93" fill="#9a9a9a"/>
<circle cx="794.6" cy="946.3" r="0.90" fill="#3a3a3a"/>
<circle cx="765.9" cy="946.3" r="1.15" fill="#3a3a3a"/>
<circle cx="767.6" cy="957.1" r="1.09" fill="#3a3a3a"/>
<circle cx="760.5" cy="945.9" r="0.86" fill="#5a5a5a"/>
<circle cx="785.0" cy="952.5" r="1.19" fill="#5a5a5a"/>
<circle cx="788.9" cy="955.3" r="0.64" fill="#9a9a9a"/>
<circle cx="765.3" cy="947.9" r="1.17" fill="#9a9a9a"/>
<circle cx="770.0" cy="954.0" r="0.82" fill="#9a9a9a"/>
<circle cx="762.0" cy="950.7" r="0.71" fill="#7a7a7a"/>
<circle cx="758.9" cy="954.4" r="1.12" fill="#7a7a7a"/>
<circle cx="783.3" cy="948.4" r="0.67" fill="#3a3a3a"/>
<circle cx="759.0" cy="947.9" r="0.69" fill="#9a9a9a"/>
<circle cx="758.6" cy="949.0" r="0.95" fill="#3a3a3a"/>
<circle cx="796.7" cy="953.4" r="1.17" fill="#7a7a7a"/>
<circle cx="768.4" cy="947.7" r="1.04" fill="#7a7a7a"/>
<circle cx="771.1" cy="951.6" r="0.95" fill="#7a7a7a"/>
<circle cx="781.6" cy="953.6" r="0.68" fill="#5a5a5a"/>
<circle cx="773.0" cy="953.6" r="0.71" fill="#9a9a9a"/>
<circle cx="766.9" cy="955.0" r="1.02" fill="#9a9a9a"/>
<circle cx="777.2" cy="948.2" r="1.16" fill="#3a3a3a"/>
<circle cx="778.4" cy="948.8" r="1.10" fill="#5a5a5a"/>
<circle cx="790.2" cy="951.3" r="1.04" fill="#7a7a7a"/>
<circle cx="786.4" cy="956.2" r="1.03" fill="#3a3a3a"/>
<circle cx="770.5" cy="954.8" r="1.04" fill="#7a7a7a"/>
<circle cx="790.5" cy="957.8" r="0.86" fill="#9a9a9a"/>
<circle cx="782.3" cy="954.0" r="0.76" fill="#5a5a5a"/>
<circle cx="769.7" cy="950.3" r="0.86" fill="#9a9a9a"/>
<circle cx="789.6" cy="948.0" r="0.80" fill="#5a5a5a"/>
<circle cx="785.9" cy="954.6" r="0.71" fill="#5a5a5a"/>
<circle cx="770.9" cy="948.5" r="0.89" fill="#7a7a7a"/>
<circle cx="793.5" cy="956.0" r="1.12" fill="#3a3a3a"/>
<circle cx="767.4" cy="947.0" r="0.69" fill="#7a7a7a"/>
<circle cx="785.6" cy="949.6" r="0.64" fill="#7a7a7a"/>
<circle cx="769.3" cy="956.1" r="1.13" fill="#3a3a3a"/>
<circle cx="773.2" cy="947.0" r="1.07" fill="#5a5a5a"/>
<circle cx="759.8" cy="948.5" r="0.91" fill="#9a9a9a"/>
<circle cx="797.4" cy="950.1" r="0.71" fill="#5a5a5a"/>
<circle cx="786.6" cy="946.5" r="0.79" fill="#7a7a7a"/>
<circle cx="784.2" cy="953.1" r="0.71" fill="#5a5a5a"/>
<circle cx="779.9" cy="952.4" r="0.74" fill="#5a5a5a"/>
<circle cx="763.6" cy="956.1" r="1.15" fill="#7a7a7a"/>
<circle cx="775.3" cy="955.0" r="1.13" fill="#5a5a5a"/>
<circle cx="756.6" cy="949.2" r="0.99" fill="#5a5a5a"/>
<circle cx="776.9" cy="946.6" r="0.73" fill="#9a9a9a"/>
<circle cx="797.7" cy="956.9" r="0.61" fill="#7a7a7a"/>
<circle cx="760.0" cy="957.8" r="0.74" fill="#3a3a3a"/>
<circle cx="765.5" cy="952.6" r="0.83" fill="#5a5a5a"/>
<circle cx="777.3" cy="952.2" r="0.78" fill="#3a3a3a"/>
<circle cx="788.4" cy="951.2" r="1.19" fill="#5a5a5a"/>
<circle cx="783.5" cy="951.0" r="0.96" fill="#7a7a7a"/>
<circle cx="788.5" cy="955.9" r="0.93" fill="#3a3a3a"/>
<circle cx="761.9" cy="957.4" r="1.19" fill="#3a3a3a"/>
<circle cx="795.4" cy="956.4" r="0.79" fill="#7a7a7a"/>
<circle cx="784.8" cy="945.9" r="1.14" fill="#7a7a7a"/>
<circle cx="616.6" cy="972.2" r="0.90" fill="#9a9a9a"/>
<circle cx="630.9" cy="971.2" r="0.82" fill="#7a7a7a"/>
<circle cx="609.6" cy="973.3" r="0.67" fill="#9a9a9a"/>
<circle cx="629.4" cy="969.5" r="1.13" fill="#9a9a9a"/>
<circle cx="629.0" cy="974.2" r="0.94" fill="#9a9a9a"/>
<circle cx="614.4" cy="968.0" r="1.17" fill="#9a9a9a"/>
<circle cx="628.9" cy="971.4" r="1.19" fill="#9a9a9a"/>
<circle cx="610.6" cy="975.1" r="0.67" fill="#7a7a7a"/>
<circle cx="617.9" cy="978.5" r="0.82" fill="#3a3a3a"/>
<circle cx="607.1" cy="979.0" r="0.72" fill="#3a3a3a"/>
<circle cx="616.4" cy="970.1" r="0.70" fill="#3a3a3a"/>
<circle cx="611.3" cy="978.0" r="1.09" fill="#5a5a5a"/>
<circle cx="607.7" cy="969.6" r="1.18" fill="#3a3a3a"/>
<circle cx="624.6" cy="973.0" r="0.88" fill="#7a7a7a"/>
<circle cx="621.1" cy="967.8" r="0.70" fill="#7a7a7a"/>
<circle cx="613.7" cy="974.7" r="0.68" fill="#7a7a7a"/>
<circle cx="624.1" cy="977.4" r="0.77" fill="#7a7a7a"/>
<circle cx="625.6" cy="975.8" r="0.67" fill="#9a9a9a"/>
<circle cx="615.0" cy="975.1" r="0.93" fill="#7a7a7a"/>
<circle cx="624.5" cy="975.9" r="0.79" fill="#7a7a7a"/>
<circle cx="626.6" cy="971.4" r="0.87" fill="#7a7a7a"/>
<circle cx="628.4" cy="974.8" r="0.66" fill="#5a5a5a"/>
<circle cx="622.4" cy="975.3" r="0.91" fill="#7a7a7a"/>
<circle cx="614.0" cy="977.1" r="0.71" fill="#5a5a5a"/>
<circle cx="607.4" cy="977.7" r="0.86" fill="#3a3a3a"/>
<circle cx="620.9" cy="977.3" r="0.72" fill="#9a9a9a"/>
<circle cx="622.7" cy="968.6" r="0.82" fill="#5a5a5a"/>
<circle cx="607.6" cy="975.6" r="0.63" fill="#9a9a9a"/>
<circle cx="624.5" cy="970.6" r="1.04" fill="#5a5a5a"/>
<circle cx="629.6" cy="978.9" r="0.86" fill="#9a9a9a"/>
<circle cx="621.4" cy="967.1" r="0.64" fill="#9a9a9a"/>
<circle cx="612.9" cy="968.1" r="1.16" fill="#3a3a3a"/>
<circle cx="622.9" cy="977.3" r="0.69" fill="#3a3a3a"/>
<circle cx="616.8" cy="976.7" r="1.10" fill="#7a7a7a"/>
<circle cx="652.9" cy="980.9" r="1.10" fill="#7a7a7a"/>
<circle cx="648.7" cy="972.1" r="0.63" fill="#5a5a5a"/>
<circle cx="651.1" cy="985.1" r="0.82" fill="#9a9a9a"/>
<circle cx="659.0" cy="966.5" r="1.05" fill="#9a9a9a"/>
<circle cx="656.2" cy="969.2" r="0.90" fill="#3a3a3a"/>
<circle cx="649.4" cy="981.3" r="0.86" fill="#7a7a7a"/>
<circle cx="658.2" cy="976.1" r="1.07" fill="#7a7a7a"/>
<circle cx="663.3" cy="971.0" r="0.94" fill="#5a5a5a"/>
<circle cx="652.4" cy="973.0" r="0.67" fill="#9a9a9a"/>
<circle cx="655.6" cy="977.6" r="0.73" fill="#3a3a3a"/>
<circle cx="667.6" cy="983.4" r="0.78" fill="#7a7a7a"/>
<circle cx="660.5" cy="978.0" r="0.98" fill="#7a7a7a"/>
<circle cx="664.6" cy="969.4" r="1.00" fill="#5a5a5a"/>
<circle cx="667.0" cy="979.6" r="1.09" fill="#3a3a3a"/>
<circle cx="668.4" cy="980.3" r="0.86" fill="#5a5a5a"/>
<circle cx="649.4" cy="969.4" r="1.14" fill="#9a9a9a"/>
<circle cx="651.2" cy="983.3" r="0.83" fill="#7a7a7a"/>
<circle cx="647.8" cy="980.4" r="1.10" fill="#7a7a7a"/>
<circle cx="658.3" cy="976.8" r="0.86" fill="#3a3a3a"/>
<circle cx="668.4" cy="966.3" r="1.16" fill="#7a7a7a"/>
<circle cx="657.4" cy="983.8" r="0.99" fill="#5a5a5a"/>
<circle cx="660.1" cy="970.4" r="1.07" fill="#9a9a9a"/>
<circle cx="662.7" cy="977.9" r="1.16" fill="#7a7a7a"/>
<circle cx="663.2" cy="973.4" r="0.89" fill="#5a5a5a"/>
<circle cx="672.5" cy="969.2" r="0.78" fill="#9a9a9a"/>
<circle cx="660.4" cy="980.7" r="0.66" fill="#5a5a5a"/>
<circle cx="650.5" cy="970.1" r="0.75" fill="#5a5a5a"/>
<circle cx="652.4" cy="969.6" r="0.60" fill="#3a3a3a"/>
<circle cx="651.2" cy="970.9" r="1.13" fill="#3a3a3a"/>
<circle cx="648.2" cy="970.5" r="0.60" fill="#9a9a9a"/>
<circle cx="666.0" cy="975.0" r="0.89" fill="#5a5a5a"/>
<circle cx="672.9" cy="970.2" r="0.62" fill="#3a3a3a"/>
<circle cx="656.5" cy="984.6" r="0.84" fill="#9a9a9a"/>
<circle cx="656.7" cy="978.4" r="1.08" fill="#3a3a3a"/>
<circle cx="663.9" cy="977.7" r="0.92" fill="#3a3a3a"/>
<circle cx="652.7" cy="982.6" r="1.14" fill="#3a3a3a"/>
<circle cx="650.9" cy="967.0" r="0.73" fill="#7a7a7a"/>
<circle cx="672.9" cy="976.2" r="0.67" fill="#9a9a9a"/>
<circle cx="670.2" cy="974.6" r="0.61" fill="#9a9a9a"/>
<circle cx="662.6" cy="978.6" r="1.11" fill="#3a3a3a"/>
<circle cx="667.9" cy="983.5" r="0.86" fill="#7a7a7a"/>
<circle cx="649.0" cy="973.9" r="0.60" fill="#9a9a9a"/>
<circle cx="645.6" cy="974.8" r="0.79" fill="#7a7a7a"/>
<circle cx="654.4" cy="968.6" r="1.00" fill="#9a9a9a"/>
<circle cx="646.2" cy="971.9" r="1.08" fill="#7a7a7a"/>
<circle cx="648.2" cy="980.6" r="0.64" fill="#9a9a9a"/>
<circle cx="645.7" cy="980.5" r="0.82" fill="#7a7a7a"/>
<circle cx="662.3" cy="978.7" r="1.04" fill="#5a5a5a"/>
<circle cx="648.3" cy="975.3" r="0.89" fill="#3a3a3a"/>
<circle cx="655.7" cy="974.7" r="0.74" fill="#7a7a7a"/>
<circle cx="654.0" cy="978.9" r="1.10" fill="#3a3a3a"/>
<circle cx="659.5" cy="977.1" r="1.10" fill="#5a5a5a"/>
<circle cx="663.2" cy="971.3" r="1.15" fill="#7a7a7a"/>
<circle cx="657.3" cy="981.3" r="0.77" fill="#7a7a7a"/>
<circle cx="661.9" cy="969.4" r="0.69" fill="#9a9a9a"/>
<circle cx="670.1" cy="970.8" r="0.94" fill="#3a3a3a"/>
<circle cx="647.3" cy="978.3" r="1.00" fill="#9a9a9a"/>
<circle cx="670.5" cy="974.8" r="1.06" fill="#5a5a5a"/>
<circle cx="670.9" cy="968.2" r="0.78" fill="#5a5a5a"/>
<circle cx="667.7" cy="973.3" r="1.08" fill="#5a5a5a"/>
<circle cx="645.4" cy="969.0" r="0.73" fill="#5a5a5a"/>
<circle cx="667.8" cy="977.1" r="0.96" fill="#5a5a5a"/>
<circle cx="711.2" cy="1024.5" r="0.85" fill="#9a9a9a"/>
<circle cx="731.4" cy="1017.4" r="1.18" fill="#5a5a5a"/>
<circle cx="729.4" cy="1022.2" r="0.78" fill="#5a5a5a"/>
<circle cx="743.8" cy="1014.4" r="0.64" fill="#7a7a7a"/>
<circle cx="731.4" cy="1023.1" r="0.77" fill="#3a3a3a"/>
<circle cx="718.0" cy="1021.0" r="0.61" fill="#3a3a3a"/>
<circle cx="731.4" cy="1017.2" r="0.76" fill="#5a5a5a"/>
<circle cx="709.2" cy="1020.2" r="0.80" fill="#9a9a9a"/>
<circle cx="710.2" cy="1020.1" r="0.90" fill="#9a9a9a"/>
<circle cx="721.8" cy="1018.8" r="1.14" fill="#9a9a9a"/>
<circle cx="731.8" cy="1021.4" r="0.74" fill="#3a3a3a"/>
<circle cx="747.4" cy="1016.6" r="1.09" fill="#7a7a7a"/>
<circle cx="711.1" cy="1020.7" r="0.68" fill="#5a5a5a"/>
<circle cx="708.6" cy="1025.1" r="0.71" fill="#9a9a9a"/>
<circle cx="736.0" cy="1026.0" r="0.84" fill="#7a7a7a"/>
<circle cx="737.1" cy="1014.3" r="1.00" fill="#5a5a5a"/>
<circle cx="713.3" cy="1022.0" r="0.92" fill="#3a3a3a"/>
<circle cx="706.9" cy="1015.7" r="1.18" fill="#3a3a3a"/>
<circle cx="735.8" cy="1015.7" r="1.00" fill="#9a9a9a"/>
<circle cx="723.1" cy="1021.0" r="0.91" fill="#7a7a7a"/>
<circle cx="722.6" cy="1015.0" r="0.91" fill="#9a9a9a"/>
<circle cx="749.7" cy="1019.5" r="1.10" fill="#7a7a7a"/>
<circle cx="735.7" cy="1014.1" r="0.94" fill="#7a7a7a"/>
<circle cx="742.5" cy="1025.3" r="0.76" fill="#3a3a3a"/>
<circle cx="726.4" cy="1017.4" r="0.82" fill="#7a7a7a"/>
<circle cx="743.0" cy="1022.4" r="0.70" fill="#7a7a7a"/>
<circle cx="745.1" cy="1020.4" r="0.89" fill="#5a5a5a"/>
<circle cx="728.6" cy="1015.0" r="0.93" fill="#9a9a9a"/>
<circle cx="748.7" cy="1017.0" r="0.65" fill="#7a7a7a"/>
<circle cx="722.8" cy="1013.2" r="0.86" fill="#3a3a3a"/>
<circle cx="726.0" cy="1019.2" r="0.98" fill="#5a5a5a"/>
<circle cx="709.2" cy="1026.2" r="0.84" fill="#7a7a7a"/>
<circle cx="706.1" cy="1014.4" r="1.03" fill="#5a5a5a"/>
<circle cx="716.1" cy="1017.0" r="1.18" fill="#9a9a9a"/>
<circle cx="730.8" cy="1013.4" r="1.11" fill="#5a5a5a"/>
<circle cx="733.3" cy="1021.2" r="1.13" fill="#3a3a3a"/>
<circle cx="729.7" cy="1024.4" r="0.69" fill="#3a3a3a"/>
<circle cx="717.0" cy="1018.6" r="0.71" fill="#9a9a9a"/>
<circle cx="732.0" cy="1025.9" r="1.09" fill="#9a9a9a"/>
<circle cx="707.1" cy="1020.0" r="0.90" fill="#5a5a5a"/>
<circle cx="720.0" cy="1022.9" r="1.16" fill="#9a9a9a"/>
<circle cx="734.8" cy="1026.1" r="1.07" fill="#3a3a3a"/>
<circle cx="725.2" cy="1019.5" r="0.94" fill="#5a5a5a"/>
<circle cx="736.0" cy="1015.5" r="0.67" fill="#7a7a7a"/>
<circle cx="714.4" cy="1015.9" r="1.00" fill="#7a7a7a"/>
<circle cx="747.7" cy="1027.0" r="0.87" fill="#5a5a5a"/>
<circle cx="733.4" cy="1015.4" r="1.18" fill="#7a7a7a"/>
<circle cx="725.1" cy="1013.9" r="0.62" fill="#3a3a3a"/>
<circle cx="738.4" cy="1020.1" r="0.65" fill="#7a7a7a"/>
<circle cx="743.2" cy="1023.9" r="0.95" fill="#7a7a7a"/>
<circle cx="720.3" cy="1021.8" r="0.85" fill="#5a5a5a"/>
<circle cx="734.1" cy="1020.1" r="0.79" fill="#3a3a3a"/>
<circle cx="714.1" cy="1017.7" r="0.61" fill="#5a5a5a"/>
<circle cx="742.9" cy="1024.9" r="1.12" fill="#3a3a3a"/>
<circle cx="736.4" cy="1026.5" r="1.10" fill="#3a3a3a"/>
<circle cx="731.1" cy="1013.2" r="0.83" fill="#9a9a9a"/>
<circle cx="723.4" cy="1026.4" r="0.90" fill="#3a3a3a"/>
<circle cx="709.7" cy="1014.4" r="1.00" fill="#3a3a3a"/>
<circle cx="737.9" cy="1024.2" r="0.96" fill="#5a5a5a"/>
<circle cx="737.9" cy="1019.6" r="1.06" fill="#9a9a9a"/>
<circle cx="707.1" cy="1025.3" r="1.00" fill="#9a9a9a"/>
<circle cx="735.1" cy="1013.0" r="0.88" fill="#7a7a7a"/>
<circle cx="720.8" cy="1019.6" r="0.66" fill="#5a5a5a"/>
<circle cx="719.9" cy="1020.6" r="1.16" fill="#3a3a3a"/>
<circle cx="746.1" cy="1020.9" r="1.20" fill="#5a5a5a"/>
<circle cx="724.4" cy="1025.4" r="0.98" fill="#7a7a7a"/>
<circle cx="733.0" cy="1019.7" r="0.98" fill="#5a5a5a"/>
<circle cx="736.7" cy="1026.3" r="0.61" fill="#9a9a9a"/>
<circle cx="736.9" cy="1022.8" r="1.06" fill="#7a7a7a"/>
<circle cx="706.4" cy="1022.1" r="1.08" fill="#7a7a7a"/>
<circle cx="669.8" cy="1066.6" r="1.05" fill="#9a9a9a"/>
<circle cx="666.6" cy="1052.0" r="1.08" fill="#5a5a5a"/>
<circle cx="656.7" cy="1059.8" r="0.83" fill="#9a9a9a"/>
<circle cx="654.1" cy="1058.4" r="1.11" fill="#9a9a9a"/>
<circle cx="675.3" cy="1049.4" r="0.76" fill="#3a3a3a"/>
<circle cx="651.4" cy="1051.6" r="1.10" fill="#5a5a5a"/>
<circle cx="660.7" cy="1060.5" r="1.16" fill="#5a5a5a"/>
<circle cx="658.8" cy="1050.5" r="0.83" fill="#9a9a9a"/>
<circle cx="664.6" cy="1049.8" r="1.13" fill="#3a3a3a"/>
<circle cx="663.7" cy="1052.0" r="1.09" fill="#5a5a5a"/>
<circle cx="655.9" cy="1068.7" r="1.09" fill="#7a7a7a"/>
<circle cx="674.4" cy="1050.1" r="1.15" fill="#9a9a9a"/>
<circle cx="652.6" cy="1065.1" r="1.06" fill="#9a9a9a"/>
<circle cx="676.4" cy="1051.7" r="0.71" fill="#3a3a3a"/>
<circle cx="668.5" cy="1066.8" r="0.94" fill="#9a9a9a"/>
<circle cx="671.8" cy="1061.7" r="0.71" fill="#9a9a9a"/>
<circle cx="674.0" cy="1054.1" r="1.02" fill="#5a5a5a"/>
<circle cx="655.4" cy="1055.4" r="0.60" fill="#9a9a9a"/>
<circle cx="652.7" cy="1054.9" r="1.06" fill="#3a3a3a"/>
<circle cx="671.8" cy="1060.3" r="0.87" fill="#5a5a5a"/>
<circle cx="659.4" cy="1067.5" r="0.70" fill="#5a5a5a"/>
<circle cx="675.2" cy="1049.1" r="1.15" fill="#3a3a3a"/>
<circle cx="652.3" cy="1054.2" r="1.00" fill="#3a3a3a"/>
<circle cx="666.9" cy="1051.5" r="0.84" fill="#7a7a7a"/>
<circle cx="656.5" cy="1065.6" r="1.03" fill="#3a3a3a"/>
<circle cx="664.4" cy="1063.7" r="0.68" fill="#3a3a3a"/>
<circle cx="651.8" cy="1057.8" r="0.78" fill="#5a5a5a"/>
<circle cx="655.8" cy="1055.8" r="0.77" fill="#3a3a3a"/>
<circle cx="658.2" cy="1062.1" r="0.65" fill="#5a5a5a"/>
<circle cx="662.1" cy="1060.9" r="1.12" fill="#9a9a9a"/>
<circle cx="663.4" cy="1057.3" r="0.74" fill="#7a7a7a"/>
<circle cx="663.8" cy="1053.0" r="0.60" fill="#3a3a3a"/>
<circle cx="672.6" cy="1069.2" r="0.81" fill="#5a5a5a"/>
<circle cx="665.0" cy="1064.2" r="0.65" fill="#3a3a3a"/>
<circle cx="667.8" cy="1055.5" r="0.91" fill="#9a9a9a"/>
<circle cx="658.8" cy="1066.4" r="0.77" fill="#3a3a3a"/>
<circle cx="666.5" cy="1062.0" r="0.70" fill="#9a9a9a"/>
<circle cx="667.3" cy="1067.3" r="0.85" fill="#5a5a5a"/>
<circle cx="657.4" cy="1060.3" r="0.90" fill="#7a7a7a"/>
<circle cx="661.5" cy="1049.4" r="1.20" fill="#7a7a7a"/>
<circle cx="668.8" cy="1063.3" r="0.66" fill="#7a7a7a"/>
<circle cx="658.4" cy="1053.3" r="0.82" fill="#3a3a3a"/>
<circle cx="667.1" cy="1056.7" r="0.66" fill="#5a5a5a"/>
<circle cx="658.3" cy="1051.4" r="1.05" fill="#3a3a3a"/>
<circle cx="667.9" cy="1061.0" r="0.98" fill="#7a7a7a"/>
<circle cx="675.4" cy="1061.4" r="0.93" fill="#3a3a3a"/>
<circle cx="658.9" cy="1057.1" r="1.20" fill="#3a3a3a"/>
<circle cx="651.0" cy="1059.5" r="0.91" fill="#5a5a5a"/>
<circle cx="672.0" cy="1050.2" r="0.78" fill="#5a5a5a"/>
<circle cx="674.0" cy="1054.0" r="1.07" fill="#3a3a3a"/>
<circle cx="674.3" cy="1057.6" r="0.65" fill="#5a5a5a"/>
<circle cx="654.7" cy="1053.3" r="0.66" fill="#7a7a7a"/>
<circle cx="674.8" cy="1066.2" r="0.78" fill="#5a5a5a"/>
<circle cx="653.8" cy="1055.8" r="0.86" fill="#5a5a5a"/>
<circle cx="651.2" cy="1059.2" r="0.62" fill="#3a3a3a"/>
<circle cx="666.9" cy="1054.9" r="0.87" fill="#7a7a7a"/>
<circle cx="657.2" cy="1058.8" r="0.70" fill="#3a3a3a"/>
<circle cx="675.5" cy="1067.9" r="1.06" fill="#7a7a7a"/>
<circle cx="666.1" cy="1062.7" r="0.84" fill="#5a5a5a"/>
<circle cx="655.1" cy="1069.4" r="1.00" fill="#7a7a7a"/>
<circle cx="667.2" cy="1051.1" r="0.80" fill="#7a7a7a"/>
<circle cx="666.7" cy="1055.7" r="0.61" fill="#3a3a3a"/>
<circle cx="671.1" cy="1064.1" r="0.78" fill="#7a7a7a"/>
<circle cx="772.8" cy="1044.9" r="0.73" fill="#9a9a9a"/>
<circle cx="772.4" cy="1048.2" r="0.81" fill="#3a3a3a"/>
<circle cx="757.6" cy="1053.3" r="0.95" fill="#5a5a5a"/>
<circle cx="773.3" cy="1051.0" r="0.98" fill="#9a9a9a"/>
<circle cx="770.4" cy="1047.7" r="0.99" fill="#7a7a7a"/>
<circle cx="770.2" cy="1042.5" r="1.06" fill="#7a7a7a"/>
<circle cx="765.1" cy="1052.1" r="1.02" fill="#9a9a9a"/>
<circle cx="775.6" cy="1051.9" r="0.98" fill="#3a3a3a"/>
<circle cx="779.9" cy="1050.1" r="1.11" fill="#9a9a9a"/>
<circle cx="771.6" cy="1049.8" r="1.04" fill="#7a7a7a"/>
<circle cx="785.6" cy="1047.2" r="0.61" fill="#9a9a9a"/>
<circle cx="765.8" cy="1051.5" r="0.95" fill="#7a7a7a"/>
<circle cx="767.8" cy="1045.7" r="0.82" fill="#7a7a7a"/>
<circle cx="784.9" cy="1045.9" r="1.06" fill="#3a3a3a"/>
<circle cx="763.4" cy="1053.5" r="1.16" fill="#9a9a9a"/>
<circle cx="778.7" cy="1050.8" r="1.15" fill="#9a9a9a"/>
<circle cx="762.9" cy="1054.3" r="1.17" fill="#5a5a5a"/>
<circle cx="761.9" cy="1045.0" r="1.07" fill="#3a3a3a"/>
<circle cx="763.2" cy="1046.4" r="1.04" fill="#9a9a9a"/>
<circle cx="763.7" cy="1048.7" r="1.17" fill="#7a7a7a"/>
<circle cx="761.6" cy="1043.5" r="0.82" fill="#5a5a5a"/>
<circle cx="770.8" cy="1047.6" r="0.65" fill="#3a3a3a"/>
<circle cx="770.5" cy="1046.8" r="0.91" fill="#5a5a5a"/>
<circle cx="765.6" cy="1053.9" r="1.07" fill="#7a7a7a"/>
<circle cx="769.7" cy="1046.3" r="0.68" fill="#9a9a9a"/>
<circle cx="773.9" cy="1043.3" r="1.16" fill="#7a7a7a"/>
<circle cx="756.0" cy="1051.1" r="0.74" fill="#3a3a3a"/>
<circle cx="765.9" cy="1048.5" r="1.00" fill="#7a7a7a"/>
<circle cx="775.6" cy="1045.0" r="0.91" fill="#3a3a3a"/>
<circle cx="760.8" cy="1051.2" r="0.62" fill="#9a9a9a"/>
<circle cx="765.8" cy="1048.3" r="0.91" fill="#7a7a7a"/>
<circle cx="784.6" cy="1050.2" r="0.91" fill="#7a7a7a"/>
<circle cx="781.7" cy="1043.6" r="0.73" fill="#9a9a9a"/>
<circle cx="769.6" cy="1054.1" r="0.80" fill="#3a3a3a"/>
<circle cx="761.4" cy="1052.1" r="0.61" fill="#3a3a3a"/>
<circle cx="782.6" cy="1044.6" r="0.93" fill="#5a5a5a"/>
<circle cx="776.4" cy="1048.0" r="1.18" fill="#7a7a7a"/>
<circle cx="773.6" cy="1043.3" r="1.18" fill="#5a5a5a"/>
<circle cx="760.9" cy="1049.3" r="0.99" fill="#9a9a9a"/>
<circle cx="776.2" cy="1047.3" r="1.05" fill="#5a5a5a"/>
<circle cx="764.2" cy="1050.1" r="1.08" fill="#3a3a3a"/>
<circle cx="769.6" cy="1052.6" r="0.78" fill="#5a5a5a"/>
<circle cx="760.8" cy="1044.3" r="0.72" fill="#9a9a9a"/>
<circle cx="776.0" cy="1047.5" r="1.18" fill="#5a5a5a"/>
<circle cx="742.5" cy="1084.9" r="1.02" fill="#5a5a5a"/>
<circle cx="730.6" cy="1084.2" r="1.15" fill="#3a3a3a"/>
<circle cx="742.0" cy="1091.3" r="0.75" fill="#5a5a5a"/>
<circle cx="724.0" cy="1090.2" r="0.92" fill="#9a9a9a"/>
<circle cx="714.6" cy="1094.9" r="1.04" fill="#7a7a7a"/>
<circle cx="718.3" cy="1084.3" r="0.98" fill="#9a9a9a"/>
<circle cx="714.5" cy="1088.5" r="1.17" fill="#5a5a5a"/>
<circle cx="724.8" cy="1091.7" r="0.90" fill="#5a5a5a"/>
<circle cx="726.9" cy="1090.4" r="1.11" fill="#5a5a5a"/>
<circle cx="723.8" cy="1085.5" r="1.06" fill="#7a7a7a"/>
<circle cx="714.9" cy="1089.6" r="1.08" fill="#7a7a7a"/>
<circle cx="727.1" cy="1094.2" r="0.77" fill="#5a5a5a"/>
<circle cx="718.1" cy="1089.1" r="0.99" fill="#5a5a5a"/>
<circle cx="740.3" cy="1089.6" r="0.91" fill="#7a7a7a"/>
<circle cx="714.7" cy="1085.0" r="0.74" fill="#7a7a7a"/>
<circle cx="714.2" cy="1088.6" r="0.62" fill="#3a3a3a"/>
<circle cx="726.5" cy="1093.7" r="1.02" fill="#7a7a7a"/>
<circle cx="735.8" cy="1087.3" r="1.04" fill="#7a7a7a"/>
<circle cx="714.9" cy="1091.5" r="0.88" fill="#3a3a3a"/>
<circle cx="715.7" cy="1087.8" r="1.09" fill="#9a9a9a"/>
<circle cx="743.2" cy="1085.3" r="0.73" fill="#5a5a5a"/>
<circle cx="714.0" cy="1092.2" r="0.80" fill="#7a7a7a"/>
<circle cx="741.3" cy="1091.1" r="0.99" fill="#5a5a5a"/>
<circle cx="726.8" cy="1092.3" r="0.94" fill="#7a7a7a"/>
<circle cx="721.2" cy="1090.9" r="0.64" fill="#7a7a7a"/>
<circle cx="729.1" cy="1088.0" r="0.83" fill="#3a3a3a"/>
<circle cx="718.9" cy="1087.3" r="0.97" fill="#3a3a3a"/>
<circle cx="710.6" cy="1091.9" r="0.84" fill="#3a3a3a"/>
<circle cx="715.9" cy="1085.3" r="0.62" fill="#5a5a5a"/>
<circle cx="715.1" cy="1084.6" r="1.03" fill="#3a3a3a"/>
<circle cx="732.9" cy="1094.0" r="1.15" fill="#7a7a7a"/>
<circle cx="738.4" cy="1086.7" r="0.75" fill="#3a3a3a"/>
<circle cx="725.1" cy="1085.3" r="0.71" fill="#9a9a9a"/>
<circle cx="713.9" cy="1090.5" r="1.19" fill="#3a3a3a"/>
<circle cx="741.1" cy="1094.6" r="0.85" fill="#7a7a7a"/>
<circle cx="712.3" cy="1092.9" r="1.00" fill="#3a3a3a"/>
<circle cx="736.8" cy="1094.3" r="1.06" fill="#7a7a7a"/>
<circle cx="713.4" cy="1090.5" r="0.85" fill="#7a7a7a"/>
<circle cx="727.1" cy="1091.9" r="1.20" fill="#7a7a7a"/>
<circle cx="724.9" cy="1086.4" r="1.14" fill="#5a5a5a"/>
<circle cx="724.9" cy="1092.9" r="0.71" fill="#9a9a9a"/>
<circle cx="788.3" cy="1117.3" r="0.64" fill="#5a5a5a"/>
<circle cx="769.4" cy="1114.1" r="0.97" fill="#9a9a9a"/>
<circle cx="785.5" cy="1114.5" r="0.79" fill="#7a7a7a"/>
<circle cx="770.8" cy="1113.1" r="0.97" fill="#9a9a9a"/>
<circle cx="772.6" cy="1115.9" r="0.77" fill="#7a7a7a"/>
<circle cx="773.4" cy="1117.0" r="0.73" fill="#7a7a7a"/>
<circle cx="779.9" cy="1114.4" r="1.13" fill="#9a9a9a"/>
<circle cx="770.8" cy="1118.2" r="0.78" fill="#3a3a3a"/>
<circle cx="788.6" cy="1111.5" r="0.82" fill="#5a5a5a"/>
<circle cx="776.4" cy="1119.2" r="0.75" fill="#9a9a9a"/>
<circle cx="782.0" cy="1113.8" r="0.76" fill="#7a7a7a"/>
<circle cx="769.8" cy="1119.1" r="1.20" fill="#3a3a3a"/>
<circle cx="778.3" cy="1116.0" r="0.68" fill="#9a9a9a"/>
<circle cx="788.7" cy="1117.7" r="0.76" fill="#3a3a3a"/>
<circle cx="771.1" cy="1119.6" r="0.65" fill="#5a5a5a"/>
<circle cx="785.1" cy="1115.5" r="0.80" fill="#7a7a7a"/>
<circle cx="788.7" cy="1118.2" r="1.07" fill="#5a5a5a"/>
<circle cx="782.4" cy="1118.8" r="0.99" fill="#5a5a5a"/>
<circle cx="779.6" cy="1110.2" r="0.94" fill="#5a5a5a"/>
<circle cx="785.1" cy="1115.9" r="0.86" fill="#7a7a7a"/>
<circle cx="777.8" cy="1115.4" r="1.08" fill="#3a3a3a"/>
<circle cx="768.0" cy="1119.8" r="0.75" fill="#5a5a5a"/>
<circle cx="775.7" cy="1117.8" r="1.07" fill="#9a9a9a"/>
<circle cx="782.6" cy="1117.5" r="1.17" fill="#9a9a9a"/>
<rect x="834" y="919" width="136" height="104" fill="#131313"/>
<path d="M787,846 L791,840 L817,842 L821,846 L840,920 L826,920 Z" fill="#fbfbfb" stroke="#d9d9db" stroke-width="1.1"/>
<line x1="793.5" y1="846.0" x2="828.6" y2="918.0" stroke="#ececee" stroke-width="0.8" stroke-linecap="butt"/>
<line x1="800.5" y1="846.0" x2="831.1" y2="918.0" stroke="#ececee" stroke-width="0.8" stroke-linecap="butt"/>
<line x1="807.5" y1="846.0" x2="833.0" y2="918.0" stroke="#ececee" stroke-width="0.8" stroke-linecap="butt"/>
<line x1="814.5" y1="846.0" x2="838.2" y2="918.0" stroke="#ececee" stroke-width="0.8" stroke-linecap="butt"/>
<path d="M863,846 L867,840 L889,842 L893,846 L900,920 L880,920 Z" fill="#fbfbfb" stroke="#d9d9db" stroke-width="1.1"/>
<line x1="869.0" y1="846.0" x2="882.6" y2="918.0" stroke="#ececee" stroke-width="0.8" stroke-linecap="butt"/>
<line x1="875.0" y1="846.0" x2="888.3" y2="918.0" stroke="#ececee" stroke-width="0.8" stroke-linecap="butt"/>
<line x1="881.0" y1="846.0" x2="891.5" y2="918.0" stroke="#ececee" stroke-width="0.8" stroke-linecap="butt"/>
<line x1="887.0" y1="846.0" x2="895.1" y2="918.0" stroke="#ececee" stroke-width="0.8" stroke-linecap="butt"/>
<path d="M930,846 L934,840 L954,842 L958,846 L960,920 L940,920 Z" fill="#fbfbfb" stroke="#d9d9db" stroke-width="1.1"/>
<line x1="935.8" y1="846.0" x2="943.8" y2="918.0" stroke="#ececee" stroke-width="0.8" stroke-linecap="butt"/>
<line x1="941.2" y1="846.0" x2="949.3" y2="918.0" stroke="#ececee" stroke-width="0.8" stroke-linecap="butt"/>
<line x1="946.8" y1="846.0" x2="951.2" y2="918.0" stroke="#ececee" stroke-width="0.8" stroke-linecap="butt"/>
<line x1="952.2" y1="846.0" x2="955.0" y2="918.0" stroke="#ececee" stroke-width="0.8" stroke-linecap="butt"/>
<path d="M830,872 L862,872 L860,936 Q847,958 832,936 Z" fill="#fafafa" stroke="#d6d6d8" stroke-width="1.1"/>
<line x1="836.2" y1="872.0" x2="842.9" y2="948.0" stroke="#ececee" stroke-width="0.8" stroke-linecap="butt"/>
<line x1="842.8" y1="872.0" x2="846.0" y2="948.0" stroke="#ececee" stroke-width="0.8" stroke-linecap="butt"/>
<line x1="849.2" y1="872.0" x2="848.5" y2="948.0" stroke="#ececee" stroke-width="0.8" stroke-linecap="butt"/>
<line x1="855.8" y1="872.0" x2="850.5" y2="948.0" stroke="#ececee" stroke-width="0.8" stroke-linecap="butt"/>
<path d="M897,872 L926,872 L924,936 Q912,958 899,936 Z" fill="#fafafa" stroke="#d6d6d8" stroke-width="1.1"/>
<line x1="902.9" y1="872.0" x2="908.6" y2="948.0" stroke="#ececee" stroke-width="0.8" stroke-linecap="butt"/>
<line x1="908.6" y1="872.0" x2="909.3" y2="948.0" stroke="#ececee" stroke-width="0.8" stroke-linecap="butt"/>
<line x1="914.4" y1="872.0" x2="912.5" y2="948.0" stroke="#ececee" stroke-width="0.8" stroke-linecap="butt"/>
<line x1="920.1" y1="872.0" x2="915.7" y2="948.0" stroke="#ececee" stroke-width="0.8" stroke-linecap="butt"/>
<path d="M838,1000 Q848,986 858,1000 L866,1062 L828,1062 Z" fill="#f7f7f8" stroke="#d6d6d8" stroke-width="1.1"/>
<line x1="841.6" y1="1000.0" x2="833.4" y2="1060.0" stroke="#e8e8ea" stroke-width="0.8" stroke-linecap="butt"/>
<line x1="844.8" y1="1000.0" x2="840.1" y2="1060.0" stroke="#e8e8ea" stroke-width="0.8" stroke-linecap="butt"/>
<line x1="848.0" y1="1000.0" x2="847.2" y2="1060.0" stroke="#e8e8ea" stroke-width="0.8" stroke-linecap="butt"/>
<line x1="851.2" y1="1000.0" x2="854.5" y2="1060.0" stroke="#e8e8ea" stroke-width="0.8" stroke-linecap="butt"/>
<line x1="854.4" y1="1000.0" x2="861.8" y2="1060.0" stroke="#e8e8ea" stroke-width="0.8" stroke-linecap="butt"/>
<path d="M906,1000 Q916,986 926,1000 L938,1070 L893,1070 Z" fill="#f7f7f8" stroke="#d6d6d8" stroke-width="1.1"/>
<line x1="909.6" y1="1000.0" x2="899.0" y2="1068.0" stroke="#e8e8ea" stroke-width="0.8" stroke-linecap="butt"/>
<line x1="912.8" y1="1000.0" x2="905.9" y2="1068.0" stroke="#e8e8ea" stroke-width="0.8" stroke-linecap="butt"/>
<line x1="916.0" y1="1000.0" x2="916.5" y2="1068.0" stroke="#e8e8ea" stroke-width="0.8" stroke-linecap="butt"/>
<line x1="919.2" y1="1000.0" x2="922.3" y2="1068.0" stroke="#e8e8ea" stroke-width="0.8" stroke-linecap="butt"/>
<line x1="922.4" y1="1000.0" x2="931.4" y2="1068.0" stroke="#e8e8ea" stroke-width="0.8" stroke-linecap="butt"/>
<line x1="850.0" y1="963.0" x2="792.6" y2="911.7" stroke="#f7f7f7" stroke-width="0.9288243405846397" stroke-linecap="butt"/>
<line x1="846.0" y1="976.0" x2="789.6" y2="1024.0" stroke="#f7f7f7" stroke-width="1.4891090420296518" stroke-linecap="butt"/>
<line x1="850.0" y1="963.0" x2="791.7" y2="911.4" stroke="#f7f7f7" stroke-width="1.2085563544094242" stroke-linecap="butt"/>
<line x1="846.0" y1="976.0" x2="787.1" y2="1022.6" stroke="#f7f7f7" stroke-width="1.1192022902940426" stroke-linecap="butt"/>
<line x1="850.0" y1="963.0" x2="789.6" y2="908.6" stroke="#f7f7f7" stroke-width="0.9269010551498552" stroke-linecap="butt"/>
<line x1="846.0" y1="976.0" x2="789.7" y2="1021.6" stroke="#f7f7f7" stroke-width="1.3521111059197999" stroke-linecap="butt"/>
<line x1="850.0" y1="963.0" x2="804.8" y2="908.7" stroke="#f7f7f7" stroke-width="1.129796311304519" stroke-linecap="butt"/>
<line x1="846.0" y1="976.0" x2="806.0" y2="1022.5" stroke="#f7f7f7" stroke-width="1.7207999191781296" stroke-linecap="butt"/>
<line x1="850.0" y1="963.0" x2="818.4" y2="918.0" stroke="#f7f7f7" stroke-width="1.3725237493794138" stroke-linecap="butt"/>
<line x1="846.0" y1="976.0" x2="818.4" y2="1015.5" stroke="#f7f7f7" stroke-width="0.8974323164817032" stroke-linecap="butt"/>
<line x1="850.0" y1="963.0" x2="821.7" y2="916.0" stroke="#f7f7f7" stroke-width="1.3382128886721754" stroke-linecap="butt"/>
<line x1="846.0" y1="976.0" x2="823.6" y2="1018.4" stroke="#f7f7f7" stroke-width="1.595567597608981" stroke-linecap="butt"/>
<line x1="850.0" y1="963.0" x2="821.7" y2="914.5" stroke="#f7f7f7" stroke-width="0.9454515810927059" stroke-linecap="butt"/>
<line x1="846.0" y1="976.0" x2="823.8" y2="1018.8" stroke="#f7f7f7" stroke-width="1.1715591605561277" stroke-linecap="butt"/>
<line x1="850.0" y1="963.0" x2="798.3" y2="914.1" stroke="#f7f7f7" stroke-width="1.260633372162086" stroke-linecap="butt"/>
<line x1="846.0" y1="976.0" x2="802.4" y2="1018.7" stroke="#f7f7f7" stroke-width="1.121190176226193" stroke-linecap="butt"/>
<line x1="850.0" y1="963.0" x2="809.0" y2="916.2" stroke="#f7f7f7" stroke-width="1.1532425292672694" stroke-linecap="butt"/>
<line x1="846.0" y1="976.0" x2="809.8" y2="1018.2" stroke="#f7f7f7" stroke-width="1.6614703294343813" stroke-linecap="butt"/>
<line x1="850.0" y1="963.0" x2="818.3" y2="914.5" stroke="#f7f7f7" stroke-width="1.0737559090403623" stroke-linecap="butt"/>
<line x1="846.0" y1="976.0" x2="822.8" y2="1019.8" stroke="#f7f7f7" stroke-width="1.1051639469594674" stroke-linecap="butt"/>
<line x1="850.0" y1="963.0" x2="787.7" y2="912.6" stroke="#f7f7f7" stroke-width="0.8392086955922966" stroke-linecap="butt"/>
<line x1="846.0" y1="976.0" x2="789.9" y2="1021.7" stroke="#f7f7f7" stroke-width="1.3539805659425777" stroke-linecap="butt"/>
<line x1="850.0" y1="963.0" x2="808.1" y2="913.9" stroke="#f7f7f7" stroke-width="0.8899940292040465" stroke-linecap="butt"/>
<line x1="846.0" y1="976.0" x2="812.4" y2="1015.6" stroke="#f7f7f7" stroke-width="0.938760856939008" stroke-linecap="butt"/>
<line x1="850.0" y1="963.0" x2="815.1" y2="917.2" stroke="#f7f7f7" stroke-width="1.4926067918627623" stroke-linecap="butt"/>
<line x1="846.0" y1="976.0" x2="818.9" y2="1014.4" stroke="#f7f7f7" stroke-width="0.8106479206927024" stroke-linecap="butt"/>
<line x1="850.0" y1="963.0" x2="797.6" y2="907.6" stroke="#f7f7f7" stroke-width="1.3312570771583743" stroke-linecap="butt"/>
<line x1="846.0" y1="976.0" x2="797.0" y2="1017.8" stroke="#f7f7f7" stroke-width="1.3274808917792815" stroke-linecap="butt"/>
<line x1="850.0" y1="963.0" x2="825.3" y2="916.2" stroke="#f7f7f7" stroke-width="1.2789268434709877" stroke-linecap="butt"/>
<line x1="846.0" y1="976.0" x2="825.9" y2="1020.3" stroke="#f7f7f7" stroke-width="1.582612072170222" stroke-linecap="butt"/>
<line x1="850.0" y1="963.0" x2="813.4" y2="916.7" stroke="#f7f7f7" stroke-width="1.286756175191782" stroke-linecap="butt"/>
<line x1="846.0" y1="976.0" x2="818.4" y2="1016.8" stroke="#f7f7f7" stroke-width="1.6815651619906125" stroke-linecap="butt"/>
<line x1="850.0" y1="963.0" x2="814.5" y2="915.3" stroke="#f7f7f7" stroke-width="1.604875155248495" stroke-linecap="butt"/>
<line x1="846.0" y1="976.0" x2="817.0" y2="1021.6" stroke="#f7f7f7" stroke-width="0.8072127931702636" stroke-linecap="butt"/>
<line x1="850.0" y1="963.0" x2="825.0" y2="916.9" stroke="#f7f7f7" stroke-width="1.6498679365982518" stroke-linecap="butt"/>
<line x1="846.0" y1="976.0" x2="825.0" y2="1015.3" stroke="#f7f7f7" stroke-width="1.5139094384622274" stroke-linecap="butt"/>
<line x1="850.0" y1="963.0" x2="819.8" y2="920.2" stroke="#f7f7f7" stroke-width="1.448624915580552" stroke-linecap="butt"/>
<line x1="846.0" y1="976.0" x2="820.8" y2="1014.0" stroke="#f7f7f7" stroke-width="0.8763422927890192" stroke-linecap="butt"/>
<line x1="850.0" y1="963.0" x2="808.9" y2="911.8" stroke="#f7f7f7" stroke-width="1.2476164925662339" stroke-linecap="butt"/>
<line x1="846.0" y1="976.0" x2="808.8" y2="1021.9" stroke="#f7f7f7" stroke-width="1.6382266226777717" stroke-linecap="butt"/>
<line x1="850.0" y1="963.0" x2="809.1" y2="912.1" stroke="#f7f7f7" stroke-width="1.4027549098386565" stroke-linecap="butt"/>
<line x1="846.0" y1="976.0" x2="809.9" y2="1022.5" stroke="#f7f7f7" stroke-width="1.7561446904087574" stroke-linecap="butt"/>
<line x1="850.0" y1="963.0" x2="818.5" y2="911.9" stroke="#f7f7f7" stroke-width="0.9236706339545716" stroke-linecap="butt"/>
<line x1="846.0" y1="976.0" x2="818.0" y2="1014.6" stroke="#f7f7f7" stroke-width="1.222527789469631" stroke-linecap="butt"/>
<line x1="850.0" y1="963.0" x2="829.4" y2="921.5" stroke="#f7f7f7" stroke-width="1.021631007196568" stroke-linecap="butt"/>
<line x1="846.0" y1="976.0" x2="829.7" y2="1012.3" stroke="#f7f7f7" stroke-width="1.0736679187895386" stroke-linecap="butt"/>
<line x1="850.0" y1="963.0" x2="788.5" y2="907.0" stroke="#f7f7f7" stroke-width="1.4737670659111828" stroke-linecap="butt"/>
<line x1="846.0" y1="976.0" x2="787.1" y2="1022.4" stroke="#f7f7f7" stroke-width="1.0998601627382991" stroke-linecap="butt"/>
<line x1="850.0" y1="963.0" x2="818.0" y2="917.1" stroke="#f7f7f7" stroke-width="1.2711065996759934" stroke-linecap="butt"/>
<line x1="846.0" y1="976.0" x2="819.1" y2="1015.9" stroke="#f7f7f7" stroke-width="0.8400900475497098" stroke-linecap="butt"/>
<line x1="850.0" y1="963.0" x2="806.3" y2="910.1" stroke="#f7f7f7" stroke-width="1.6600212447860105" stroke-linecap="butt"/>
<line x1="846.0" y1="976.0" x2="808.6" y2="1022.0" stroke="#f7f7f7" stroke-width="1.6161027724515897" stroke-linecap="butt"/>
<line x1="850.0" y1="963.0" x2="804.6" y2="911.1" stroke="#f7f7f7" stroke-width="1.5376193673250211" stroke-linecap="butt"/>
<line x1="846.0" y1="976.0" x2="810.3" y2="1016.0" stroke="#f7f7f7" stroke-width="0.8062560184447706" stroke-linecap="butt"/>
<line x1="850.0" y1="963.0" x2="799.9" y2="912.3" stroke="#f7f7f7" stroke-width="0.9123226355451708" stroke-linecap="butt"/>
<line x1="846.0" y1="976.0" x2="803.0" y2="1018.6" stroke="#f7f7f7" stroke-width="1.7085708761034748" stroke-linecap="butt"/>
<line x1="850.0" y1="963.0" x2="798.7" y2="908.7" stroke="#f7f7f7" stroke-width="1.7656923415000279" stroke-linecap="butt"/>
<line x1="846.0" y1="976.0" x2="800.3" y2="1022.6" stroke="#f7f7f7" stroke-width="0.8630464588234058" stroke-linecap="butt"/>
<line x1="850.0" y1="963.0" x2="810.2" y2="917.3" stroke="#f7f7f7" stroke-width="1.736609584852118" stroke-linecap="butt"/>
<line x1="846.0" y1="976.0" x2="807.7" y2="1017.7" stroke="#f7f7f7" stroke-width="1.798749177225786" stroke-linecap="butt"/>
<line x1="850.0" y1="963.0" x2="811.2" y2="911.4" stroke="#f7f7f7" stroke-width="0.825547914766034" stroke-linecap="butt"/>
<line x1="846.0" y1="976.0" x2="812.4" y2="1016.9" stroke="#f7f7f7" stroke-width="1.360643007165577" stroke-linecap="butt"/>
<line x1="850.0" y1="963.0" x2="801.6" y2="915.1" stroke="#f7f7f7" stroke-width="1.7468904538637557" stroke-linecap="butt"/>
<line x1="846.0" y1="976.0" x2="803.6" y2="1017.9" stroke="#f7f7f7" stroke-width="1.6209777456329295" stroke-linecap="butt"/>
<line x1="850.0" y1="963.0" x2="786.3" y2="911.7" stroke="#f7f7f7" stroke-width="1.0545775772354506" stroke-linecap="butt"/>
<line x1="846.0" y1="976.0" x2="784.1" y2="1022.5" stroke="#f7f7f7" stroke-width="1.036621488271556" stroke-linecap="butt"/>
<line x1="850.0" y1="963.0" x2="816.7" y2="911.8" stroke="#f7f7f7" stroke-width="1.7201085220150407" stroke-linecap="butt"/>
<line x1="846.0" y1="976.0" x2="815.4" y2="1019.3" stroke="#f7f7f7" stroke-width="1.1483818851267602" stroke-linecap="butt"/>
<line x1="850.0" y1="963.0" x2="789.5" y2="913.4" stroke="#f7f7f7" stroke-width="1.5996783692252587" stroke-linecap="butt"/>
<line x1="846.0" y1="976.0" x2="790.6" y2="1023.5" stroke="#f7f7f7" stroke-width="1.7697980148988104" stroke-linecap="butt"/>
<line x1="850.0" y1="963.0" x2="825.1" y2="915.5" stroke="#f7f7f7" stroke-width="1.3185252155373202" stroke-linecap="butt"/>
<line x1="846.0" y1="976.0" x2="831.4" y2="1018.3" stroke="#f7f7f7" stroke-width="1.4697712598762394" stroke-linecap="butt"/>
<line x1="850.0" y1="963.0" x2="820.9" y2="916.9" stroke="#f7f7f7" stroke-width="1.6487544493307082" stroke-linecap="butt"/>
<line x1="846.0" y1="976.0" x2="822.7" y2="1019.8" stroke="#f7f7f7" stroke-width="0.8246066118968556" stroke-linecap="butt"/>
<line x1="850.0" y1="963.0" x2="809.0" y2="910.5" stroke="#f7f7f7" stroke-width="1.7219982313135804" stroke-linecap="butt"/>
<line x1="846.0" y1="976.0" x2="809.4" y2="1016.3" stroke="#f7f7f7" stroke-width="1.211580278327141" stroke-linecap="butt"/>
<line x1="850.0" y1="963.0" x2="810.4" y2="909.9" stroke="#f7f7f7" stroke-width="0.892384210409502" stroke-linecap="butt"/>
<line x1="846.0" y1="976.0" x2="813.7" y2="1015.5" stroke="#f7f7f7" stroke-width="1.0554616365051495" stroke-linecap="butt"/>
<line x1="850.0" y1="963.0" x2="822.1" y2="919.1" stroke="#f7f7f7" stroke-width="0.9744972446155905" stroke-linecap="butt"/>
<line x1="846.0" y1="976.0" x2="819.8" y2="1019.2" stroke="#f7f7f7" stroke-width="1.398907402502287" stroke-linecap="butt"/>
<line x1="850.0" y1="963.0" x2="798.4" y2="911.1" stroke="#f7f7f7" stroke-width="1.0371467667940961" stroke-linecap="butt"/>
<line x1="846.0" y1="976.0" x2="802.0" y2="1023.7" stroke="#f7f7f7" stroke-width="1.0093501234949775" stroke-linecap="butt"/>
<line x1="850.0" y1="963.0" x2="790.3" y2="905.6" stroke="#f7f7f7" stroke-width="1.02295408024492" stroke-linecap="butt"/>
<line x1="846.0" y1="976.0" x2="787.2" y2="1025.4" stroke="#f7f7f7" stroke-width="1.1243311079954306" stroke-linecap="butt"/>
<line x1="850.0" y1="963.0" x2="799.1" y2="908.5" stroke="#f7f7f7" stroke-width="1.2022969489618167" stroke-linecap="butt"/>
<line x1="846.0" y1="976.0" x2="800.4" y2="1018.7" stroke="#f7f7f7" stroke-width="1.596367507040227" stroke-linecap="butt"/>
<line x1="850.0" y1="963.0" x2="791.4" y2="910.9" stroke="#f7f7f7" stroke-width="1.252924024769034" stroke-linecap="butt"/>
<line x1="846.0" y1="976.0" x2="795.4" y2="1017.7" stroke="#f7f7f7" stroke-width="1.546239283982126" stroke-linecap="butt"/>
<line x1="850.0" y1="963.0" x2="813.4" y2="911.7" stroke="#f7f7f7" stroke-width="1.4118628805586617" stroke-linecap="butt"/>
<line x1="846.0" y1="976.0" x2="817.7" y2="1017.8" stroke="#f7f7f7" stroke-width="1.2725041268575366" stroke-linecap="butt"/>
<line x1="850.0" y1="963.0" x2="815.5" y2="914.2" stroke="#f7f7f7" stroke-width="0.9860948646791505" stroke-linecap="butt"/>
<line x1="846.0" y1="976.0" x2="816.7" y2="1018.3" stroke="#f7f7f7" stroke-width="1.6964766606685313" stroke-linecap="butt"/>
<line x1="850.0" y1="963.0" x2="828.1" y2="916.6" stroke="#f7f7f7" stroke-width="1.0227380394643684" stroke-linecap="butt"/>
<line x1="846.0" y1="976.0" x2="832.5" y2="1017.9" stroke="#f7f7f7" stroke-width="1.047792128069264" stroke-linecap="butt"/>
<line x1="850.0" y1="963.0" x2="818.0" y2="914.0" stroke="#f7f7f7" stroke-width="1.738819695223702" stroke-linecap="butt"/>
<line x1="846.0" y1="976.0" x2="816.8" y2="1019.1" stroke="#f7f7f7" stroke-width="1.666583534650954" stroke-linecap="butt"/>
<line x1="850.0" y1="963.0" x2="793.6" y2="913.9" stroke="#f7f7f7" stroke-width="0.8652518501212841" stroke-linecap="butt"/>
<line x1="846.0" y1="976.0" x2="792.6" y2="1020.6" stroke="#f7f7f7" stroke-width="1.5448467050664068" stroke-linecap="butt"/>
<line x1="850.0" y1="963.0" x2="815.1" y2="915.7" stroke="#f7f7f7" stroke-width="0.8015102207898684" stroke-linecap="butt"/>
<line x1="846.0" y1="976.0" x2="811.7" y2="1014.5" stroke="#f7f7f7" stroke-width="1.2316442697340388" stroke-linecap="butt"/>
<line x1="850.0" y1="963.0" x2="787.3" y2="909.3" stroke="#f7f7f7" stroke-width="1.002279096511559" stroke-linecap="butt"/>
<line x1="846.0" y1="976.0" x2="787.4" y2="1021.1" stroke="#f7f7f7" stroke-width="1.7599385351648342" stroke-linecap="butt"/>
<line x1="850.0" y1="963.0" x2="801.7" y2="911.9" stroke="#f7f7f7" stroke-width="1.0630069494386043" stroke-linecap="butt"/>
<line x1="846.0" y1="976.0" x2="802.9" y2="1015.9" stroke="#f7f7f7" stroke-width="1.0495750260039447" stroke-linecap="butt"/>
<line x1="850.0" y1="963.0" x2="801.8" y2="911.2" stroke="#f7f7f7" stroke-width="0.8365247478040069" stroke-linecap="butt"/>
<line x1="846.0" y1="976.0" x2="798.2" y2="1021.0" stroke="#f7f7f7" stroke-width="1.6088091608211854" stroke-linecap="butt"/>
<line x1="850.0" y1="963.0" x2="792.3" y2="908.2" stroke="#f7f7f7" stroke-width="1.3241384642991259" stroke-linecap="butt"/>
<line x1="846.0" y1="976.0" x2="788.8" y2="1020.9" stroke="#f7f7f7" stroke-width="1.7905161100513514" stroke-linecap="butt"/>
<line x1="850.0" y1="963.0" x2="827.1" y2="919.1" stroke="#f7f7f7" stroke-width="1.5001675997039245" stroke-linecap="butt"/>
<line x1="846.0" y1="976.0" x2="826.0" y2="1012.8" stroke="#f7f7f7" stroke-width="1.630882302177814" stroke-linecap="butt"/>
<line x1="882.3" y1="957.0" x2="889.2" y2="912.7" stroke="#f4f4f4" stroke-width="0.9869696642183913" stroke-linecap="butt"/>
<line x1="881.1" y1="957.0" x2="898.2" y2="913.7" stroke="#f4f4f4" stroke-width="1.0383390137850572" stroke-linecap="butt"/>
<line x1="884.9" y1="957.0" x2="877.6" y2="918.3" stroke="#f4f4f4" stroke-width="1.4320549496208295" stroke-linecap="butt"/>
<line x1="882.7" y1="957.0" x2="894.3" y2="919.0" stroke="#f4f4f4" stroke-width="0.8781142283402421" stroke-linecap="butt"/>
<line x1="884.2" y1="957.0" x2="891.1" y2="910.9" stroke="#f4f4f4" stroke-width="1.3542181143065668" stroke-linecap="butt"/>
<line x1="881.4" y1="957.0" x2="869.3" y2="918.9" stroke="#f4f4f4" stroke-width="1.3896598918136964" stroke-linecap="butt"/>
<line x1="881.9" y1="957.0" x2="894.9" y2="913.8" stroke="#f4f4f4" stroke-width="1.3998751085633827" stroke-linecap="butt"/>
<line x1="881.0" y1="957.0" x2="869.3" y2="915.8" stroke="#f4f4f4" stroke-width="1.488008536870256" stroke-linecap="butt"/>
<line x1="884.2" y1="957.0" x2="879.9" y2="911.3" stroke="#f4f4f4" stroke-width="1.20670134660413" stroke-linecap="butt"/>
<line x1="884.7" y1="957.0" x2="900.5" y2="911.3" stroke="#f4f4f4" stroke-width="1.4743682645676606" stroke-linecap="butt"/>
<line x1="881.9" y1="957.0" x2="868.0" y2="911.5" stroke="#f4f4f4" stroke-width="1.0272221721595196" stroke-linecap="butt"/>
<line x1="881.2" y1="957.0" x2="877.3" y2="909.1" stroke="#f4f4f4" stroke-width="1.1044336808151625" stroke-linecap="butt"/>
<line x1="883.0" y1="957.0" x2="869.6" y2="909.0" stroke="#f4f4f4" stroke-width="1.291324977672328" stroke-linecap="butt"/>
<line x1="882.3" y1="957.0" x2="883.7" y2="911.3" stroke="#f4f4f4" stroke-width="1.08940506237909" stroke-linecap="butt"/>
<line x1="884.6" y1="957.0" x2="891.8" y2="912.0" stroke="#f4f4f4" stroke-width="1.016488719945698" stroke-linecap="butt"/>
<line x1="883.3" y1="957.0" x2="895.5" y2="911.6" stroke="#f4f4f4" stroke-width="1.085688202474023" stroke-linecap="butt"/>
<line x1="881.4" y1="957.0" x2="885.4" y2="918.2" stroke="#f4f4f4" stroke-width="1.0179288683755137" stroke-linecap="butt"/>
<line x1="883.9" y1="957.0" x2="869.4" y2="918.5" stroke="#f4f4f4" stroke-width="1.311957122278701" stroke-linecap="butt"/>
<line x1="883.9" y1="957.0" x2="887.2" y2="916.9" stroke="#f4f4f4" stroke-width="1.3780858272306515" stroke-linecap="butt"/>
<line x1="883.3" y1="957.0" x2="887.3" y2="916.7" stroke="#f4f4f4" stroke-width="1.0763203432214319" stroke-linecap="butt"/>
<line x1="884.5" y1="957.0" x2="874.7" y2="917.5" stroke="#f4f4f4" stroke-width="1.2426154711848547" stroke-linecap="butt"/>
<line x1="882.1" y1="957.0" x2="898.6" y2="917.3" stroke="#f4f4f4" stroke-width="1.156532137293167" stroke-linecap="butt"/>
<line x1="883.2" y1="957.0" x2="867.1" y2="916.0" stroke="#f4f4f4" stroke-width="1.1372496784560515" stroke-linecap="butt"/>
<line x1="883.6" y1="957.0" x2="897.7" y2="913.2" stroke="#f4f4f4" stroke-width="1.2096061174071118" stroke-linecap="butt"/>
<line x1="881.0" y1="957.0" x2="893.3" y2="915.3" stroke="#f4f4f4" stroke-width="1.4863472996616678" stroke-linecap="butt"/>
<line x1="881.4" y1="957.0" x2="893.5" y2="917.7" stroke="#f4f4f4" stroke-width="0.9555966057939215" stroke-linecap="butt"/>
<line x1="881.1" y1="957.0" x2="888.7" y2="917.7" stroke="#f4f4f4" stroke-width="1.1459054165498919" stroke-linecap="butt"/>
<line x1="882.5" y1="957.0" x2="865.2" y2="916.4" stroke="#f4f4f4" stroke-width="0.9436507995320365" stroke-linecap="butt"/>
<line x1="882.0" y1="957.0" x2="865.1" y2="916.4" stroke="#f4f4f4" stroke-width="1.0269636973320515" stroke-linecap="butt"/>
<line x1="882.3" y1="957.0" x2="879.9" y2="915.4" stroke="#f4f4f4" stroke-width="0.8134079311316059" stroke-linecap="butt"/>
<line x1="883.0" y1="957.0" x2="895.1" y2="911.6" stroke="#f4f4f4" stroke-width="0.8019836832229743" stroke-linecap="butt"/>
<line x1="882.8" y1="957.0" x2="873.4" y2="910.0" stroke="#f4f4f4" stroke-width="0.9437290585253694" stroke-linecap="butt"/>
<line x1="945.5" y1="957.0" x2="957.2" y2="910.1" stroke="#f4f4f4" stroke-width="1.1507440843988777" stroke-linecap="butt"/>
<line x1="946.3" y1="957.0" x2="949.0" y2="917.8" stroke="#f4f4f4" stroke-width="1.2327688677523667" stroke-linecap="butt"/>
<line x1="947.5" y1="957.0" x2="952.6" y2="912.7" stroke="#f4f4f4" stroke-width="1.0645664615283026" stroke-linecap="butt"/>
<line x1="948.4" y1="957.0" x2="933.2" y2="918.8" stroke="#f4f4f4" stroke-width="1.405381417958277" stroke-linecap="butt"/>
<line x1="948.1" y1="957.0" x2="960.0" y2="918.2" stroke="#f4f4f4" stroke-width="0.9202799999045279" stroke-linecap="butt"/>
<line x1="948.4" y1="957.0" x2="942.1" y2="917.0" stroke="#f4f4f4" stroke-width="1.3733428117117512" stroke-linecap="butt"/>
<line x1="948.7" y1="957.0" x2="957.6" y2="915.2" stroke="#f4f4f4" stroke-width="0.9820541104942865" stroke-linecap="butt"/>
<line x1="945.9" y1="957.0" x2="949.4" y2="912.3" stroke="#f4f4f4" stroke-width="1.0672062910173106" stroke-linecap="butt"/>
<line x1="945.7" y1="957.0" x2="934.2" y2="911.0" stroke="#f4f4f4" stroke-width="0.8952027634138003" stroke-linecap="butt"/>
<line x1="947.5" y1="957.0" x2="939.9" y2="912.6" stroke="#f4f4f4" stroke-width="1.1672765489368502" stroke-linecap="butt"/>
<line x1="945.8" y1="957.0" x2="958.3" y2="911.5" stroke="#f4f4f4" stroke-width="1.1742830206969999" stroke-linecap="butt"/>
<line x1="945.6" y1="957.0" x2="936.4" y2="916.6" stroke="#f4f4f4" stroke-width="0.8538981871924018" stroke-linecap="butt"/>
<line x1="947.6" y1="957.0" x2="942.2" y2="910.1" stroke="#f4f4f4" stroke-width="0.8614020279364486" stroke-linecap="butt"/>
<line x1="947.1" y1="957.0" x2="938.0" y2="913.1" stroke="#f4f4f4" stroke-width="0.8186407161640002" stroke-linecap="butt"/>
<line x1="947.4" y1="957.0" x2="934.0" y2="913.3" stroke="#f4f4f4" stroke-width="0.8562568945699851" stroke-linecap="butt"/>
<line x1="947.4" y1="957.0" x2="955.7" y2="916.6" stroke="#f4f4f4" stroke-width="1.1707606447826344" stroke-linecap="butt"/>
<line x1="946.6" y1="957.0" x2="941.9" y2="909.5" stroke="#f4f4f4" stroke-width="1.0962298511882311" stroke-linecap="butt"/>
<line x1="949.0" y1="957.0" x2="948.3" y2="910.6" stroke="#f4f4f4" stroke-width="1.3386934911987685" stroke-linecap="butt"/>
<line x1="947.6" y1="957.0" x2="948.2" y2="911.8" stroke="#f4f4f4" stroke-width="1.471498654271525" stroke-linecap="butt"/>
<line x1="945.9" y1="957.0" x2="962.1" y2="911.4" stroke="#f4f4f4" stroke-width="1.1979487067371029" stroke-linecap="butt"/>
<line x1="948.1" y1="957.0" x2="945.1" y2="916.7" stroke="#f4f4f4" stroke-width="0.9548023046179663" stroke-linecap="butt"/>
<line x1="946.7" y1="957.0" x2="953.7" y2="914.1" stroke="#f4f4f4" stroke-width="1.2946726894962786" stroke-linecap="butt"/>
<line x1="949.0" y1="957.0" x2="954.2" y2="909.1" stroke="#f4f4f4" stroke-width="1.3599595980100259" stroke-linecap="butt"/>
<line x1="947.0" y1="957.0" x2="939.4" y2="912.3" stroke="#f4f4f4" stroke-width="1.458306846992274" stroke-linecap="butt"/>
<line x1="945.1" y1="957.0" x2="945.3" y2="915.4" stroke="#f4f4f4" stroke-width="1.129100161900079" stroke-linecap="butt"/>
<line x1="945.4" y1="957.0" x2="948.0" y2="915.9" stroke="#f4f4f4" stroke-width="1.1388042126034676" stroke-linecap="butt"/>
<line x1="946.8" y1="957.0" x2="933.3" y2="917.3" stroke="#f4f4f4" stroke-width="1.0436999383168613" stroke-linecap="butt"/>
<line x1="946.6" y1="957.0" x2="947.0" y2="913.7" stroke="#f4f4f4" stroke-width="0.8934833826201964" stroke-linecap="butt"/>
<line x1="948.9" y1="957.0" x2="931.6" y2="913.4" stroke="#f4f4f4" stroke-width="0.9969051301867011" stroke-linecap="butt"/>
<line x1="948.0" y1="957.0" x2="942.3" y2="915.8" stroke="#f4f4f4" stroke-width="1.1452538581448766" stroke-linecap="butt"/>
<line x1="945.5" y1="957.0" x2="956.5" y2="918.9" stroke="#f4f4f4" stroke-width="0.9443059610864679" stroke-linecap="butt"/>
<line x1="946.5" y1="957.0" x2="942.8" y2="915.0" stroke="#f4f4f4" stroke-width="1.475981533489826" stroke-linecap="butt"/>
<line x1="883.9" y1="982.0" x2="879.6" y2="1025.8" stroke="#f4f4f4" stroke-width="1.2493336663761223" stroke-linecap="butt"/>
<line x1="881.3" y1="982.0" x2="885.8" y2="1028.3" stroke="#f4f4f4" stroke-width="0.8251836523730073" stroke-linecap="butt"/>
<line x1="882.3" y1="982.0" x2="900.3" y2="1025.3" stroke="#f4f4f4" stroke-width="0.8466513092073822" stroke-linecap="butt"/>
<line x1="882.6" y1="982.0" x2="891.8" y2="1023.7" stroke="#f4f4f4" stroke-width="0.9985430036718747" stroke-linecap="butt"/>
<line x1="881.1" y1="982.0" x2="898.7" y2="1023.7" stroke="#f4f4f4" stroke-width="1.4257207383422668" stroke-linecap="butt"/>
<line x1="881.9" y1="982.0" x2="870.9" y2="1022.7" stroke="#f4f4f4" stroke-width="1.4865905775378203" stroke-linecap="butt"/>
<line x1="883.2" y1="982.0" x2="866.6" y2="1022.1" stroke="#f4f4f4" stroke-width="0.8526062346502759" stroke-linecap="butt"/>
<line x1="882.9" y1="982.0" x2="878.6" y2="1027.8" stroke="#f4f4f4" stroke-width="1.3551960978626516" stroke-linecap="butt"/>
<line x1="881.4" y1="982.0" x2="866.7" y2="1028.9" stroke="#f4f4f4" stroke-width="1.3699335333487048" stroke-linecap="butt"/>
<line x1="881.9" y1="982.0" x2="880.9" y2="1028.9" stroke="#f4f4f4" stroke-width="0.9804650723662958" stroke-linecap="butt"/>
<line x1="880.2" y1="982.0" x2="868.0" y2="1025.0" stroke="#f4f4f4" stroke-width="0.9148172176536575" stroke-linecap="butt"/>
<line x1="883.5" y1="982.0" x2="897.0" y2="1025.7" stroke="#f4f4f4" stroke-width="0.905591734924523" stroke-linecap="butt"/>
<line x1="880.4" y1="982.0" x2="881.2" y2="1024.7" stroke="#f4f4f4" stroke-width="0.9844113663273454" stroke-linecap="butt"/>
<line x1="882.0" y1="982.0" x2="898.9" y2="1027.2" stroke="#f4f4f4" stroke-width="1.226647418729929" stroke-linecap="butt"/>
<line x1="882.4" y1="982.0" x2="896.4" y2="1029.5" stroke="#f4f4f4" stroke-width="0.8352412117654172" stroke-linecap="butt"/>
<line x1="881.0" y1="982.0" x2="896.9" y2="1021.6" stroke="#f4f4f4" stroke-width="0.8959170954772937" stroke-linecap="butt"/>
<line x1="881.8" y1="982.0" x2="882.5" y2="1025.8" stroke="#f4f4f4" stroke-width="1.129008041371809" stroke-linecap="butt"/>
<line x1="882.2" y1="982.0" x2="867.6" y2="1027.2" stroke="#f4f4f4" stroke-width="1.0162674263098816" stroke-linecap="butt"/>
<line x1="883.7" y1="982.0" x2="895.3" y2="1029.4" stroke="#f4f4f4" stroke-width="1.4894354039779651" stroke-linecap="butt"/>
<line x1="881.8" y1="982.0" x2="864.8" y2="1023.9" stroke="#f4f4f4" stroke-width="0.9796359579688231" stroke-linecap="butt"/>
<line x1="880.6" y1="982.0" x2="891.8" y2="1029.0" stroke="#f4f4f4" stroke-width="1.1543140745280813" stroke-linecap="butt"/>
<line x1="881.8" y1="982.0" x2="900.7" y2="1028.9" stroke="#f4f4f4" stroke-width="0.8732862511262571" stroke-linecap="butt"/>
<line x1="883.1" y1="982.0" x2="880.3" y2="1025.2" stroke="#f4f4f4" stroke-width="0.9302286886219482" stroke-linecap="butt"/>
<line x1="880.0" y1="982.0" x2="873.2" y2="1029.8" stroke="#f4f4f4" stroke-width="1.227707618014516" stroke-linecap="butt"/>
<line x1="881.7" y1="982.0" x2="865.8" y2="1027.5" stroke="#f4f4f4" stroke-width="1.4477941111638106" stroke-linecap="butt"/>
<line x1="880.9" y1="982.0" x2="870.9" y2="1028.8" stroke="#f4f4f4" stroke-width="0.8333746077601387" stroke-linecap="butt"/>
<line x1="881.6" y1="982.0" x2="865.5" y2="1020.8" stroke="#f4f4f4" stroke-width="1.4803766292677807" stroke-linecap="butt"/>
<line x1="880.1" y1="982.0" x2="876.2" y2="1027.2" stroke="#f4f4f4" stroke-width="1.1610852739775546" stroke-linecap="butt"/>
<line x1="882.3" y1="982.0" x2="883.6" y2="1021.0" stroke="#f4f4f4" stroke-width="1.1122460580272744" stroke-linecap="butt"/>
<line x1="882.8" y1="982.0" x2="875.1" y2="1028.3" stroke="#f4f4f4" stroke-width="0.8842451399584135" stroke-linecap="butt"/>
<line x1="881.1" y1="982.0" x2="866.2" y2="1020.5" stroke="#f4f4f4" stroke-width="1.2456008172724022" stroke-linecap="butt"/>
<line x1="883.5" y1="982.0" x2="900.7" y2="1029.7" stroke="#f4f4f4" stroke-width="0.8870733882363977" stroke-linecap="butt"/>
<line x1="945.9" y1="982.0" x2="956.5" y2="1027.6" stroke="#f4f4f4" stroke-width="1.4969789562399347" stroke-linecap="butt"/>
<line x1="944.9" y1="982.0" x2="949.6" y2="1021.2" stroke="#f4f4f4" stroke-width="0.8907705813893851" stroke-linecap="butt"/>
<line x1="947.4" y1="982.0" x2="950.0" y2="1026.2" stroke="#f4f4f4" stroke-width="0.8071796169179762" stroke-linecap="butt"/>
<line x1="945.0" y1="982.0" x2="928.4" y2="1029.7" stroke="#f4f4f4" stroke-width="0.9849465008571289" stroke-linecap="butt"/>
<line x1="947.2" y1="982.0" x2="959.2" y2="1021.1" stroke="#f4f4f4" stroke-width="1.4277119492540526" stroke-linecap="butt"/>
<line x1="944.0" y1="982.0" x2="948.2" y2="1026.1" stroke="#f4f4f4" stroke-width="1.224635111069997" stroke-linecap="butt"/>
<line x1="946.1" y1="982.0" x2="950.1" y2="1027.7" stroke="#f4f4f4" stroke-width="0.8797426936822152" stroke-linecap="butt"/>
<line x1="944.3" y1="982.0" x2="936.0" y2="1026.5" stroke="#f4f4f4" stroke-width="0.8747869685449775" stroke-linecap="butt"/>
<line x1="946.2" y1="982.0" x2="937.0" y2="1028.0" stroke="#f4f4f4" stroke-width="1.0498196440451093" stroke-linecap="butt"/>
<line x1="945.0" y1="982.0" x2="962.7" y2="1025.8" stroke="#f4f4f4" stroke-width="1.1958248787814618" stroke-linecap="butt"/>
<line x1="945.7" y1="982.0" x2="958.8" y2="1023.7" stroke="#f4f4f4" stroke-width="1.2041763556498266" stroke-linecap="butt"/>
<line x1="944.7" y1="982.0" x2="963.5" y2="1026.4" stroke="#f4f4f4" stroke-width="1.2074308759606862" stroke-linecap="butt"/>
<line x1="946.9" y1="982.0" x2="939.6" y2="1024.7" stroke="#f4f4f4" stroke-width="0.8141577624412025" stroke-linecap="butt"/>
<line x1="946.4" y1="982.0" x2="946.3" y2="1023.1" stroke="#f4f4f4" stroke-width="1.3744722389116601" stroke-linecap="butt"/>
<line x1="945.2" y1="982.0" x2="944.8" y2="1026.3" stroke="#f4f4f4" stroke-width="0.9791903971994809" stroke-linecap="butt"/>
<line x1="944.9" y1="982.0" x2="946.4" y2="1025.3" stroke="#f4f4f4" stroke-width="1.335555632183752" stroke-linecap="butt"/>
<line x1="945.0" y1="982.0" x2="946.0" y2="1023.6" stroke="#f4f4f4" stroke-width="1.3857832998836845" stroke-linecap="butt"/>
<line x1="945.0" y1="982.0" x2="960.5" y2="1029.4" stroke="#f4f4f4" stroke-width="0.8498382859722856" stroke-linecap="butt"/>
<line x1="947.4" y1="982.0" x2="950.7" y2="1020.2" stroke="#f4f4f4" stroke-width="1.2753415458643478" stroke-linecap="butt"/>
<line x1="946.7" y1="982.0" x2="940.1" y2="1024.4" stroke="#f4f4f4" stroke-width="0.9121368047939832" stroke-linecap="butt"/>
<line x1="946.7" y1="982.0" x2="941.1" y2="1027.9" stroke="#f4f4f4" stroke-width="1.2097400385900774" stroke-linecap="butt"/>
<line x1="945.0" y1="982.0" x2="931.7" y2="1022.2" stroke="#f4f4f4" stroke-width="0.8220191919192527" stroke-linecap="butt"/>
<line x1="947.7" y1="982.0" x2="951.0" y2="1025.7" stroke="#f4f4f4" stroke-width="1.1880885965450116" stroke-linecap="butt"/>
<line x1="946.1" y1="982.0" x2="961.1" y2="1024.7" stroke="#f4f4f4" stroke-width="0.9969157116276367" stroke-linecap="butt"/>
<line x1="946.0" y1="982.0" x2="944.7" y2="1029.4" stroke="#f4f4f4" stroke-width="0.8015063622980682" stroke-linecap="butt"/>
<line x1="946.5" y1="982.0" x2="940.7" y2="1022.0" stroke="#f4f4f4" stroke-width="1.1564544855291796" stroke-linecap="butt"/>
<line x1="947.0" y1="982.0" x2="945.1" y2="1029.3" stroke="#f4f4f4" stroke-width="0.8610998807396885" stroke-linecap="butt"/>
<line x1="946.4" y1="982.0" x2="929.1" y2="1027.0" stroke="#f4f4f4" stroke-width="1.2567012625511431" stroke-linecap="butt"/>
<line x1="945.8" y1="982.0" x2="946.0" y2="1020.4" stroke="#f4f4f4" stroke-width="1.384819752071691" stroke-linecap="butt"/>
<line x1="944.5" y1="982.0" x2="949.7" y2="1020.4" stroke="#f4f4f4" stroke-width="1.4333007466970922" stroke-linecap="butt"/>
<line x1="946.8" y1="982.0" x2="947.6" y2="1021.6" stroke="#f4f4f4" stroke-width="1.447318199273539" stroke-linecap="butt"/>
<line x1="947.2" y1="982.0" x2="959.1" y2="1026.5" stroke="#f4f4f4" stroke-width="0.8613028167788601" stroke-linecap="butt"/>
<ellipse cx="852" cy="967" rx="9" ry="8" fill="#f0f0f0"/>
<line x1="852.0" y1="967.0" x2="840.2" y2="969.2" stroke="#fafafa" stroke-width="1.3" stroke-linecap="butt"/>
<line x1="852.0" y1="967.0" x2="849.0" y2="970.7" stroke="#fafafa" stroke-width="1.3" stroke-linecap="butt"/>
<line x1="852.0" y1="967.0" x2="859.3" y2="960.4" stroke="#fafafa" stroke-width="1.3" stroke-linecap="butt"/>
<line x1="852.0" y1="967.0" x2="856.6" y2="967.2" stroke="#fafafa" stroke-width="1.3" stroke-linecap="butt"/>
<line x1="852.0" y1="967.0" x2="839.3" y2="963.2" stroke="#fafafa" stroke-width="1.3" stroke-linecap="butt"/>
<line x1="852.0" y1="967.0" x2="842.6" y2="960.1" stroke="#fafafa" stroke-width="1.3" stroke-linecap="butt"/>
<line x1="852.0" y1="967.0" x2="859.7" y2="971.8" stroke="#fafafa" stroke-width="1.3" stroke-linecap="butt"/>
<line x1="852.0" y1="967.0" x2="855.0" y2="972.3" stroke="#fafafa" stroke-width="1.3" stroke-linecap="butt"/>
<line x1="852.0" y1="967.0" x2="857.1" y2="972.6" stroke="#fafafa" stroke-width="1.3" stroke-linecap="butt"/>
<line x1="852.0" y1="967.0" x2="862.1" y2="969.4" stroke="#fafafa" stroke-width="1.3" stroke-linecap="butt"/>
<line x1="852.0" y1="967.0" x2="844.1" y2="958.7" stroke="#fafafa" stroke-width="1.3" stroke-linecap="butt"/>
<line x1="852.0" y1="967.0" x2="852.5" y2="963.2" stroke="#fafafa" stroke-width="1.3" stroke-linecap="butt"/>
<line x1="852.0" y1="967.0" x2="858.4" y2="961.5" stroke="#fafafa" stroke-width="1.3" stroke-linecap="butt"/>
<line x1="852.0" y1="967.0" x2="860.2" y2="964.2" stroke="#fafafa" stroke-width="1.3" stroke-linecap="butt"/>
<line x1="852.0" y1="967.0" x2="861.6" y2="971.3" stroke="#fafafa" stroke-width="1.3" stroke-linecap="butt"/>
<line x1="852.0" y1="967.0" x2="858.4" y2="976.8" stroke="#fafafa" stroke-width="1.3" stroke-linecap="butt"/>
<line x1="852.0" y1="967.0" x2="839.4" y2="964.5" stroke="#fafafa" stroke-width="1.3" stroke-linecap="butt"/>
<line x1="852.0" y1="967.0" x2="844.7" y2="967.3" stroke="#fafafa" stroke-width="1.3" stroke-linecap="butt"/>
<line x1="852.0" y1="967.0" x2="846.2" y2="959.4" stroke="#fafafa" stroke-width="1.3" stroke-linecap="butt"/>
<line x1="852.0" y1="967.0" x2="845.5" y2="968.3" stroke="#fafafa" stroke-width="1.3" stroke-linecap="butt"/>
<line x1="852.0" y1="967.0" x2="842.2" y2="971.3" stroke="#fafafa" stroke-width="1.3" stroke-linecap="butt"/>
<line x1="852.0" y1="967.0" x2="852.8" y2="971.4" stroke="#fafafa" stroke-width="1.3" stroke-linecap="butt"/>
<line x1="852.0" y1="967.0" x2="841.5" y2="967.9" stroke="#fafafa" stroke-width="1.3" stroke-linecap="butt"/>
<line x1="852.0" y1="967.0" x2="858.1" y2="969.2" stroke="#fafafa" stroke-width="1.3" stroke-linecap="butt"/>
<line x1="852.0" y1="967.0" x2="858.6" y2="966.1" stroke="#fafafa" stroke-width="1.3" stroke-linecap="butt"/>
<line x1="852.0" y1="967.0" x2="853.0" y2="961.4" stroke="#fafafa" stroke-width="1.3" stroke-linecap="butt"/>
<line x1="852.0" y1="967.0" x2="859.6" y2="970.6" stroke="#fafafa" stroke-width="1.3" stroke-linecap="butt"/>
<line x1="852.0" y1="967.0" x2="860.0" y2="960.1" stroke="#fafafa" stroke-width="1.3" stroke-linecap="butt"/>
<line x1="852.0" y1="967.0" x2="862.5" y2="969.6" stroke="#fafafa" stroke-width="1.3" stroke-linecap="butt"/>
<line x1="852.0" y1="967.0" x2="845.6" y2="962.1" stroke="#fafafa" stroke-width="1.3" stroke-linecap="butt"/>
<line x1="852.0" y1="967.0" x2="847.3" y2="960.7" stroke="#fafafa" stroke-width="1.3" stroke-linecap="butt"/>
<line x1="852.0" y1="967.0" x2="856.5" y2="975.0" stroke="#fafafa" stroke-width="1.3" stroke-linecap="butt"/>
<line x1="852.0" y1="967.0" x2="856.9" y2="971.1" stroke="#fafafa" stroke-width="1.3" stroke-linecap="butt"/>
<line x1="852.0" y1="967.0" x2="857.8" y2="960.8" stroke="#fafafa" stroke-width="1.3" stroke-linecap="butt"/>
<line x1="852.0" y1="967.0" x2="840.9" y2="966.4" stroke="#fafafa" stroke-width="1.3" stroke-linecap="butt"/>
<line x1="852.0" y1="967.0" x2="844.2" y2="967.3" stroke="#fafafa" stroke-width="1.3" stroke-linecap="butt"/>
<line x1="852.0" y1="967.0" x2="848.0" y2="965.9" stroke="#fafafa" stroke-width="1.3" stroke-linecap="butt"/>
<line x1="852.0" y1="967.0" x2="849.4" y2="969.8" stroke="#fafafa" stroke-width="1.3" stroke-linecap="butt"/>
<line x1="852.0" y1="967.0" x2="865.1" y2="966.7" stroke="#fafafa" stroke-width="1.3" stroke-linecap="butt"/>
<line x1="852.0" y1="967.0" x2="848.8" y2="963.3" stroke="#fafafa" stroke-width="1.3" stroke-linecap="butt"/>
<line x1="852.0" y1="967.0" x2="856.2" y2="962.7" stroke="#fafafa" stroke-width="1.3" stroke-linecap="butt"/>
<line x1="852.0" y1="967.0" x2="855.5" y2="959.1" stroke="#fafafa" stroke-width="1.3" stroke-linecap="butt"/>
<line x1="852.0" y1="967.0" x2="843.0" y2="961.4" stroke="#fafafa" stroke-width="1.3" stroke-linecap="butt"/>
<line x1="852.0" y1="967.0" x2="850.7" y2="976.8" stroke="#fafafa" stroke-width="1.3" stroke-linecap="butt"/>
<line x1="852.0" y1="967.0" x2="840.8" y2="964.6" stroke="#fafafa" stroke-width="1.3" stroke-linecap="butt"/>
<line x1="852.0" y1="967.0" x2="855.5" y2="962.6" stroke="#fafafa" stroke-width="1.3" stroke-linecap="butt"/>
<line x1="852.0" y1="967.0" x2="845.6" y2="970.2" stroke="#fafafa" stroke-width="1.3" stroke-linecap="butt"/>
<line x1="852.0" y1="967.0" x2="863.3" y2="971.7" stroke="#fafafa" stroke-width="1.3" stroke-linecap="butt"/>
<line x1="852.0" y1="967.0" x2="848.5" y2="960.5" stroke="#fafafa" stroke-width="1.3" stroke-linecap="butt"/>
<line x1="852.0" y1="967.0" x2="839.7" y2="964.1" stroke="#fafafa" stroke-width="1.3" stroke-linecap="butt"/>
<ellipse cx="915" cy="973" rx="9" ry="8" fill="#f0f0f0"/>
<line x1="915.0" y1="973.0" x2="921.9" y2="975.6" stroke="#fafafa" stroke-width="1.3" stroke-linecap="butt"/>
<line x1="915.0" y1="973.0" x2="911.4" y2="966.1" stroke="#fafafa" stroke-width="1.3" stroke-linecap="butt"/>
<line x1="915.0" y1="973.0" x2="908.4" y2="973.1" stroke="#fafafa" stroke-width="1.3" stroke-linecap="butt"/>
<line x1="915.0" y1="973.0" x2="916.8" y2="981.4" stroke="#fafafa" stroke-width="1.3" stroke-linecap="butt"/>
<line x1="915.0" y1="973.0" x2="907.8" y2="982.0" stroke="#fafafa" stroke-width="1.3" stroke-linecap="butt"/>
<line x1="915.0" y1="973.0" x2="926.2" y2="966.7" stroke="#fafafa" stroke-width="1.3" stroke-linecap="butt"/>
<line x1="915.0" y1="973.0" x2="913.5" y2="980.2" stroke="#fafafa" stroke-width="1.3" stroke-linecap="butt"/>
<line x1="915.0" y1="973.0" x2="921.0" y2="976.7" stroke="#fafafa" stroke-width="1.3" stroke-linecap="butt"/>
<line x1="915.0" y1="973.0" x2="923.0" y2="976.3" stroke="#fafafa" stroke-width="1.3" stroke-linecap="butt"/>
<line x1="915.0" y1="973.0" x2="926.2" y2="970.5" stroke="#fafafa" stroke-width="1.3" stroke-linecap="butt"/>
<line x1="915.0" y1="973.0" x2="910.6" y2="977.1" stroke="#fafafa" stroke-width="1.3" stroke-linecap="butt"/>
<line x1="915.0" y1="973.0" x2="919.1" y2="971.5" stroke="#fafafa" stroke-width="1.3" stroke-linecap="butt"/>
<line x1="915.0" y1="973.0" x2="922.1" y2="964.7" stroke="#fafafa" stroke-width="1.3" stroke-linecap="butt"/>
<line x1="915.0" y1="973.0" x2="927.3" y2="977.5" stroke="#fafafa" stroke-width="1.3" stroke-linecap="butt"/>
<line x1="915.0" y1="973.0" x2="910.2" y2="968.0" stroke="#fafafa" stroke-width="1.3" stroke-linecap="butt"/>
<line x1="915.0" y1="973.0" x2="906.0" y2="976.7" stroke="#fafafa" stroke-width="1.3" stroke-linecap="butt"/>
<line x1="915.0" y1="973.0" x2="902.5" y2="971.3" stroke="#fafafa" stroke-width="1.3" stroke-linecap="butt"/>
<line x1="915.0" y1="973.0" x2="920.7" y2="969.4" stroke="#fafafa" stroke-width="1.3" stroke-linecap="butt"/>
<line x1="915.0" y1="973.0" x2="926.8" y2="973.5" stroke="#fafafa" stroke-width="1.3" stroke-linecap="butt"/>
<line x1="915.0" y1="973.0" x2="908.7" y2="966.2" stroke="#fafafa" stroke-width="1.3" stroke-linecap="butt"/>
<line x1="915.0" y1="973.0" x2="919.2" y2="974.7" stroke="#fafafa" stroke-width="1.3" stroke-linecap="butt"/>
<line x1="915.0" y1="973.0" x2="921.1" y2="969.4" stroke="#fafafa" stroke-width="1.3" stroke-linecap="butt"/>
<line x1="915.0" y1="973.0" x2="901.5" y2="974.9" stroke="#fafafa" stroke-width="1.3" stroke-linecap="butt"/>
<line x1="915.0" y1="973.0" x2="918.5" y2="980.8" stroke="#fafafa" stroke-width="1.3" stroke-linecap="butt"/>
<line x1="915.0" y1="973.0" x2="923.9" y2="975.9" stroke="#fafafa" stroke-width="1.3" stroke-linecap="butt"/>
<line x1="915.0" y1="973.0" x2="914.6" y2="968.6" stroke="#fafafa" stroke-width="1.3" stroke-linecap="butt"/>
<line x1="915.0" y1="973.0" x2="915.8" y2="962.1" stroke="#fafafa" stroke-width="1.3" stroke-linecap="butt"/>
<line x1="915.0" y1="973.0" x2="920.5" y2="964.5" stroke="#fafafa" stroke-width="1.3" stroke-linecap="butt"/>
<line x1="915.0" y1="973.0" x2="925.6" y2="970.1" stroke="#fafafa" stroke-width="1.3" stroke-linecap="butt"/>
<line x1="915.0" y1="973.0" x2="903.3" y2="970.1" stroke="#fafafa" stroke-width="1.3" stroke-linecap="butt"/>
<line x1="915.0" y1="973.0" x2="918.6" y2="965.3" stroke="#fafafa" stroke-width="1.3" stroke-linecap="butt"/>
<line x1="915.0" y1="973.0" x2="912.2" y2="969.0" stroke="#fafafa" stroke-width="1.3" stroke-linecap="butt"/>
<line x1="915.0" y1="973.0" x2="911.2" y2="977.9" stroke="#fafafa" stroke-width="1.3" stroke-linecap="butt"/>
<line x1="915.0" y1="973.0" x2="922.5" y2="965.7" stroke="#fafafa" stroke-width="1.3" stroke-linecap="butt"/>
<line x1="915.0" y1="973.0" x2="911.5" y2="983.8" stroke="#fafafa" stroke-width="1.3" stroke-linecap="butt"/>
<line x1="915.0" y1="973.0" x2="919.3" y2="974.3" stroke="#fafafa" stroke-width="1.3" stroke-linecap="butt"/>
<line x1="915.0" y1="973.0" x2="912.8" y2="976.4" stroke="#fafafa" stroke-width="1.3" stroke-linecap="butt"/>
<line x1="915.0" y1="973.0" x2="922.2" y2="971.1" stroke="#fafafa" stroke-width="1.3" stroke-linecap="butt"/>
<line x1="915.0" y1="973.0" x2="905.4" y2="979.5" stroke="#fafafa" stroke-width="1.3" stroke-linecap="butt"/>
<line x1="915.0" y1="973.0" x2="904.9" y2="971.3" stroke="#fafafa" stroke-width="1.3" stroke-linecap="butt"/>
<line x1="915.0" y1="973.0" x2="907.0" y2="975.5" stroke="#fafafa" stroke-width="1.3" stroke-linecap="butt"/>
<line x1="915.0" y1="973.0" x2="921.5" y2="971.6" stroke="#fafafa" stroke-width="1.3" stroke-linecap="butt"/>
<line x1="915.0" y1="973.0" x2="906.3" y2="971.9" stroke="#fafafa" stroke-width="1.3" stroke-linecap="butt"/>
<line x1="915.0" y1="973.0" x2="918.5" y2="976.4" stroke="#fafafa" stroke-width="1.3" stroke-linecap="butt"/>
<line x1="915.0" y1="973.0" x2="903.0" y2="972.6" stroke="#fafafa" stroke-width="1.3" stroke-linecap="butt"/>
<line x1="915.0" y1="973.0" x2="910.8" y2="974.5" stroke="#fafafa" stroke-width="1.3" stroke-linecap="butt"/>
<line x1="915.0" y1="973.0" x2="919.9" y2="971.3" stroke="#fafafa" stroke-width="1.3" stroke-linecap="butt"/>
<line x1="915.0" y1="973.0" x2="918.3" y2="970.6" stroke="#fafafa" stroke-width="1.3" stroke-linecap="butt"/>
<line x1="915.0" y1="973.0" x2="911.8" y2="969.5" stroke="#fafafa" stroke-width="1.3" stroke-linecap="butt"/>
<line x1="915.0" y1="973.0" x2="914.5" y2="979.6" stroke="#fafafa" stroke-width="1.3" stroke-linecap="butt"/>
<line x1="820.0" y1="1000.0" x2="870.0" y2="985.0" stroke="#f5f5f5" stroke-width="1.6" stroke-linecap="butt"/>
<line x1="880.0" y1="995.0" x2="940.0" y2="960.0" stroke="#f5f5f5" stroke-width="1.6" stroke-linecap="butt"/>
<line x1="900.0" y1="960.0" x2="950.0" y2="985.0" stroke="#f5f5f5" stroke-width="1.6" stroke-linecap="butt"/>
<line x1="835.0" y1="940.0" x2="870.0" y2="975.0" stroke="#f5f5f5" stroke-width="1.6" stroke-linecap="butt"/>
<rect x="967" y="918.5" width="34.5" height="104" fill="#f5d300"/>
<path d="M1001,919 Q1009,925 1009,970 Q1009,1016 1001,1022 Z" fill="#1a1a1a"/>
<path d="M1006,957 L1065,957 Q1072,962 1077,968 Q1082,962 1086,956 L1108,956 Q1112,960 1112,968 Q1112,978 1108,981 L1086,981 Q1080,976 1066,983 L1006,983 Z" fill="url(#metalR)"/>
<line x1="653.0" y1="776.0" x2="730.0" y2="930.0" stroke="#0e0e0e" stroke-width="5" stroke-linecap="butt"/>
<line x1="829.0" y1="755.0" x2="984.0" y2="962.0" stroke="#0e0e0e" stroke-width="5" stroke-linecap="butt"/>
<line x1="1074.0" y1="843.0" x2="1060.0" y2="966.0" stroke="#0e0e0e" stroke-width="5" stroke-linecap="butt"/>
<line x1="1017.5" y1="818.7" x2="1017.5" y2="1120.5" stroke="#0e0e0e" stroke-width="4.6" stroke-linecap="butt"/>
<line x1="987.0" y1="818.7" x2="1028.0" y2="818.7" stroke="#0e0e0e" stroke-width="4.6" stroke-linecap="butt"/>
<line x1="987.0" y1="1120.5" x2="1028.0" y2="1120.5" stroke="#0e0e0e" stroke-width="4.6" stroke-linecap="butt"/>
<line x1="1140.3" y1="951.5" x2="1140.3" y2="987.0" stroke="#0e0e0e" stroke-width="4.6" stroke-linecap="butt"/>
<line x1="1110.5" y1="951.5" x2="1148.6" y2="951.5" stroke="#0e0e0e" stroke-width="4.6" stroke-linecap="butt"/>
<line x1="1110.5" y1="987.0" x2="1148.6" y2="987.0" stroke="#0e0e0e" stroke-width="4.6" stroke-linecap="butt"/>
<line x1="631.8" y1="1149.2" x2="975.6" y2="1149.2" stroke="#0e0e0e" stroke-width="4.6" stroke-linecap="butt"/>
<line x1="631.8" y1="1119.4" x2="631.8" y2="1157.0" stroke="#0e0e0e" stroke-width="4.6" stroke-linecap="butt"/>
<line x1="975.6" y1="1119.4" x2="975.6" y2="1157.0" stroke="#0e0e0e" stroke-width="4.6" stroke-linecap="butt"/>
<text x="60.0" y="20.0" font-size="26" textLength="350.4" lengthAdjust="spacingAndGlyphs">0.64cm diameter ingegoten</text>
<text x="145.4" y="59.2" font-size="26" textLength="179.6" lengthAdjust="spacingAndGlyphs">snelkoppeling</text>
<text x="19.2" y="171.5" font-size="23" textLength="91.1" lengthAdjust="spacingAndGlyphs">Corrosie</text>
<text x="10.4" y="196.0" font-size="23" textLength="103.9" lengthAdjust="spacingAndGlyphs">resterend</text>
<text x="36.0" y="220.2" font-size="23" textLength="51.6" lengthAdjust="spacingAndGlyphs">en in</text>
<text x="4.7" y="245.0" font-size="23" textLength="119.3" lengthAdjust="spacingAndGlyphs">zink-nikkel</text>
<text x="5.3" y="269.0" font-size="23" textLength="117.7" lengthAdjust="spacingAndGlyphs">geplateerd</text>
<text x="471.0" y="167.0" font-size="25" textLength="116.4" lengthAdjust="spacingAndGlyphs">Basis van</text>
<text x="436.3" y="206.3" font-size="25" textLength="185.7" lengthAdjust="spacingAndGlyphs">polypropyleen</text>
<text x="411.2" y="410.0" font-size="26" textLength="266.4" lengthAdjust="spacingAndGlyphs">2.55cm lange stevige</text>
<text x="424.3" y="449.6" font-size="26" textLength="241.1" lengthAdjust="spacingAndGlyphs">nylon borstelharen</text>
<text x="154.3" y="541.2" font-size="26" textLength="173.1" lengthAdjust="spacingAndGlyphs">5cm diameter</text>
<text x="69.0" y="698.4" font-size="26" textLength="350.3" lengthAdjust="spacingAndGlyphs">0.64cm diameter ingegoten</text>
<text x="154.3" y="737.9" font-size="26" textLength="179.7" lengthAdjust="spacingAndGlyphs">snelkoppeling</text>
<text x="15.0" y="815.4" font-size="23" textLength="91.3" lengthAdjust="spacingAndGlyphs">Corrosie</text>
<text x="6.0" y="839.5" font-size="23" textLength="104.3" lengthAdjust="spacingAndGlyphs">resterend</text>
<text x="32.0" y="864.2" font-size="23" textLength="51.6" lengthAdjust="spacingAndGlyphs">en in</text>
<text x="0.0" y="889.0" font-size="23" textLength="119.7" lengthAdjust="spacingAndGlyphs">zink-nikkel</text>
<text x="1.3" y="913.7" font-size="23" textLength="117.7" lengthAdjust="spacingAndGlyphs">geplateerd</text>
<text x="403.0" y="771.6" font-size="25" textLength="115.7" lengthAdjust="spacingAndGlyphs">Basis van</text>
<text x="367.8" y="811.3" font-size="25" textLength="186.0" lengthAdjust="spacingAndGlyphs">polypropyleen</text>
<text x="457.7" y="900.5" font-size="23" textLength="144.7" lengthAdjust="spacingAndGlyphs">2.55cm lange</text>
<text x="454.8" y="939.1" font-size="23" textLength="144.6" lengthAdjust="spacingAndGlyphs">stevige nylon</text>
<text x="460.6" y="978.4" font-size="23" textLength="138.8" lengthAdjust="spacingAndGlyphs">borstelharen</text>
<text x="142.3" y="1187.7" font-size="25" textLength="188.4" lengthAdjust="spacingAndGlyphs">10cm diameter</text>
<text x="576.5" y="694.7" font-size="26" textLength="150.7" lengthAdjust="spacingAndGlyphs">3.2cm lange</text>
<text x="565.0" y="733.6" font-size="26" textLength="169.1" lengthAdjust="spacingAndGlyphs">stevige nylon</text>
<text x="572.0" y="773.0" font-size="26" textLength="161.2" lengthAdjust="spacingAndGlyphs">borstelharen</text>
<text x="742.5" y="711.3" font-size="26" textLength="213.8" lengthAdjust="spacingAndGlyphs">2.55cm basis van</text>
<text x="756.5" y="750.5" font-size="26" textLength="185.5" lengthAdjust="spacingAndGlyphs">polypropyleen</text>
<text x="1063.7" y="708.3" font-size="22" textLength="90.9" lengthAdjust="spacingAndGlyphs">Corrosie</text>
<text x="1054.8" y="733.5" font-size="22" textLength="104.1" lengthAdjust="spacingAndGlyphs">resterend</text>
<text x="1080.3" y="757.6" font-size="22" textLength="51.7" lengthAdjust="spacingAndGlyphs">en in</text>
<text x="1048.4" y="782.3" font-size="22" textLength="120.1" lengthAdjust="spacingAndGlyphs">zink-nikkel</text>
<text x="1043.5" y="806.8" font-size="22" textLength="131.3" lengthAdjust="spacingAndGlyphs">geplateerde</text>
<text x="1032.0" y="830.9" font-size="22" textLength="154.5" lengthAdjust="spacingAndGlyphs">snelkoppeling</text>
<text x="1159.6" y="965.0" font-size="22" textLength="36.4" lengthAdjust="spacingAndGlyphs">8.3</text>
<text x="1159.6" y="989.8" font-size="22" textLength="36.4" lengthAdjust="spacingAndGlyphs">cm</text>
<text x="1027.5" y="1068.2" font-size="25" textLength="74.8" lengthAdjust="spacingAndGlyphs">8.3cm</text>
<text x="774.6" y="1182.0" font-size="24" textLength="74.6" lengthAdjust="spacingAndGlyphs">8.9cm</text>
</svg>
</body></html>
